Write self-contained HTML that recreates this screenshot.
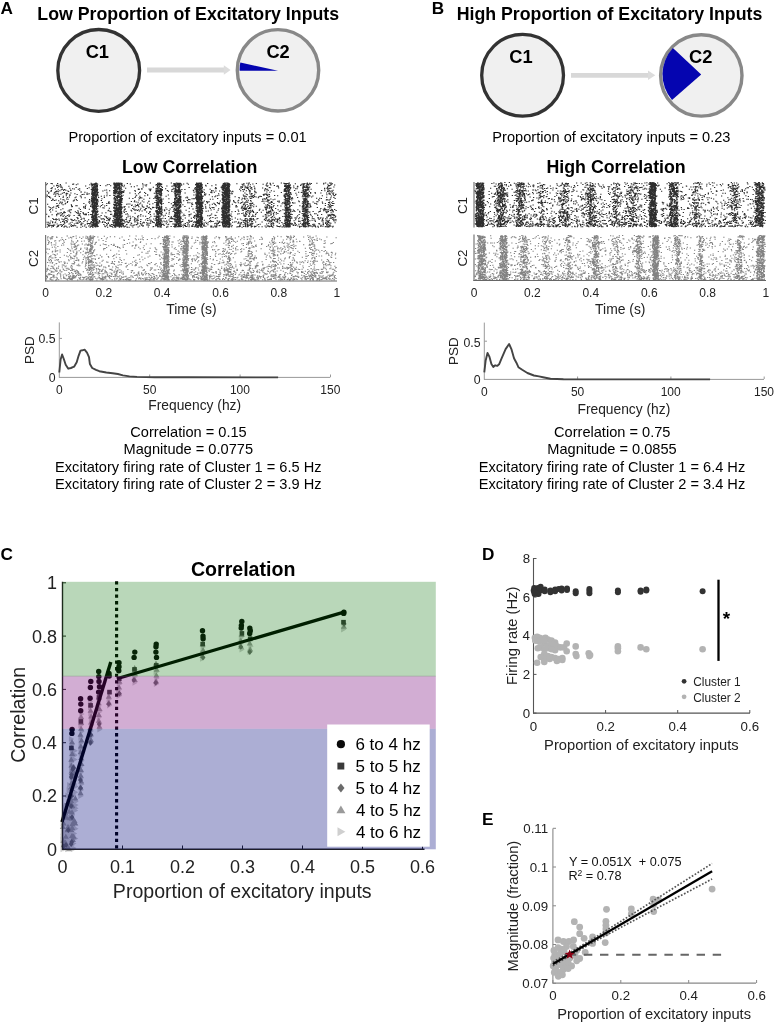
<!DOCTYPE html><html><head><meta charset="utf-8"><style>html,body{margin:0;padding:0;background:#fff;overflow:hidden}svg{display:block;will-change:transform}</style></head><body><svg width="777" height="1024" viewBox="0 0 777 1024" font-family='"Liberation Sans", sans-serif'>
<rect width="777" height="1024" fill="#fff"/>
<text x="0.50" y="13.70" font-size="17.20" text-anchor="start" font-weight="bold" fill="#000">A</text>
<text x="37.35" y="19.50" font-size="17.75" text-anchor="start" font-weight="bold" fill="#000">Low Proportion of Excitatory Inputs</text>
<circle cx="98.7" cy="70.4" r="40.9" fill="#f0f0f0" stroke="#333" stroke-width="3.3"/>
<text x="85.65" y="57.90" font-size="18.30" text-anchor="start" font-weight="bold" fill="#000">C1</text>
<line x1="147" y1="70.05" x2="224.5" y2="70.05" stroke="#d8d8d8" stroke-width="5"/>
<polygon points="223.8,65.3 230.6,70.05 223.8,74.8" fill="#dcdcdc"/>
<circle cx="278" cy="70.3" r="40.7" fill="#f0f0f0" stroke="#888" stroke-width="3.4"/>
<path d="M278 70.8 L239.6 70.8 A38.6 38.6 0 0 1 240.3 62.4 Z" fill="#0505b0"/>
<text x="266.38" y="57.60" font-size="18.30" text-anchor="start" font-weight="bold" fill="#000">C2</text>
<text x="68.53" y="141.90" font-size="14.60" text-anchor="start" fill="#000">Proportion of excitatory inputs = 0.01</text>
<text x="121.94" y="172.80" font-size="17.80" text-anchor="start" font-weight="bold" fill="#000">Low Correlation</text>
<path transform="scale(0.25)" fill="none" stroke="#2e2e2e" stroke-width="4.4" d="M262 732h5m114 0h5m68 0h5m-2 0h5m2 0h5m-4 0h5m1 0h5m2 0h5m116 0h5m30 0h5m44 0h5m15 0h5m-4 0h5m75 0h5m5 0h5m-3 0h5m-1 0h5m-2 0h5m88 0h5m1 0h5m-2 0h5m-1 0h5m81 0h5m67 0h5m51 0h5m27 0h5m67 0h5m68 0h5m11 0h5m1 0h5m-965 1h5m16 0h5m65 0h5m-1 0h5m8 0h5m0 0h5m4 0h5m139 0h5m-3 0h5m1 0h5m65 0h5m-1 0h5m-1 0h5m-1 0h5m23 0h5m38 0h5m-3 0h5m-1 0h5m-4 0h5m-1 0h5m90 0h5m-2 0h5m-3 0h5m-1 0h5m76 0h5m2 0h5m81 0h5m7 0h5m38 0h5m15 0h5m78 0h5m24 0h5m23 0h5m22 0h5m-1123 1h5m21 0h5m146 0h5m-2 0h5m71 0h5m5 0h5m2 0h5m3 0h5m-4 0h5m18 0h5m126 0h5m51 0h5m8 0h5m2 0h5m-1 0h5m-3 0h5m66 0h5m5 0h5m22 0h5m59 0h5m16 0h5m55 0h5m45 0h5m110 0h5m0 0h5m-2 0h5m-4 0h5m65 0h5m21 0h5m-1061 1h5m15 0h5m164 0h5m5 0h5m68 0h5m-1 0h5m-4 0h5m-2 0h5m2 0h5m3 0h5m-2 0h5m78 0h5m55 0h5m2 0h5m0 0h5m53 0h5m13 0h5m-1 0h5m-4 0h5m70 0h5m0 0h5m103 0h5m-2 0h5m28 0h5m186 0h5m-1 0h5m34 0h5m27 0h5m9 0h5m-4 0h5m95 0h5m-4 0h5m-1040 1h5m12 0h5m55 0h5m-3 0h5m7 0h5m66 0h5m3 0h5m6 0h5m4 0h5m-1 0h5m28 0h5m120 0h5m43 0h5m-3 0h5m1 0h5m14 0h5m8 0h5m46 0h5m-4 0h5m9 0h5m-3 0h5m85 0h5m-2 0h5m-1 0h5m6 0h5m2 0h5m89 0h5m50 0h5m10 0h5m60 0h5m3 0h5m49 0h5m4 0h5m9 0h5m58 0h5m-1009 1h5m-2 0h5m68 0h5m-3 0h5m2 0h5m-4 0h5m2 0h5m2 0h5m60 0h5m3 0h5m4 0h5m-2 0h5m-3 0h5m0 0h5m154 0h5m53 0h5m6 0h5m-2 0h5m35 0h5m32 0h5m10 0h5m-4 0h5m89 0h5m9 0h5m-2 0h5m46 0h5m79 0h5m155 0h5m12 0h5m-4 0h5m6 0h5m65 0h5m-1075 1h5m128 0h5m-3 0h5m0 0h5m50 0h5m22 0h5m1 0h5m-1 0h5m0 0h5m143 0h5m3 0h5m1 0h5m-1 0h5m-3 0h5m61 0h5m-1 0h5m-4 0h5m60 0h5m6 0h5m9 0h5m80 0h5m7 0h5m323 0h5m87 0h5m-1144 1h5m115 0h5m49 0h5m5 0h5m0 0h5m4 0h5m41 0h5m26 0h5m-3 0h5m-4 0h5m118 0h5m36 0h5m7 0h5m55 0h5m-4 0h5m0 0h5m6 0h5m3 0h5m57 0h5m1 0h5m-4 0h5m10 0h5m50 0h5m32 0h5m5 0h5m4 0h5m47 0h5m-1 0h5m13 0h5m3 0h5m154 0h5m39 0h5m5 0h5m13 0h5m-2 0h5m-873 1h5m2 0h5m-4 0h5m-3 0h5m2 0h5m97 0h5m81 0h5m3 0h5m38 0h5m1 0h5m64 0h5m0 0h5m0 0h5m-2 0h5m-4 0h5m0 0h5m4 0h5m52 0h5m-3 0h5m-1 0h5m2 0h5m1 0h5m1 0h5m50 0h5m30 0h5m-3 0h5m-4 0h5m3 0h5m0 0h5m0 0h5m159 0h5m55 0h5m79 0h5m1 0h5m100 0h5m-1117 1h5m0 0h5m221 0h5m5 0h5m-1 0h5m-2 0h5m-1 0h5m14 0h5m195 0h5m10 0h5m7 0h5m60 0h5m-3 0h5m-3 0h5m24 0h5m67 0h5m3 0h5m0 0h5m-1 0h5m55 0h5m88 0h5m70 0h5m10 0h5m-3 0h5m0 0h5m156 0h5m-960 1h5m-2 0h5m14 0h5m7 0h5m53 0h5m4 0h5m1 0h5m-4 0h5m-3 0h5m-4 0h5m5 0h5m139 0h5m59 0h5m6 0h5m3 0h5m67 0h5m1 0h5m-1 0h5m4 0h5m79 0h5m8 0h5m-4 0h5m2 0h5m181 0h5m47 0h5m3 0h5m40 0h5m106 0h5m-1 0h5m-1096 1h5m-3 0h5m10 0h5m131 0h5m2 0h5m32 0h5m14 0h5m15 0h5m4 0h5m-3 0h5m-4 0h5m-1 0h5m65 0h5m79 0h5m3 0h5m56 0h5m10 0h5m-1 0h5m62 0h5m-3 0h5m-4 0h5m-3 0h5m-2 0h5m-2 0h5m0 0h5m39 0h5m37 0h5m-2 0h5m-4 0h5m1 0h5m2 0h5m-4 0h5m159 0h5m35 0h5m23 0h5m68 0h5m7 0h5m88 0h5m-1107 1h5m20 0h5m97 0h5m38 0h5m69 0h5m12 0h5m-2 0h5m3 0h5m-3 0h5m90 0h5m41 0h5m3 0h5m24 0h5m20 0h5m10 0h5m3 0h5m-3 0h5m72 0h5m-2 0h5m2 0h5m15 0h5m61 0h5m-1 0h5m-2 0h5m0 0h5m-3 0h5m7 0h5m58 0h5m7 0h5m71 0h5m71 0h5m26 0h5m34 0h5m-3 0h5m4 0h5m84 0h5m-4 0h5m-1085 1h5m36 0h5m87 0h5m6 0h5m0 0h5m-4 0h5m70 0h5m0 0h5m-3 0h5m-4 0h5m8 0h5m145 0h5m10 0h5m37 0h5m7 0h5m87 0h5m95 0h5m2 0h5m-4 0h5m-4 0h5m-3 0h5m3 0h5m101 0h5m48 0h5m33 0h5m26 0h5m4 0h5m0 0h5m33 0h5m21 0h5m6 0h5m-857 1h5m2 0h5m-2 0h5m-4 0h5m-2 0h5m67 0h5m-1 0h5m159 0h5m12 0h5m63 0h5m0 0h5m-4 0h5m61 0h5m0 0h5m-1 0h5m1 0h5m-2 0h5m-2 0h5m99 0h5m1 0h5m78 0h5m133 0h5m14 0h5m-4 0h5m-787 1h5m4 0h5m73 0h5m27 0h5m25 0h5m7 0h5m95 0h5m60 0h5m-3 0h5m9 0h5m66 0h5m93 0h5m6 0h5m12 0h5m45 0h5m0 0h5m138 0h5m73 0h5m16 0h5m13 0h5m-989 1h5m123 0h5m-3 0h5m8 0h5m63 0h5m0 0h5m4 0h5m1 0h5m90 0h5m126 0h5m1 0h5m3 0h5m66 0h5m0 0h5m-2 0h5m92 0h5m2 0h5m-4 0h5m3 0h5m-4 0h5m-2 0h5m44 0h5m15 0h5m156 0h5m-2 0h5m-1 0h5m-4 0h5m-3 0h5m-3 0h5m29 0h5m23 0h5m16 0h5m67 0h5m20 0h5m-1097 1h5m124 0h5m6 0h5m-3 0h5m65 0h5m0 0h5m0 0h5m14 0h5m124 0h5m16 0h5m63 0h5m2 0h5m-2 0h5m2 0h5m65 0h5m0 0h5m0 0h5m80 0h5m4 0h5m13 0h5m-2 0h5m68 0h5m151 0h5m2 0h5m2 0h5m55 0h5m0 0h5m-1 0h5m4 0h5m-1032 1h5m17 0h5m69 0h5m63 0h5m3 0h5m89 0h5m-4 0h5m-2 0h5m148 0h5m-3 0h5m-4 0h5m-4 0h5m9 0h5m55 0h5m42 0h5m20 0h5m1 0h5m8 0h5m4 0h5m48 0h5m23 0h5m-2 0h5m-3 0h5m-4 0h5m3 0h5m0 0h5m0 0h5m50 0h5m16 0h5m11 0h5m66 0h5m66 0h5m0 0h5m-2 0h5m0 0h5m45 0h5m0 0h5m3 0h5m0 0h5m76 0h5m-959 1h5m7 0h5m-4 0h5m-4 0h5m0 0h5m79 0h5m1 0h5m-4 0h5m4 0h5m236 0h5m73 0h5m-3 0h5m3 0h5m95 0h5m2 0h5m0 0h5m159 0h5m64 0h5m9 0h5m7 0h5m31 0h5m-4 0h5m-968 1h5m116 0h5m88 0h5m0 0h5m1 0h5m-1 0h5m1 0h5m146 0h5m73 0h5m-4 0h5m65 0h5m1 0h5m2 0h5m-3 0h5m1 0h5m76 0h5m1 0h5m0 0h5m6 0h5m66 0h5m3 0h5m2 0h5m3 0h5m11 0h5m27 0h5m59 0h5m94 0h5m10 0h5m-4 0h5m-2 0h5m-2 0h5m70 0h5m-1036 1h5m87 0h5m-1 0h5m8 0h5m62 0h5m-2 0h5m2 0h5m0 0h5m-1 0h5m23 0h5m118 0h5m63 0h5m1 0h5m97 0h5m59 0h5m31 0h5m0 0h5m-4 0h5m-3 0h5m-1 0h5m46 0h5m177 0h5m10 0h5m67 0h5m60 0h5m4 0h5m-4 0h5m6 0h5m-1 0h5m-1124 1h5m140 0h5m28 0h5m85 0h5m90 0h5m53 0h5m0 0h5m-4 0h5m3 0h5m-1 0h5m54 0h5m8 0h5m86 0h5m81 0h5m1 0h5m-4 0h5m2 0h5m-1 0h5m-1 0h5m70 0h5m68 0h5m74 0h5m0 0h5m-4 0h5m1 0h5m-951 1h5m78 0h5m23 0h5m52 0h5m-3 0h5m-2 0h5m85 0h5m0 0h5m-1 0h5m155 0h5m18 0h5m32 0h5m-1 0h5m8 0h5m-4 0h5m56 0h5m3 0h5m6 0h5m3 0h5m-2 0h5m48 0h5m-3 0h5m27 0h5m1 0h5m2 0h5m3 0h5m83 0h5m130 0h5m16 0h5m17 0h5m1 0h5m18 0h5m100 0h5m-1100 1h5m71 0h5m75 0h5m-4 0h5m4 0h5m-3 0h5m90 0h5m64 0h5m38 0h5m2 0h5m15 0h5m75 0h5m76 0h5m-2 0h5m3 0h5m1 0h5m-2 0h5m81 0h5m6 0h5m6 0h5m102 0h5m117 0h5m152 0h5m10 0h5m-1005 1h5m48 0h5m-2 0h5m-2 0h5m-2 0h5m3 0h5m-4 0h5m-4 0h5m69 0h5m-1 0h5m89 0h5m5 0h5m57 0h5m11 0h5m63 0h5m0 0h5m57 0h5m5 0h5m45 0h5m45 0h5m-4 0h5m62 0h5m45 0h5m46 0h5m6 0h5m65 0h5m4 0h5m4 0h5m59 0h5m3 0h5m9 0h5m-998 1h5m2 0h5m102 0h5m-2 0h5m-1 0h5m-3 0h5m0 0h5m1 0h5m0 0h5m83 0h5m70 0h5m83 0h5m0 0h5m-2 0h5m37 0h5m31 0h5m7 0h5m41 0h5m6 0h5m-4 0h5m1 0h5m81 0h5m-3 0h5m-1 0h5m5 0h5m5 0h5m50 0h5m2 0h5m12 0h5m138 0h5m-3 0h5m85 0h5m0 0h5m-1006 1h5m7 0h5m122 0h5m-1 0h5m5 0h5m-2 0h5m66 0h5m-4 0h5m-3 0h5m-2 0h5m-1 0h5m12 0h5m110 0h5m27 0h5m63 0h5m0 0h5m7 0h5m68 0h5m1 0h5m13 0h5m81 0h5m-4 0h5m1 0h5m1 0h5m-3 0h5m54 0h5m84 0h5m72 0h5m7 0h5m-3 0h5m52 0h5m-1 0h5m2 0h5m-947 1h5m84 0h5m50 0h5m33 0h5m-4 0h5m7 0h5m-4 0h5m-4 0h5m115 0h5m42 0h5m35 0h5m9 0h5m-3 0h5m8 0h5m65 0h5m8 0h5m89 0h5m-1 0h5m6 0h5m245 0h5m59 0h5m-3 0h5m82 0h5m-1052 1h5m50 0h5m45 0h5m-2 0h5m4 0h5m3 0h5m26 0h5m34 0h5m1 0h5m-2 0h5m4 0h5m145 0h5m3 0h5m1 0h5m4 0h5m51 0h5m-4 0h5m1 0h5m56 0h5m9 0h5m-3 0h5m6 0h5m3 0h5m78 0h5m-3 0h5m13 0h5m226 0h5m0 0h5m3 0h5m-2 0h5m50 0h5m9 0h5m-1 0h5m96 0h5m-1132 1h5m44 0h5m24 0h5m86 0h5m-2 0h5m7 0h5m60 0h5m80 0h5m80 0h5m1 0h5m2 0h5m-1 0h5m-1 0h5m19 0h5m30 0h5m-2 0h5m-4 0h5m0 0h5m-3 0h5m71 0h5m4 0h5m1 0h5m35 0h5m43 0h5m5 0h5m6 0h5m-1 0h5m73 0h5m70 0h5m60 0h5m36 0h5m39 0h5m-3 0h5m57 0h5m25 0h5m-1082 1h5m138 0h5m-4 0h5m0 0h5m45 0h5m18 0h5m-2 0h5m-3 0h5m-4 0h5m9 0h5m10 0h5m100 0h5m20 0h5m-4 0h5m11 0h5m52 0h5m-4 0h5m4 0h5m1 0h5m-4 0h5m0 0h5m47 0h5m7 0h5m-4 0h5m60 0h5m40 0h5m-1 0h5m1 0h5m-4 0h5m-2 0h5m46 0h5m18 0h5m10 0h5m53 0h5m22 0h5m51 0h5m4 0h5m0 0h5m139 0h5m-1099 1h5m17 0h5m39 0h5m93 0h5m6 0h5m2 0h5m19 0h5m46 0h5m165 0h5m5 0h5m52 0h5m-4 0h5m6 0h5m1 0h5m62 0h5m-3 0h5m4 0h5m63 0h5m10 0h5m22 0h5m-3 0h5m8 0h5m72 0h5m16 0h5m127 0h5m54 0h5m111 0h5m-1141 1h5m9 0h5m171 0h5m-3 0h5m71 0h5m0 0h5m0 0h5m13 0h5m51 0h5m83 0h5m-4 0h5m-4 0h5m1 0h5m3 0h5m23 0h5m28 0h5m-1 0h5m-3 0h5m71 0h5m-3 0h5m-1 0h5m5 0h5m-4 0h5m87 0h5m-4 0h5m-4 0h5m6 0h5m4 0h5m6 0h5m38 0h5m22 0h5m91 0h5m35 0h5m7 0h5m-1 0h5m57 0h5m-1 0h5m14 0h5m78 0h5m4 0h5m-1111 1h5m-1 0h5m42 0h5m89 0h5m4 0h5m86 0h5m3 0h5m-4 0h5m8 0h5m128 0h5m-2 0h5m4 0h5m47 0h5m31 0h5m83 0h5m98 0h5m220 0h5m-3 0h5m-4 0h5m-4 0h5m-4 0h5m4 0h5m65 0h5m82 0h5m-1089 1h5m2 0h5m131 0h5m-4 0h5m7 0h5m-3 0h5m-4 0h5m74 0h5m4 0h5m-3 0h5m-4 0h5m-3 0h5m5 0h5m1 0h5m125 0h5m-3 0h5m0 0h5m2 0h5m57 0h5m-4 0h5m1 0h5m-2 0h5m1 0h5m67 0h5m-3 0h5m5 0h5m3 0h5m33 0h5m51 0h5m-4 0h5m3 0h5m0 0h5m10 0h5m209 0h5m6 0h5m63 0h5m85 0h5m-996 1h5m-3 0h5m38 0h5m1 0h5m-3 0h5m-1 0h5m1 0h5m-1 0h5m59 0h5m6 0h5m-4 0h5m4 0h5m1 0h5m3 0h5m67 0h5m57 0h5m-1 0h5m7 0h5m-3 0h5m-3 0h5m-4 0h5m47 0h5m3 0h5m2 0h5m-3 0h5m0 0h5m61 0h5m1 0h5m-4 0h5m-3 0h5m-4 0h5m1 0h5m83 0h5m7 0h5m-4 0h5m1 0h5m-1 0h5m-4 0h5m8 0h5m89 0h5m-2 0h5m40 0h5m82 0h5m58 0h5m1 0h5m-1033 1h5m20 0h5m114 0h5m28 0h5m2 0h5m43 0h5m23 0h5m-1 0h5m14 0h5m-1 0h5m0 0h5m-3 0h5m148 0h5m-3 0h5m51 0h5m2 0h5m-1 0h5m-4 0h5m4 0h5m50 0h5m8 0h5m-1 0h5m4 0h5m35 0h5m10 0h5m30 0h5m-4 0h5m-1 0h5m-1 0h5m93 0h5m75 0h5m71 0h5m34 0h5m17 0h5m-964 1h5m116 0h5m-1 0h5m2 0h5m-2 0h5m67 0h5m-2 0h5m9 0h5m-1 0h5m4 0h5m59 0h5m15 0h5m42 0h5m6 0h5m146 0h5m1 0h5m-4 0h5m-4 0h5m-2 0h5m2 0h5m-3 0h5m-3 0h5m3 0h5m71 0h5m-1 0h5m1 0h5m-2 0h5m214 0h5m25 0h5m1 0h5m39 0h5m21 0h5m6 0h5m13 0h5m-1047 1h5m32 0h5m120 0h5m3 0h5m72 0h5m4 0h5m8 0h5m212 0h5m6 0h5m1 0h5m62 0h5m-4 0h5m53 0h5m65 0h5m102 0h5m133 0h5m43 0h5m9 0h5m98 0h5m-1115 1h5m61 0h5m60 0h5m15 0h5m1 0h5m77 0h5m-1 0h5m3 0h5m11 0h5m30 0h5m121 0h5m69 0h5m16 0h5m42 0h5m0 0h5m-3 0h5m-4 0h5m3 0h5m82 0h5m-2 0h5m-4 0h5m-1 0h5m8 0h5m63 0h5m161 0h5m3 0h5m-4 0h5m3 0h5m46 0h5m-3 0h5m4 0h5m54 0h5m18 0h5m8 0h5m10 0h5m-1145 1h5m50 0h5m12 0h5m95 0h5m-3 0h5m7 0h5m70 0h5m15 0h5m137 0h5m9 0h5m7 0h5m64 0h5m72 0h5m0 0h5m-4 0h5m0 0h5m-2 0h5m84 0h5m-4 0h5m-2 0h5m-1 0h5m-1 0h5m1 0h5m233 0h5m1 0h5m2 0h5m17 0h5m31 0h5m0 0h5m2 0h5m6 0h5m14 0h5m-1035 1h5m133 0h5m-2 0h5m0 0h5m77 0h5m14 0h5m3 0h5m91 0h5m40 0h5m3 0h5m3 0h5m-2 0h5m51 0h5m90 0h5m-4 0h5m102 0h5m-4 0h5m95 0h5m132 0h5m66 0h5m6 0h5m89 0h5m-1100 1h5m35 0h5m1 0h5m24 0h5m52 0h5m22 0h5m1 0h5m62 0h5m9 0h5m66 0h5m8 0h5m64 0h5m0 0h5m4 0h5m3 0h5m48 0h5m-1 0h5m87 0h5m75 0h5m18 0h5m2 0h5m0 0h5m-3 0h5m-1 0h5m-1 0h5m1 0h5m-1 0h5m65 0h5m4 0h5m133 0h5m-4 0h5m3 0h5m59 0h5m6 0h5m80 0h5m11 0h5m-952 1h5m0 0h5m-4 0h5m33 0h5m28 0h5m2 0h5m-1 0h5m7 0h5m148 0h5m3 0h5m60 0h5m5 0h5m62 0h5m-4 0h5m-2 0h5m-1 0h5m5 0h5m8 0h5m0 0h5m68 0h5m-2 0h5m-1 0h5m-2 0h5m-3 0h5m1 0h5m142 0h5m-1 0h5m71 0h5m-3 0h5m67 0h5m3 0h5m-1013 1h5m23 0h5m17 0h5m66 0h5m6 0h5m-2 0h5m22 0h5m0 0h5m-4 0h5m88 0h5m146 0h5m7 0h5m-3 0h5m-2 0h5m54 0h5m1 0h5m69 0h5m-3 0h5m-3 0h5m7 0h5m99 0h5m-4 0h5m0 0h5m3 0h5m63 0h5m28 0h5m33 0h5m-1 0h5m6 0h5m61 0h5m0 0h5m18 0h5m44 0h5m124 0h5m-1040 1h5m15 0h5m-3 0h5m32 0h5m-1 0h5m-4 0h5m-1 0h5m5 0h5m-4 0h5m244 0h5m70 0h5m3 0h5m68 0h5m5 0h5m-2 0h5m78 0h5m-4 0h5m10 0h5m4 0h5m135 0h5m19 0h5m61 0h5m-4 0h5m-4 0h5m6 0h5m-3 0h5m-4 0h5m69 0h5m82 0h5m17 0h5m-1114 1h5m-3 0h5m39 0h5m84 0h5m5 0h5m95 0h5m-2 0h5m-4 0h5m103 0h5m42 0h5m65 0h5m1 0h5m84 0h5m11 0h5m14 0h5m56 0h5m-3 0h5m8 0h5m71 0h5m10 0h5m139 0h5m-4 0h5m59 0h5m-2 0h5m0 0h5m-3 0h5m79 0h5m21 0h5m-1151 1h5m30 0h5m153 0h5m5 0h5m278 0h5m22 0h5m0 0h5m65 0h5m115 0h5m-4 0h5m-3 0h5m-2 0h5m5 0h5m57 0h5m88 0h5m74 0h5m9 0h5m22 0h5m23 0h5m4 0h5m-2 0h5m-1042 1h5m260 0h5m17 0h5m11 0h5m49 0h5m39 0h5m33 0h5m7 0h5m-2 0h5m-2 0h5m49 0h5m2 0h5m3 0h5m68 0h5m1 0h5m6 0h5m10 0h5m50 0h5m28 0h5m-4 0h5m141 0h5m90 0h5m-3 0h5m-1 0h5m49 0h5m4 0h5m-4 0h5m4 0h5m-955 1h5m86 0h5m-4 0h5m-1 0h5m-4 0h5m-2 0h5m1 0h5m49 0h5m13 0h5m9 0h5m-1 0h5m-4 0h5m4 0h5m137 0h5m-3 0h5m68 0h5m-2 0h5m75 0h5m-3 0h5m0 0h5m-3 0h5m90 0h5m0 0h5m3 0h5m-4 0h5m1 0h5m2 0h5m-3 0h5m92 0h5m35 0h5m10 0h5m23 0h5m34 0h5m76 0h5m13 0h5m98 0h5m-1079 1h5m102 0h5m50 0h5m38 0h5m104 0h5m121 0h5m74 0h5m-3 0h5m-2 0h5m2 0h5m-4 0h5m2 0h5m60 0h5m27 0h5m0 0h5m2 0h5m94 0h5m93 0h5m24 0h5m5 0h5m-4 0h5m77 0h5m52 0h5m42 0h5m-1020 1h5m46 0h5m2 0h5m-1 0h5m4 0h5m20 0h5m41 0h5m153 0h5m0 0h5m1 0h5m80 0h5m71 0h5m1 0h5m7 0h5m46 0h5m26 0h5m6 0h5m-4 0h5m-2 0h5m-1 0h5m-4 0h5m0 0h5m53 0h5m-2 0h5m25 0h5m121 0h5m1 0h5m10 0h5m78 0h5m7 0h5m69 0h5m-1077 1h5m66 0h5m43 0h5m2 0h5m-3 0h5m-1 0h5m15 0h5m51 0h5m-2 0h5m-4 0h5m-4 0h5m3 0h5m-3 0h5m4 0h5m-2 0h5m49 0h5m12 0h5m79 0h5m16 0h5m32 0h5m11 0h5m0 0h5m59 0h5m5 0h5m5 0h5m-4 0h5m0 0h5m94 0h5m59 0h5m-1 0h5m-4 0h5m19 0h5m31 0h5m33 0h5m71 0h5m59 0h5m-3 0h5m-4 0h5m3 0h5m-1040 1h5m21 0h5m12 0h5m138 0h5m-3 0h5m73 0h5m11 0h5m-4 0h5m0 0h5m-2 0h5m225 0h5m0 0h5m-4 0h5m65 0h5m-3 0h5m-4 0h5m0 0h5m4 0h5m84 0h5m-2 0h5m-4 0h5m10 0h5m97 0h5m21 0h5m-4 0h5m91 0h5m2 0h5m2 0h5m0 0h5m61 0h5m-1044 1h5m6 0h5m163 0h5m2 0h5m4 0h5m-3 0h5m77 0h5m-2 0h5m8 0h5m-4 0h5m-3 0h5m134 0h5m0 0h5m79 0h5m86 0h5m40 0h5m5 0h5m26 0h5m-4 0h5m-4 0h5m-3 0h5m2 0h5m3 0h5m1 0h5m20 0h5m40 0h5m7 0h5m-4 0h5m4 0h5m23 0h5m36 0h5m76 0h5m-4 0h5m46 0h5m0 0h5m5 0h5m-952 1h5m22 0h5m57 0h5m-3 0h5m7 0h5m90 0h5m1 0h5m215 0h5m-1 0h5m7 0h5m-4 0h5m0 0h5m20 0h5m41 0h5m0 0h5m-2 0h5m-1 0h5m-4 0h5m95 0h5m3 0h5m79 0h5m7 0h5m8 0h5m43 0h5m61 0h5m-1 0h5m75 0h5m5 0h5m-3 0h5m7 0h5m-884 1h5m-1 0h5m0 0h5m-4 0h5m83 0h5m2 0h5m142 0h5m6 0h5m-1 0h5m-1 0h5m64 0h5m-4 0h5m7 0h5m57 0h5m-2 0h5m-3 0h5m2 0h5m-3 0h5m2 0h5m86 0h5m0 0h5m-1 0h5m3 0h5m224 0h5m161 0h5m-1113 1h5m49 0h5m12 0h5m103 0h5m12 0h5m18 0h5m35 0h5m4 0h5m-3 0h5m2 0h5m-1 0h5m56 0h5m17 0h5m68 0h5m0 0h5m59 0h5m81 0h5m5 0h5m-2 0h5m-3 0h5m-2 0h5m105 0h5m32 0h5m54 0h5m47 0h5m81 0h5m3 0h5m3 0h5m17 0h5m140 0h5m-1040 1h5m20 0h5m10 0h5m27 0h5m1 0h5m2 0h5m75 0h5m0 0h5m81 0h5m62 0h5m76 0h5m34 0h5m40 0h5m-2 0h5m-1 0h5m-3 0h5m101 0h5m4 0h5m-2 0h5m113 0h5m120 0h5m-3 0h5m158 0h5m-1126 1h5m274 0h5m-1 0h5m77 0h5m72 0h5m69 0h5m-2 0h5m-4 0h5m23 0h5m30 0h5m-2 0h5m8 0h5m-2 0h5m81 0h5m6 0h5m6 0h5m40 0h5m16 0h5m83 0h5m70 0h5m82 0h5m-852 1h5m-4 0h5m-3 0h5m71 0h5m3 0h5m-4 0h5m43 0h5m76 0h5m20 0h5m-3 0h5m-3 0h5m0 0h5m66 0h5m-2 0h5m11 0h5m57 0h5m-4 0h5m12 0h5m-4 0h5m83 0h5m-3 0h5m-3 0h5m-3 0h5m-2 0h5m-4 0h5m-1 0h5m-2 0h5m56 0h5m32 0h5m209 0h5m41 0h5m7 0h5m-917 1h5m0 0h5m1 0h5m77 0h5m5 0h5m11 0h5m-2 0h5m-4 0h5m37 0h5m23 0h5m51 0h5m10 0h5m63 0h5m0 0h5m6 0h5m71 0h5m0 0h5m-4 0h5m-4 0h5m-3 0h5m5 0h5m56 0h5m14 0h5m82 0h5m20 0h5m138 0h5m-4 0h5m-1 0h5m-4 0h5m-1 0h5m7 0h5m48 0h5m-3 0h5m59 0h5m50 0h5m-979 1h5m0 0h5m-1 0h5m-3 0h5m0 0h5m20 0h5m43 0h5m23 0h5m1 0h5m131 0h5m-4 0h5m2 0h5m0 0h5m1 0h5m26 0h5m31 0h5m-2 0h5m49 0h5m1 0h5m0 0h5m21 0h5m-3 0h5m80 0h5m15 0h5m71 0h5m64 0h5m2 0h5m-3 0h5m81 0h5m-3 0h5m-2 0h5m8 0h5m37 0h5m-3 0h5m-4 0h5m-1009 1h5m26 0h5m19 0h5m103 0h5m-1 0h5m78 0h5m-4 0h5m12 0h5m145 0h5m18 0h5m41 0h5m-3 0h5m-2 0h5m1 0h5m-1 0h5m-1 0h5m68 0h5m-2 0h5m-1 0h5m-4 0h5m86 0h5m-2 0h5m-4 0h5m16 0h5m-1 0h5m57 0h5m66 0h5m27 0h5m54 0h5m3 0h5m-2 0h5m0 0h5m52 0h5m0 0h5m-2 0h5m-3 0h5m-1020 1h5m57 0h5m90 0h5m-1 0h5m5 0h5m1 0h5m-2 0h5m83 0h5m1 0h5m86 0h5m50 0h5m-2 0h5m3 0h5m-4 0h5m55 0h5m12 0h5m62 0h5m1 0h5m1 0h5m-1 0h5m-1 0h5m-4 0h5m29 0h5m5 0h5m50 0h5m4 0h5m59 0h5m76 0h5m34 0h5m56 0h5m50 0h5m4 0h5m92 0h5m-1021 1h5m48 0h5m7 0h5m2 0h5m1 0h5m74 0h5m14 0h5m-2 0h5m152 0h5m-2 0h5m-3 0h5m65 0h5m0 0h5m28 0h5m35 0h5m1 0h5m-4 0h5m90 0h5m-3 0h5m-2 0h5m251 0h5m53 0h5m87 0h5m-1061 1h5m-1 0h5m110 0h5m-2 0h5m-3 0h5m0 0h5m-4 0h5m83 0h5m-2 0h5m-3 0h5m0 0h5m3 0h5m142 0h5m72 0h5m-4 0h5m-3 0h5m1 0h5m-2 0h5m31 0h5m22 0h5m14 0h5m79 0h5m-3 0h5m5 0h5m-2 0h5m-3 0h5m0 0h5m51 0h5m98 0h5m17 0h5m40 0h5m6 0h5m68 0h5m-3 0h5m-1 0h5m42 0h5m-1067 1h5m7 0h5m68 0h5m66 0h5m12 0h5m-3 0h5m-2 0h5m62 0h5m1 0h5m-2 0h5m-2 0h5m1 0h5m2 0h5m68 0h5m81 0h5m53 0h5m19 0h5m59 0h5m1 0h5m-2 0h5m0 0h5m85 0h5m-2 0h5m-1 0h5m8 0h5m-3 0h5m-3 0h5m130 0h5m17 0h5m-1 0h5m62 0h5m9 0h5m4 0h5m134 0h5m1 0h5m1 0h5m-949 1h5m0 0h5m1 0h5m0 0h5m66 0h5m2 0h5m8 0h5m-3 0h5m0 0h5m135 0h5m2 0h5m-4 0h5m-4 0h5m2 0h5m63 0h5m-3 0h5m1 0h5m65 0h5m1 0h5m-1 0h5m103 0h5m7 0h5m-4 0h5m29 0h5m34 0h5m143 0h5m1 0h5m3 0h5m-4 0h5m-4 0h5m55 0h5m-1 0h5m50 0h5m-1075 1h5m7 0h5m85 0h5m52 0h5m4 0h5m0 0h5m21 0h5m214 0h5m-1 0h5m6 0h5m-1 0h5m-3 0h5m57 0h5m10 0h5m20 0h5m47 0h5m2 0h5m88 0h5m2 0h5m23 0h5m63 0h5m68 0h5m66 0h5m-2 0h5m-2 0h5m58 0h5m-3 0h5m-2 0h5m-991 1h5m56 0h5m76 0h5m89 0h5m63 0h5m100 0h5m-1 0h5m52 0h5m-2 0h5m0 0h5m0 0h5m12 0h5m11 0h5m38 0h5m94 0h5m89 0h5m157 0h5m75 0h5m-974 1h5m29 0h5m73 0h5m10 0h5m-2 0h5m-4 0h5m68 0h5m4 0h5m1 0h5m-1 0h5m-2 0h5m79 0h5m52 0h5m-4 0h5m4 0h5m74 0h5m1 0h5m64 0h5m4 0h5m13 0h5m59 0h5m5 0h5m1 0h5m-2 0h5m10 0h5m31 0h5m114 0h5m41 0h5m26 0h5m1 0h5m36 0h5m-842 1h5m7 0h5m0 0h5m-4 0h5m12 0h5m81 0h5m111 0h5m-3 0h5m36 0h5m56 0h5m5 0h5m3 0h5m67 0h5m-2 0h5m-3 0h5m95 0h5m-1 0h5m1 0h5m96 0h5m46 0h5m4 0h5m41 0h5m1 0h5m22 0h5m1 0h5m63 0h5m2 0h5m2 0h5m-966 1h5m92 0h5m100 0h5m48 0h5m105 0h5m5 0h5m61 0h5m6 0h5m-4 0h5m66 0h5m27 0h5m66 0h5m-4 0h5m6 0h5m-3 0h5m0 0h5m-4 0h5m13 0h5m108 0h5m32 0h5m67 0h5m54 0h5m-1 0h5m106 0h5m-969 1h5m-1 0h5m4 0h5m51 0h5m16 0h5m0 0h5m6 0h5m-1 0h5m55 0h5m88 0h5m-2 0h5m-2 0h5m-4 0h5m-3 0h5m1 0h5m-3 0h5m55 0h5m-2 0h5m76 0h5m-4 0h5m-3 0h5m4 0h5m-4 0h5m-3 0h5m25 0h5m56 0h5m1 0h5m2 0h5m-4 0h5m3 0h5m163 0h5m61 0h5m-3 0h5m37 0h5m8 0h5m-4 0h5m0 0h5m-1 0h5m4 0h5m-3 0h5m-3 0h5m29 0h5m-1 0h5m-1035 1h5m118 0h5m6 0h5m5 0h5m-4 0h5m69 0h5m13 0h5m-3 0h5m-2 0h5m56 0h5m26 0h5m62 0h5m-2 0h5m52 0h5m80 0h5m4 0h5m5 0h5m0 0h5m-4 0h5m11 0h5m-2 0h5m74 0h5m-2 0h5m52 0h5m7 0h5m3 0h5m77 0h5m60 0h5m-2 0h5m-3 0h5m3 0h5m-1 0h5m-4 0h5m92 0h5m32 0h5m25 0h5m-1081 1h5m1 0h5m101 0h5m14 0h5m1 0h5m-3 0h5m47 0h5m31 0h5m-3 0h5m1 0h5m0 0h5m-4 0h5m-1 0h5m59 0h5m77 0h5m0 0h5m1 0h5m48 0h5m-4 0h5m1 0h5m-3 0h5m3 0h5m68 0h5m-3 0h5m4 0h5m-3 0h5m-3 0h5m2 0h5m78 0h5m6 0h5m-4 0h5m-1 0h5m3 0h5m15 0h5m45 0h5m-1 0h5m120 0h5m17 0h5m0 0h5m11 0h5m-895 1h5m98 0h5m-3 0h5m-4 0h5m-4 0h5m28 0h5m43 0h5m-2 0h5m4 0h5m-2 0h5m5 0h5m-3 0h5m130 0h5m1 0h5m-3 0h5m-3 0h5m0 0h5m36 0h5m13 0h5m13 0h5m4 0h5m-2 0h5m56 0h5m4 0h5m0 0h5m66 0h5m14 0h5m13 0h5m-4 0h5m-4 0h5m53 0h5m114 0h5m-2 0h5m38 0h5m6 0h5m-4 0h5m2 0h5m15 0h5m39 0h5m3 0h5m87 0h5m-4 0h5m-950 1h5m2 0h5m-3 0h5m-1 0h5m2 0h5m68 0h5m-1 0h5m12 0h5m155 0h5m49 0h5m-2 0h5m-1 0h5m-1 0h5m36 0h5m-3 0h5m2 0h5m18 0h5m2 0h5m2 0h5m2 0h5m94 0h5m1 0h5m29 0h5m6 0h5m7 0h5m9 0h5m163 0h5m68 0h5m3 0h5m93 0h5m-951 1h5m-4 0h5m0 0h5m77 0h5m6 0h5m78 0h5m23 0h5m107 0h5m18 0h5m38 0h5m15 0h5m-2 0h5m4 0h5m-3 0h5m-3 0h5m0 0h5m15 0h5m43 0h5m14 0h5m3 0h5m-1 0h5m-2 0h5m0 0h5m56 0h5m28 0h5m63 0h5m-2 0h5m55 0h5m0 0h5m9 0h5m7 0h5m2 0h5m133 0h5m-1084 1h5m19 0h5m91 0h5m6 0h5m9 0h5m-4 0h5m-3 0h5m43 0h5m-1 0h5m37 0h5m145 0h5m6 0h5m-4 0h5m51 0h5m0 0h5m3 0h5m0 0h5m65 0h5m-3 0h5m3 0h5m-4 0h5m-3 0h5m0 0h5m2 0h5m39 0h5m32 0h5m-3 0h5m-4 0h5m-4 0h5m16 0h5m39 0h5m38 0h5m47 0h5m15 0h5m70 0h5m16 0h5m32 0h5m-2 0h5m1 0h5m-2 0h5m7 0h5m20 0h5m27 0h5m-1068 1h5m103 0h5m41 0h5m41 0h5m32 0h5m-3 0h5m3 0h5m-3 0h5m146 0h5m2 0h5m6 0h5m2 0h5m131 0h5m2 0h5m-3 0h5m0 0h5m-4 0h5m-1 0h5m60 0h5m21 0h5m-3 0h5m-4 0h5m1 0h5m87 0h5m6 0h5m80 0h5m36 0h5m2 0h5m116 0h5m32 0h5m24 0h5m0 0h5m-1094 1h5m-4 0h5m118 0h5m1 0h5m-3 0h5m-4 0h5m2 0h5m-2 0h5m72 0h5m-3 0h5m0 0h5m4 0h5m124 0h5m25 0h5m-2 0h5m36 0h5m93 0h5m4 0h5m98 0h5m-4 0h5m2 0h5m-4 0h5m-4 0h5m3 0h5m210 0h5m7 0h5m6 0h5m-3 0h5m-1 0h5m-4 0h5m66 0h5m-1 0h5m-3 0h5m-980 1h5m103 0h5m-2 0h5m6 0h5m85 0h5m1 0h5m29 0h5m2 0h5m34 0h5m63 0h5m71 0h5m-4 0h5m-2 0h5m55 0h5m22 0h5m0 0h5m-2 0h5m-2 0h5m49 0h5m14 0h5m9 0h5m2 0h5m-4 0h5m-3 0h5m6 0h5m88 0h5m131 0h5m67 0h5m22 0h5m-1055 1h5m172 0h5m2 0h5m0 0h5m-2 0h5m-4 0h5m66 0h5m0 0h5m10 0h5m-2 0h5m24 0h5m40 0h5m42 0h5m26 0h5m-3 0h5m62 0h5m-3 0h5m1 0h5m5 0h5m0 0h5m60 0h5m16 0h5m37 0h5m46 0h5m1 0h5m-4 0h5m4 0h5m8 0h5m40 0h5m0 0h5m161 0h5m6 0h5m54 0h5m5 0h5m37 0h5m49 0h5m-957 1h5m90 0h5m17 0h5m137 0h5m-1 0h5m-3 0h5m7 0h5m47 0h5m6 0h5m-3 0h5m-4 0h5m53 0h5m12 0h5m5 0h5m-3 0h5m-1 0h5m-2 0h5m50 0h5m30 0h5m11 0h5m71 0h5m77 0h5m11 0h5m50 0h5m1 0h5m-1 0h5m-2 0h5m63 0h5m2 0h5m-3 0h5m77 0h5m-1066 1h5m28 0h5m87 0h5m3 0h5m-4 0h5m-2 0h5m16 0h5m42 0h5m-3 0h5m14 0h5m-3 0h5m0 0h5m60 0h5m167 0h5m4 0h5m57 0h5m23 0h5m76 0h5m-1 0h5m1 0h5m98 0h5m124 0h5m4 0h5m-3 0h5m53 0h5m-4 0h5m-876 1h5m30 0h5m74 0h5m-2 0h5m-4 0h5m-4 0h5m16 0h5m40 0h5m8 0h5m22 0h5m52 0h5m0 0h5m-2 0h5m55 0h5m0 0h5m-1 0h5m86 0h5m5 0h5m30 0h5m59 0h5m7 0h5m-1 0h5m50 0h5m22 0h5m-4 0h5m57 0h5m79 0h5m63 0h5m8 0h5m-999 1h5m124 0h5m89 0h5m-3 0h5m5 0h5m0 0h5m-3 0h5m-2 0h5m-1 0h5m141 0h5m71 0h5m88 0h5m1 0h5m-4 0h5m-1 0h5m79 0h5m7 0h5m6 0h5m153 0h5m61 0h5m86 0h5m4 0h5m71 0h5m-1092 1h5m138 0h5m3 0h5m-2 0h5m17 0h5m16 0h5m28 0h5m0 0h5m1 0h5m51 0h5m15 0h5m-4 0h5m0 0h5m70 0h5m-2 0h5m0 0h5m54 0h5m10 0h5m4 0h5m65 0h5m5 0h5m3 0h5m86 0h5m-4 0h5m0 0h5m5 0h5m26 0h5m-4 0h5m31 0h5m15 0h5m89 0h5m43 0h5m-1 0h5m14 0h5m40 0h5m0 0h5m5 0h5m70 0h5m20 0h5m0 0h5m-1050 1h5m12 0h5m0 0h5m56 0h5m0 0h5m-1 0h5m-3 0h5m-3 0h5m71 0h5m-1 0h5m-4 0h5m-1 0h5m116 0h5m36 0h5m57 0h5m14 0h5m0 0h5m-2 0h5m-1 0h5m71 0h5m-2 0h5m-4 0h5m-4 0h5m-1 0h5m52 0h5m30 0h5m-4 0h5m-1 0h5m4 0h5m-4 0h5m-4 0h5m88 0h5m58 0h5m2 0h5m27 0h5m43 0h5m36 0h5m12 0h5m3 0h5m-4 0h5m-843 1h5m1 0h5m20 0h5m42 0h5m175 0h5m53 0h5m12 0h5m-3 0h5m59 0h5m9 0h5m1 0h5m78 0h5m-1 0h5m3 0h5m1 0h5m-4 0h5m-4 0h5m79 0h5m3 0h5m-3 0h5m60 0h5m50 0h5m33 0h5m62 0h5m88 0h5m-1101 1h5m111 0h5m24 0h5m-1 0h5m4 0h5m-1 0h5m72 0h5m-2 0h5m5 0h5m2 0h5m80 0h5m51 0h5m73 0h5m9 0h5m44 0h5m17 0h5m14 0h5m84 0h5m-4 0h5m-4 0h5m4 0h5m-4 0h5m5 0h5m45 0h5m52 0h5m116 0h5m74 0h5m-4 0h5m-1 0h5m7 0h5m71 0h5m-1092 1h5m53 0h5m68 0h5m15 0h5m1 0h5m84 0h5m-2 0h5m-3 0h5m12 0h5m134 0h5m3 0h5m88 0h5m41 0h5m12 0h5m3 0h5m78 0h5m6 0h5m9 0h5m57 0h5m224 0h5m-2 0h5m-3 0h5m7 0h5m90 0h5m-1131 1h5m87 0h5m42 0h5m29 0h5m5 0h5m18 0h5m73 0h5m0 0h5m46 0h5m2 0h5m7 0h5m-4 0h5m28 0h5m112 0h5m7 0h5m1 0h5m66 0h5m-1 0h5m19 0h5m67 0h5m6 0h5m0 0h5m-4 0h5m-3 0h5m25 0h5m0 0h5m37 0h5m19 0h5m60 0h5m2 0h5m2 0h5m41 0h5m13 0h5m-2 0h5m65 0h5m8 0h5m-1034 1h5m158 0h5m74 0h5m12 0h5m-4 0h5m6 0h5m-4 0h5m4 0h5m15 0h5m52 0h5m53 0h5m0 0h5m-4 0h5m-4 0h5m-3 0h5m48 0h5m2 0h5m8 0h5m-3 0h5m2 0h5m65 0h5m-3 0h5m-4 0h5m2 0h5m16 0h5m64 0h5m2 0h5m-3 0h5m-4 0h5m5 0h5m-1 0h5m24 0h5m19 0h5m-2 0h5m83 0h5m4 0h5m7 0h5m55 0h5m3 0h5m56 0h5m6 0h5m8 0h5m3 0h5m65 0h5m-4 0h5m-3 0h5m3 0h5m-3 0h5m-988 1h5m25 0h5m0 0h5m4 0h5m75 0h5m5 0h5m-3 0h5m-4 0h5m6 0h5m3 0h5m73 0h5m17 0h5m9 0h5m13 0h5m-3 0h5m0 0h5m-4 0h5m4 0h5m140 0h5m0 0h5m-4 0h5m4 0h5m27 0h5m59 0h5m-2 0h5m1 0h5m-3 0h5m0 0h5m141 0h5m10 0h5m65 0h5m-3 0h5m55 0h5m5 0h5m-4 0h5m9 0h5m-1041 1h5m29 0h5m130 0h5m-2 0h5m1 0h5m74 0h5m16 0h5m-3 0h5m130 0h5m4 0h5m1 0h5m52 0h5m22 0h5m-3 0h5m68 0h5m0 0h5m-4 0h5m0 0h5m0 0h5m38 0h5m2 0h5m33 0h5m1 0h5m1 0h5m88 0h5m61 0h5m16 0h5m52 0h5m-4 0h5m-1 0h5m4 0h5m51 0h5m5 0h5m-3 0h5m-2 0h5m37 0h5m-1064 1h5m120 0h5m35 0h5m-4 0h5m0 0h5m-1 0h5m21 0h5m38 0h5m3 0h5m-4 0h5m1 0h5m11 0h5m103 0h5m12 0h5m10 0h5m3 0h5m25 0h5m42 0h5m4 0h5m61 0h5m-3 0h5m58 0h5m32 0h5m-1 0h5m0 0h5m0 0h5m8 0h5m47 0h5m6 0h5m22 0h5m52 0h5m21 0h5m54 0h5m2 0h5m62 0h5m-3 0h5m-848 1h5m-1 0h5m28 0h5m38 0h5m-3 0h5m17 0h5m140 0h5m3 0h5m1 0h5m58 0h5m-2 0h5m-1 0h5m73 0h5m2 0h5m95 0h5m-4 0h5m-3 0h5m0 0h5m-3 0h5m-1 0h5m-4 0h5m-2 0h5m62 0h5m0 0h5m8 0h5m65 0h5m74 0h5m64 0h5m95 0h5m-1119 1h5m15 0h5m87 0h5m49 0h5m0 0h5m57 0h5m13 0h5m1 0h5m-4 0h5m1 0h5m0 0h5m0 0h5m-2 0h5m77 0h5m58 0h5m3 0h5m-2 0h5m3 0h5m-4 0h5m57 0h5m-4 0h5m3 0h5m35 0h5m23 0h5m-4 0h5m8 0h5m1 0h5m-4 0h5m2 0h5m5 0h5m64 0h5m11 0h5m52 0h5m-2 0h5m104 0h5m59 0h5m4 0h5m58 0h5m0 0h5m75 0h5m-962 1h5m28 0h5m2 0h5m73 0h5m-2 0h5m-3 0h5m3 0h5m10 0h5m38 0h5m47 0h5m-2 0h5m11 0h5m20 0h5m12 0h5m-2 0h5m46 0h5m5 0h5m2 0h5m65 0h5m3 0h5m1 0h5m6 0h5m27 0h5m44 0h5m1 0h5m-2 0h5m6 0h5m59 0h5m0 0h5m10 0h5m0 0h5m60 0h5m16 0h5m12 0h5m37 0h5m3 0h5m62 0h5m59 0h5m-1037 1h5m120 0h5m9 0h5m69 0h5m-3 0h5m0 0h5m4 0h5m154 0h5m-3 0h5m0 0h5m63 0h5m72 0h5m4 0h5m-3 0h5m-2 0h5m-4 0h5m63 0h5m7 0h5m12 0h5m-4 0h5m-3 0h5m232 0h5m-1 0h5m7 0h5m52 0h5m-847 1h5m-3 0h5m4 0h5m77 0h5m0 0h5m24 0h5m30 0h5m94 0h5m5 0h5m30 0h5m15 0h5m7 0h5m54 0h5m-4 0h5m14 0h5m2 0h5m-4 0h5m5 0h5m79 0h5m5 0h5m2 0h5m-2 0h5m-2 0h5m63 0h5m153 0h5m-3 0h5m-4 0h5m-1 0h5m4 0h5m46 0h5m-4 0h5m-1 0h5m-4 0h5m1 0h5m-1 0h5m-1 0h5m-3 0h5m-879 1h5m13 0h5m-2 0h5m2 0h5m75 0h5m6 0h5m-3 0h5m16 0h5m30 0h5m65 0h5m25 0h5m-3 0h5m26 0h5m24 0h5m1 0h5m3 0h5m-1 0h5m72 0h5m10 0h5m45 0h5m36 0h5m-2 0h5m-4 0h5m-3 0h5m-3 0h5m5 0h5m-4 0h5m55 0h5m0 0h5m53 0h5m187 0h5m57 0h5m-3 0h5m1 0h5m19 0h5m-1129 1h5m78 0h5m32 0h5m52 0h5m3 0h5m76 0h5m-2 0h5m-4 0h5m2 0h5m2 0h5m90 0h5m48 0h5m3 0h5m-2 0h5m57 0h5m89 0h5m1 0h5m91 0h5m73 0h5m78 0h5m-3 0h5m19 0h5m51 0h5m4 0h5m-2 0h5m63 0h5m-3 0h5m-2 0h5m93 0h5m5 0h5m-1100 1h5m125 0h5m-3 0h5m79 0h5m5 0h5m0 0h5m4 0h5m56 0h5m4 0h5m3 0h5m11 0h5m58 0h5m-3 0h5m11 0h5m32 0h5m15 0h5m73 0h5m-3 0h5m-1 0h5m85 0h5m11 0h5m3 0h5m-3 0h5m-3 0h5m-4 0h5m61 0h5m123 0h5m14 0h5m14 0h5m-1 0h5m0 0h5m-1 0h5m23 0h5m19 0h5m3 0h5m70 0h5m3 0h5m3 0h5m-1109 1h5m62 0h5m1 0h5m83 0h5m4 0h5m78 0h5m5 0h5m-3 0h5m-1 0h5m-2 0h5m10 0h5m39 0h5m92 0h5m7 0h5m47 0h5m-3 0h5m-3 0h5m11 0h5m73 0h5m-2 0h5m36 0h5m66 0h5m32 0h5m12 0h5m91 0h5m14 0h5m48 0h5m12 0h5m14 0h5m43 0h5m-4 0h5m1 0h5m48 0h5m12 0h5m0 0h5m3 0h5m-1118 1h5m74 0h5m92 0h5m-3 0h5m0 0h5m48 0h5m22 0h5m0 0h5m4 0h5m0 0h5m-1 0h5m35 0h5m10 0h5m36 0h5m43 0h5m81 0h5m-4 0h5m24 0h5m35 0h5m-1 0h5m-2 0h5m-1 0h5m-3 0h5m-2 0h5m-1 0h5m63 0h5m13 0h5m-4 0h5m0 0h5m11 0h5m-4 0h5m-3 0h5m72 0h5m5 0h5m3 0h5m22 0h5m10 0h5m83 0h5m0 0h5m4 0h5m0 0h5m47 0h5m-1 0h5m4 0h5m-852 1h5m73 0h5m4 0h5m80 0h5m72 0h5m-2 0h5m42 0h5m20 0h5m4 0h5m1 0h5m-2 0h5m85 0h5m81 0h5m3 0h5m0 0h5m1 0h5m53 0h5m113 0h5m51 0h5m25 0h5m43 0h5m-1 0h5m88 0h5m1 0h5m-2 0h5m9 0h5m-1038 1h5m72 0h5m39 0h5m32 0h5m-3 0h5m7 0h5m136 0h5m16 0h5m8 0h5m43 0h5m-4 0h5m-3 0h5m-1 0h5m69 0h5m0 0h5m3 0h5m-4 0h5m89 0h5m6 0h5m79 0h5m14 0h5m76 0h5m-3 0h5m25 0h5m24 0h5m138 0h5m-1027 1h5m90 0h5m0 0h5m-1 0h5m9 0h5m61 0h5m1 0h5m-3 0h5m1 0h5m6 0h5m40 0h5m26 0h5m6 0h5m49 0h5m-1 0h5m6 0h5m54 0h5m9 0h5m73 0h5m5 0h5m-4 0h5m29 0h5m54 0h5m-2 0h5m-1 0h5m11 0h5m-3 0h5m74 0h5m-3 0h5m78 0h5m76 0h5m52 0h5m3 0h5m99 0h5m-1112 1h5m145 0h5m5 0h5m-1 0h5m46 0h5m25 0h5m-1 0h5m5 0h5m7 0h5m123 0h5m0 0h5m0 0h5m3 0h5m63 0h5m10 0h5m58 0h5m11 0h5m2 0h5m9 0h5m58 0h5m-1 0h5m-2 0h5m-3 0h5m7 0h5m1 0h5m35 0h5m114 0h5m-3 0h5m37 0h5m22 0h5m2 0h5m42 0h5m26 0h5m-4 0h5m-2 0h5m-915 1h5m40 0h5m3 0h5m0 0h5m-2 0h5m2 0h5m62 0h5m-2 0h5m-4 0h5m-4 0h5m8 0h5m-3 0h5m1 0h5m-3 0h5m13 0h5m91 0h5m39 0h5m43 0h5m22 0h5m69 0h5m-1 0h5m90 0h5m3 0h5m-4 0h5m35 0h5m39 0h5m23 0h5m58 0h5m1 0h5m84 0h5m3 0h5m26 0h5m-1 0h5m33 0h5m21 0h5m-3 0h5m28 0h5m14 0h5m-1081 1h5m17 0h5m18 0h5m137 0h5m14 0h5m161 0h5m12 0h5m60 0h5m-3 0h5m-4 0h5m38 0h5m27 0h5m-2 0h5m2 0h5m92 0h5m-1 0h5m10 0h5m8 0h5m75 0h5m151 0h5m52 0h5m-2 0h5m75 0h5m-4 0h5m-2 0h5m-1110 1h5m50 0h5m51 0h5m53 0h5m4 0h5m0 0h5m88 0h5m0 0h5m-4 0h5m97 0h5m7 0h5m22 0h5m0 0h5m4 0h5m2 0h5m54 0h5m4 0h5m-3 0h5m-1 0h5m74 0h5m2 0h5m81 0h5m16 0h5m83 0h5m60 0h5m6 0h5m60 0h5m-3 0h5m3 0h5m-2 0h5m62 0h5m0 0h5m7 0h5m30 0h5m29 0h5m-3 0h5m17 0h5m-965 1h5m-4 0h5m11 0h5m68 0h5m4 0h5m-2 0h5m0 0h5m1 0h5m135 0h5m0 0h5m-2 0h5m-3 0h5m9 0h5m23 0h5m17 0h5m3 0h5m0 0h5m59 0h5m16 0h5m-4 0h5m-4 0h5m-1 0h5m59 0h5m19 0h5m7 0h5m1 0h5m68 0h5m-4 0h5m3 0h5m49 0h5m34 0h5m8 0h5m40 0h5m1 0h5m1 0h5m0 0h5m35 0h5m20 0h5m8 0h5m82 0h5m-1069 1h5m41 0h5m21 0h5m16 0h5m13 0h5m-2 0h5m8 0h5m68 0h5m-3 0h5m-3 0h5m15 0h5m8 0h5m97 0h5m23 0h5m5 0h5m56 0h5m1 0h5m1 0h5m1 0h5m-2 0h5m82 0h5m78 0h5m14 0h5m-3 0h5m99 0h5m10 0h5m32 0h5m2 0h5m27 0h5m33 0h5m7 0h5m-3 0h5m61 0h5m-2 0h5m-986 1h5m4 0h5m-1 0h5m19 0h5m83 0h5m6 0h5m37 0h5m35 0h5m1 0h5m5 0h5m143 0h5m72 0h5m1 0h5m3 0h5m4 0h5m57 0h5m-2 0h5m-2 0h5m-2 0h5m-3 0h5m-2 0h5m-1 0h5m-3 0h5m77 0h5m-3 0h5m1 0h5m0 0h5m7 0h5m78 0h5m-4 0h5m65 0h5m71 0h5m-3 0h5m4 0h5m64 0h5m75 0h5m-1071 1h5m163 0h5m46 0h5m-1 0h5m2 0h5m11 0h5m140 0h5m6 0h5m53 0h5m9 0h5m-2 0h5m-4 0h5m67 0h5m2 0h5m0 0h5m0 0h5m80 0h5m-3 0h5m4 0h5m-2 0h5m62 0h5m167 0h5m66 0h5m10 0h5m-1005 1h5m73 0h5m0 0h5m60 0h5m0 0h5m75 0h5m-3 0h5m5 0h5m-2 0h5m3 0h5m48 0h5m92 0h5m23 0h5m38 0h5m7 0h5m82 0h5m89 0h5m-4 0h5m-3 0h5m-3 0h5m-3 0h5m-2 0h5m108 0h5m50 0h5m9 0h5m39 0h5m12 0h5m57 0h5m-3 0h5m7 0h5m-985 1h5m78 0h5m120 0h5m16 0h5m-4 0h5m-2 0h5m106 0h5m35 0h5m-3 0h5m4 0h5m-4 0h5m51 0h5m4 0h5m-4 0h5m73 0h5m98 0h5m-1 0h5m65 0h5m10 0h5m10 0h5m109 0h5m27 0h5m9 0h5m46 0h5m-892 1h5m45 0h5m-4 0h5m8 0h5m78 0h5m-1 0h5m0 0h5m5 0h5m17 0h5m113 0h5m-2 0h5m4 0h5m59 0h5m-4 0h5m-2 0h5m80 0h5m11 0h5m80 0h5m-3 0h5m-1 0h5m52 0h5m111 0h5m60 0h5m73 0h5m2 0h5m31 0h5m1 0h5m-1034 1h5m101 0h5m-1 0h5m34 0h5m69 0h5m-3 0h5m0 0h5m146 0h5m9 0h5m11 0h5m25 0h5m19 0h5m7 0h5m-4 0h5m-4 0h5m1 0h5m39 0h5m14 0h5m4 0h5m7 0h5m37 0h5m38 0h5m-1 0h5m-2 0h5m2 0h5m16 0h5m21 0h5m30 0h5m76 0h5m14 0h5m4 0h5m6 0h5m30 0h5m8 0h5m5 0h5m45 0h5m2 0h5m-2 0h5m-1042 1h5m37 0h5m84 0h5m13 0h5m30 0h5m4 0h5m7 0h5m-4 0h5m46 0h5m-2 0h5m15 0h5m-2 0h5m3 0h5m2 0h5m14 0h5m125 0h5m5 0h5m51 0h5m3 0h5m-4 0h5m4 0h5m13 0h5m61 0h5m-1 0h5m95 0h5m7 0h5m65 0h5m150 0h5m-1 0h5m-4 0h5m2 0h5m-4 0h5m2 0h5m74 0h5m78 0h5m0 0h5m-1108 1h5m131 0h5m-1 0h5m71 0h5m18 0h5m-4 0h5m-4 0h5m-3 0h5m2 0h5m0 0h5m77 0h5m33 0h5m150 0h5m27 0h5m-1 0h5m2 0h5m0 0h5m78 0h5m15 0h5m3 0h5m102 0h5m34 0h5m96 0h5m1 0h5m23 0h5m13 0h5m67 0h5m44 0h5m-1132 1h5m35 0h5m87 0h5m0 0h5m4 0h5m24 0h5m-1 0h5m71 0h5m160 0h5m-1 0h5m71 0h5m46 0h5m23 0h5m2 0h5m93 0h5m78 0h5m4 0h5m9 0h5m149 0h5m-1 0h5m52 0h5m2 0h5m2 0h5m80 0h5m1 0h5m8 0h5m-1092 1h5m-2 0h5m22 0h5m89 0h5m84 0h5m-4 0h5m1 0h5m12 0h5m26 0h5m129 0h5m-3 0h5m48 0h5m4 0h5m75 0h5m101 0h5m-4 0h5m6 0h5m0 0h5m0 0h5m87 0h5m67 0h5m-4 0h5m55 0h5m6 0h5m59 0h5m7 0h5m35 0h5m53 0h5m-1077 1h5m18 0h5m29 0h5m51 0h5m2 0h5m0 0h5m-2 0h5m69 0h5m3 0h5m0 0h5m1 0h5m153 0h5m21 0h5m31 0h5m-3 0h5m-2 0h5m-2 0h5m1 0h5m2 0h5m70 0h5m5 0h5m34 0h5m13 0h5m37 0h5m-1 0h5m-3 0h5m-4 0h5m3 0h5m-4 0h5m52 0h5m1 0h5m-3 0h5m106 0h5m56 0h5m61 0h5m0 0h5m13 0h5m63 0h5m-1048 1h5m22 0h5m16 0h5m57 0h5m20 0h5m51 0h5m8 0h5m-2 0h5m2 0h5m216 0h5m30 0h5m34 0h5m6 0h5m12 0h5m52 0h5m20 0h5m-3 0h5m5 0h5m-3 0h5m-2 0h5m-2 0h5m-4 0h5m-1 0h5m0 0h5m-3 0h5m218 0h5m-3 0h5m7 0h5m59 0h5m7 0h5m32 0h5m38 0h5m2 0h5m-4 0h5m12 0h5m-1117 1h5m11 0h5m122 0h5m0 0h5m78 0h5m0 0h5m5 0h5m-1 0h5m73 0h5m147 0h5m5 0h5m11 0h5m44 0h5m-2 0h5m41 0h5m2 0h5m48 0h5m-4 0h5m-1 0h5m1 0h5m-1 0h5m2 0h5m159 0h5m64 0h5m1 0h5m34 0h5m16 0h5m-3 0h5m-3 0h5m-3 0h5m93 0h5m14 0h5m-1018 1h5m58 0h5m-2 0h5m26 0h5m29 0h5m8 0h5m-3 0h5m8 0h5m4 0h5m68 0h5m5 0h5m47 0h5m-1 0h5m2 0h5m1 0h5m-4 0h5m7 0h5m39 0h5m5 0h5m2 0h5m-1 0h5m32 0h5m16 0h5m8 0h5m-4 0h5m-2 0h5m-3 0h5m-2 0h5m-2 0h5m-4 0h5m93 0h5m2 0h5m0 0h5m6 0h5m65 0h5m13 0h5m44 0h5m-1 0h5m2 0h5m73 0h5m3 0h5m-3 0h5m49 0h5m7 0h5m92 0h5m-1134 1h5m173 0h5m-3 0h5m-4 0h5m77 0h5m-2 0h5m5 0h5m-3 0h5m6 0h5m-3 0h5m30 0h5m25 0h5m27 0h5m16 0h5m9 0h5m12 0h5m64 0h5m2 0h5m85 0h5m87 0h5m-4 0h5m-4 0h5m-1 0h5m0 0h5m-3 0h5m2 0h5m-2 0h5m57 0h5m32 0h5m2 0h5m26 0h5m81 0h5m-1 0h5m0 0h5m69 0h5m4 0h5m78 0h5m24 0h5m-1095 1h5m6 0h5m8 0h5m98 0h5m-2 0h5m68 0h5m9 0h5m2 0h5m3 0h5m139 0h5m-3 0h5m-2 0h5m36 0h5m16 0h5m1 0h5m9 0h5m-3 0h5m64 0h5m-3 0h5m-2 0h5m0 0h5m3 0h5m-3 0h5m102 0h5m-4 0h5m63 0h5m9 0h5m6 0h5m77 0h5m37 0h5m16 0h5m-3 0h5m-2 0h5m-1 0h5m49 0h5m0 0h5m-1030 1h5m167 0h5m1 0h5m5 0h5m-4 0h5m5 0h5m24 0h5m-2 0h5m29 0h5m21 0h5m21 0h5m14 0h5m87 0h5m3 0h5m-2 0h5m46 0h5m10 0h5m5 0h5m8 0h5m48 0h5m4 0h5m-3 0h5m11 0h5m-2 0h5m84 0h5m-3 0h5m1 0h5m2 0h5m-2 0h5m-4 0h5m-3 0h5m6 0h5m213 0h5m9 0h5m62 0h5m-1 0h5m14 0h5m-888 1h5m-2 0h5m5 0h5m15 0h5m54 0h5m6 0h5m1 0h5m6 0h5m138 0h5m5 0h5m79 0h5m56 0h5m5 0h5m4 0h5m0 0h5m77 0h5m-1 0h5m4 0h5m-4 0h5m-4 0h5m-3 0h5m0 0h5m-3 0h5m172 0h5m46 0h5m1 0h5m0 0h5m8 0h5m16 0h5m28 0h5m5 0h5m72 0h5m-989 1h5m38 0h5m14 0h5m72 0h5m-2 0h5m-4 0h5m-3 0h5m6 0h5m0 0h5m62 0h5m77 0h5m62 0h5m1 0h5m-3 0h5m-3 0h5m-2 0h5m70 0h5m-1 0h5m2 0h5m97 0h5m-2 0h5m189 0h5m48 0h5m61 0h5m7 0h5m89 0h5m12 0h5m-1037 1h5m59 0h5m-1 0h5m6 0h5m80 0h5m5 0h5m-3 0h5m137 0h5m-2 0h5m1 0h5m79 0h5m50 0h5m22 0h5m45 0h5m31 0h5m2 0h5m2 0h5m2 0h5m2 0h5m147 0h5m12 0h5m53 0h5m4 0h5m-1 0h5m-1 0h5m63 0h5m3 0h5m32 0h5m53 0h5m-968 1h5m-2 0h5m-1 0h5m3 0h5m-4 0h5m-2 0h5m35 0h5m47 0h5m-4 0h5m22 0h5m27 0h5m55 0h5m81 0h5m15 0h5m-2 0h5m-1 0h5m-2 0h5m2 0h5m66 0h5m3 0h5m-2 0h5m-2 0h5m-1 0h5m27 0h5m21 0h5m19 0h5m-2 0h5m-4 0h5m-2 0h5m-1 0h5m-4 0h5m-4 0h5m175 0h5m28 0h5m28 0h5m-2 0h5m21 0h5m13 0h5m25 0h5m-1 0h5m46 0h5m-1028 1h5m118 0h5m-4 0h5m46 0h5m24 0h5m-1 0h5m49 0h5m98 0h5m77 0h5m-3 0h5m7 0h5m15 0h5m57 0h5m-2 0h5m98 0h5m3 0h5m19 0h5m116 0h5m50 0h5m21 0h5m-4 0h5m9 0h5m17 0h5m87 0h5m15 0h5m11 0h5m21 0h5m-1079 1h5m0 0h5m-2 0h5m39 0h5m18 0h5m36 0h5m3 0h5m52 0h5m8 0h5m19 0h5m151 0h5m12 0h5m24 0h5m5 0h5m16 0h5m2 0h5m-2 0h5m-3 0h5m37 0h5m8 0h5m19 0h5m54 0h5m26 0h5m-2 0h5m-3 0h5m-3 0h5m2 0h5m-2 0h5m-1 0h5m86 0h5m132 0h5m0 0h5m11 0h5m0 0h5m12 0h5m20 0h5m6 0h5m24 0h5m20 0h5m2 0h5m40 0h5m-1120 1h5m47 0h5m111 0h5m28 0h5m12 0h5m30 0h5m-1 0h5m1 0h5m-1 0h5m105 0h5m-2 0h5m27 0h5m33 0h5m43 0h5m72 0h5m8 0h5m88 0h5m-1 0h5m-4 0h5m0 0h5m-4 0h5m2 0h5m66 0h5m1 0h5m7 0h5m9 0h5m13 0h5m82 0h5m96 0h5m5 0h5m21 0h5m60 0h5m-1101 1h5m81 0h5m12 0h5m41 0h5m-2 0h5m23 0h5m60 0h5m13 0h5m29 0h5m17 0h5m85 0h5m-3 0h5m0 0h5m0 0h5m35 0h5m-2 0h5m-2 0h5m3 0h5m16 0h5m-1 0h5m80 0h5m24 0h5m52 0h5m-1 0h5m-2 0h5m3 0h5m-1 0h5m2 0h5m138 0h5m33 0h5m87 0h5m29 0h5m69 0h5m-1072 1h5m7 0h5m85 0h5m27 0h5m-3 0h5m2 0h5m-1 0h5m-3 0h5m-1 0h5m83 0h5m0 0h5m53 0h5m7 0h5m58 0h5m16 0h5m-1 0h5m50 0h5m-2 0h5m-3 0h5m9 0h5m0 0h5m73 0h5m1 0h5m0 0h5m-3 0h5m79 0h5m0 0h5m-3 0h5m-3 0h5m-4 0h5m6 0h5m0 0h5m37 0h5m35 0h5m-4 0h5m5 0h5m10 0h5m33 0h5m39 0h5m-4 0h5m36 0h5m-1 0h5m56 0h5m-1 0h5m0 0h5m60 0h5m-1038 1h5m21 0h5m84 0h5m-1 0h5m3 0h5m18 0h5m5 0h5m16 0h5m14 0h5m6 0h5m-4 0h5m-4 0h5m0 0h5m-3 0h5m2 0h5m16 0h5m114 0h5m-3 0h5m-1 0h5m65 0h5m-4 0h5m13 0h5m62 0h5m2 0h5m-2 0h5m4 0h5m77 0h5m10 0h5m9 0h5m7 0h5m17 0h5m51 0h5m47 0h5m13 0h5m7 0h5m1 0h5m16 0h5m26 0h5m2 0h5m3 0h5m164 0h5m-1121 1h5m1 0h5m3 0h5m54 0h5m32 0h5m39 0h5m6 0h5m-4 0h5m48 0h5m24 0h5m-2 0h5m0 0h5m-4 0h5m-2 0h5m3 0h5m1 0h5m10 0h5m55 0h5m58 0h5m5 0h5m58 0h5m1 0h5m0 0h5m87 0h5m-1 0h5m-2 0h5m81 0h5m-4 0h5m207 0h5m-3 0h5m25 0h5m7 0h5m65 0h5m3 0h5m-2 0h5m38 0h5m62 0h5m-1096 1h5m14 0h5m22 0h5m51 0h5m16 0h5m2 0h5m3 0h5m21 0h5m13 0h5m-1 0h5m18 0h5m2 0h5m-3 0h5m0 0h5m-4 0h5m9 0h5m-4 0h5m136 0h5m6 0h5m51 0h5m16 0h5m6 0h5m50 0h5m3 0h5m6 0h5m84 0h5m-3 0h5m-1 0h5m0 0h5m-4 0h5m4 0h5m-2 0h5m57 0h5m4 0h5m63 0h5m13 0h5m10 0h5m4 0h5m42 0h5m2 0h5m24 0h5m32 0h5m65 0h5m41 0h5m-4 0h5m-1116 1h5m142 0h5m-1 0h5m-4 0h5m3 0h5m-3 0h5m67 0h5m1 0h5m0 0h5m-1 0h5m-3 0h5m3 0h5m48 0h5m6 0h5m29 0h5m12 0h5m23 0h5m-3 0h5m1 0h5m36 0h5m17 0h5m12 0h5m-4 0h5m84 0h5m80 0h5m3 0h5m-4 0h5m3 0h5m0 0h5m-1 0h5m46 0h5m7 0h5m11 0h5m-1 0h5m9 0h5m0 0h5m125 0h5m59 0h5m-2 0h5m36 0h5m73 0h5m-1102 1h5m138 0h5m80 0h5m-1 0h5m-2 0h5m-2 0h5m1 0h5m10 0h5m20 0h5m20 0h5m39 0h5m9 0h5m11 0h5m3 0h5m122 0h5m36 0h5m-1 0h5m-3 0h5m0 0h5m5 0h5m74 0h5m5 0h5m-2 0h5m67 0h5m18 0h5m62 0h5m9 0h5m0 0h5m14 0h5m31 0h5m72 0h5m21 0h5m7 0h5m39 0h5m-2 0h5m5 0h5m-1059 1h5m20 0h5m1 0h5m41 0h5m25 0h5m-4 0h5m-3 0h5m19 0h5m25 0h5m19 0h5m61 0h5m30 0h5m34 0h5m111 0h5m4 0h5m-4 0h5m-3 0h5m66 0h5m0 0h5m42 0h5m48 0h5m-3 0h5m3 0h5m11 0h5m49 0h5m0 0h5m-4 0h5m2 0h5m5 0h5m59 0h5m73 0h5m-3 0h5m3 0h5m-1 0h5m-3 0h5m0 0h5m42 0h5m17 0h5m-970 1h5m34 0h5m6 0h5m52 0h5m5 0h5m-4 0h5m-2 0h5m45 0h5m18 0h5m5 0h5m-2 0h5m-3 0h5m5 0h5m1 0h5m130 0h5m2 0h5m3 0h5m-1 0h5m-4 0h5m52 0h5m-3 0h5m-4 0h5m1 0h5m1 0h5m32 0h5m9 0h5m19 0h5m-3 0h5m-4 0h5m0 0h5m63 0h5m25 0h5m5 0h5m60 0h5m119 0h5m17 0h5m-3 0h5m50 0h5m39 0h5m14 0h5m48 0h5m46 0h5m-1145 1h5m47 0h5m53 0h5m56 0h5m2 0h5m70 0h5m-3 0h5m-3 0h5m3 0h5m-4 0h5m7 0h5m-2 0h5m-4 0h5m-4 0h5m5 0h5m39 0h5m80 0h5m4 0h5m7 0h5m4 0h5m6 0h5m34 0h5m11 0h5m60 0h5m3 0h5m-4 0h5m1 0h5m87 0h5m7 0h5m-1 0h5m1 0h5m-3 0h5m64 0h5m78 0h5m1 0h5m1 0h5m-4 0h5m23 0h5m23 0h5m4 0h5m-2 0h5m-3 0h5m37 0h5m14 0h5m15 0h5m49 0h5m22 0h5m17 0h5m-1072 1h5m75 0h5m23 0h5m-4 0h5m0 0h5m-2 0h5m-4 0h5m66 0h5m4 0h5m-4 0h5m1 0h5m5 0h5m18 0h5m188 0h5m1 0h5m2 0h5m39 0h5m-1 0h5m21 0h5m-4 0h5m-3 0h5m-3 0h5m-3 0h5m5 0h5m62 0h5m2 0h5m16 0h5m-2 0h5m4 0h5m0 0h5m60 0h5m2 0h5m86 0h5m56 0h5m5 0h5m1 0h5m-1 0h5m35 0h5m106 0h5m-1066 1h5m66 0h5m9 0h5m25 0h5m6 0h5m17 0h5m72 0h5m82 0h5m42 0h5m25 0h5m38 0h5m-1 0h5m-4 0h5m15 0h5m11 0h5m-4 0h5m1 0h5m31 0h5m13 0h5m2 0h5m-3 0h5m2 0h5m1 0h5m26 0h5m4 0h5m1 0h5m36 0h5m-3 0h5m7 0h5m-2 0h5m-3 0h5m-2 0h5m-4 0h5m88 0h5m72 0h5m58 0h5m41 0h5m28 0h5m-2 0h5m25 0h5m-1056 1h5m174 0h5m16 0h5m36 0h5m6 0h5m2 0h5m-1 0h5m4 0h5m12 0h5m13 0h5m80 0h5m21 0h5m3 0h5m19 0h5m14 0h5m16 0h5m6 0h5m0 0h5m-4 0h5m56 0h5m21 0h5m-1 0h5m29 0h5m41 0h5m9 0h5m1 0h5m0 0h5m26 0h5m49 0h5m3 0h5m68 0h5m20 0h5m-2 0h5m43 0h5m57 0h5m86 0h5m0 0h5m-1096 1h5m30 0h5m111 0h5m14 0h5m-2 0h5m-1 0h5m12 0h5m40 0h5m1 0h5m9 0h5m22 0h5m26 0h5m4 0h5m77 0h5m-2 0h5m10 0h5m58 0h5m68 0h5m-1 0h5m-1 0h5m-3 0h5m1 0h5m0 0h5m69 0h5m13 0h5m5 0h5m1 0h5m20 0h5m11 0h5m63 0h5m21 0h5m96 0h5m66 0h5m6 0h5m-3 0h5m-1050 1h5m1 0h5m43 0h5m20 0h5m16 0h5m25 0h5m45 0h5m-1 0h5m-3 0h5m5 0h5m98 0h5m8 0h5m69 0h5m32 0h5m11 0h5m2 0h5m2 0h5m22 0h5m45 0h5m1 0h5m45 0h5m11 0h5m3 0h5m20 0h5m50 0h5m-4 0h5m4 0h5m7 0h5m-3 0h5m-4 0h5m1 0h5m-4 0h5m-2 0h5m-4 0h5m11 0h5m38 0h5m10 0h5m117 0h5m29 0h5m0 0h5m3 0h5m53 0h5m9 0h5m-4 0h5m57 0h5m6 0h5m-940 1h5m0 0h5m-4 0h5m5 0h5m20 0h5m6 0h5m-4 0h5m27 0h5m-2 0h5m-3 0h5m-4 0h5m-1 0h5m4 0h5m0 0h5m32 0h5m93 0h5m9 0h5m-1 0h5m-3 0h5m68 0h5m-2 0h5m-2 0h5m7 0h5m20 0h5m3 0h5m114 0h5m7 0h5m-1 0h5m3 0h5m4 0h5m-3 0h5m0 0h5m-2 0h5m42 0h5m21 0h5m131 0h5m10 0h5m-3 0h5m-2 0h5m70 0h5m-4 0h5m85 0h5m-1108 1h5m5 0h5m86 0h5m46 0h5m3 0h5m0 0h5m-4 0h5m2 0h5m0 0h5m40 0h5m30 0h5m0 0h5m2 0h5m27 0h5m60 0h5m4 0h5m26 0h5m159 0h5m0 0h5m-3 0h5m-1 0h5m9 0h5m21 0h5m55 0h5m1 0h5m-3 0h5m73 0h5m109 0h5m43 0h5m4 0h5m24 0h5m31 0h5m-4 0h5m7 0h5m83 0h5m20 0h5m-1144 1h5m52 0h5m-4 0h5m17 0h5m21 0h5m13 0h5m35 0h5m1 0h5m5 0h5m86 0h5m1 0h5m41 0h5m22 0h5m14 0h5m58 0h5m-3 0h5m3 0h5m72 0h5m66 0h5m-3 0h5m-4 0h5m-1 0h5m-3 0h5m11 0h5m68 0h5m-4 0h5m-2 0h5m-3 0h5m0 0h5m0 0h5m8 0h5m31 0h5m22 0h5m97 0h5m2 0h5m45 0h5m14 0h5m-2 0h5m55 0h5m-4 0h5m-4 0h5m-4 0h5m0 0h5m84 0h5m-1067 1h5m42 0h5m22 0h5m13 0h5m21 0h5m11 0h5m-2 0h5m61 0h5m-2 0h5m-1 0h5m-2 0h5m7 0h5m4 0h5m55 0h5m5 0h5m24 0h5m1 0h5m1 0h5m19 0h5m8 0h5m-3 0h5m59 0h5m2 0h5m68 0h5m7 0h5m7 0h5m49 0h5m0 0h5m0 0h5m21 0h5m4 0h5m38 0h5m4 0h5m42 0h5m-3 0h5m-3 0h5m58 0h5m38 0h5m19 0h5m8 0h5m3 0h5m14 0h5m16 0h5m10 0h5m80 0h5m2 0h5m9 0h5m-1017 1h5m38 0h5m-2 0h5m19 0h5m-4 0h5m-1 0h5m35 0h5m2 0h5m29 0h5m15 0h5m3 0h5m136 0h5m-4 0h5m-4 0h5m70 0h5m1 0h5m-4 0h5m16 0h5m46 0h5m-2 0h5m6 0h5m15 0h5m42 0h5m18 0h5m-1 0h5m7 0h5m63 0h5m101 0h5m3 0h5m38 0h5m8 0h5m-2 0h5m22 0h5m26 0h5m5 0h5m1 0h5m0 0h5m0 0h5m34 0h5m21 0h5m-1111 1h5m159 0h5m10 0h5m4 0h5m-2 0h5m62 0h5m14 0h5m3 0h5m-3 0h5m38 0h5m94 0h5m-3 0h5m-2 0h5m1 0h5m-2 0h5m21 0h5m40 0h5m2 0h5m30 0h5m31 0h5m-1 0h5m7 0h5m49 0h5m27 0h5m7 0h5m-1 0h5m-3 0h5m3 0h5m-3 0h5m41 0h5m12 0h5m3 0h5m6 0h5m137 0h5m-2 0h5m-3 0h5m3 0h5m-3 0h5m-2 0h5m-1 0h5m0 0h5m42 0h5m10 0h5m39 0h5m13 0h5m-1070 1h5m43 0h5m16 0h5m47 0h5m18 0h5m-3 0h5m-3 0h5m4 0h5m71 0h5m12 0h5m5 0h5m57 0h5m8 0h5m55 0h5m11 0h5m0 0h5m42 0h5m0 0h5m-2 0h5m-3 0h5m17 0h5m63 0h5m1 0h5m7 0h5m77 0h5m1 0h5m3 0h5m-2 0h5m1 0h5m4 0h5m53 0h5m-3 0h5m15 0h5m0 0h5m53 0h5m60 0h5m6 0h5m8 0h5m52 0h5m-2 0h5m1 0h5m1 0h5m46 0h5m-1094 1h5m129 0h5m-2 0h5m131 0h5m-3 0h5m2 0h5m-4 0h5m-2 0h5m-1 0h5m8 0h5m70 0h5m61 0h5m10 0h5m1 0h5m15 0h5m30 0h5m1 0h5m15 0h5m31 0h5m28 0h5m7 0h5m75 0h5m-3 0h5m-3 0h5m-4 0h5m13 0h5m57 0h5m6 0h5m11 0h5m27 0h5m102 0h5m0 0h5m-2 0h5m5 0h5m25 0h5m20 0h5m-4 0h5m27 0h5m0 0h5m29 0h5m11 0h5m-1059 1h5m108 0h5m1 0h5m1 0h5m-2 0h5m28 0h5m26 0h5m9 0h5m0 0h5m-2 0h5m-1 0h5m-4 0h5m10 0h5m14 0h5m33 0h5m101 0h5m43 0h5m1 0h5m13 0h5m55 0h5m-3 0h5m12 0h5m-3 0h5m58 0h5m32 0h5m2 0h5m-2 0h5m114 0h5m46 0h5m61 0h5m-1 0h5m-1 0h5m45 0h5m19 0h5m69 0h5m-1069 1h5m0 0h5m33 0h5m50 0h5m30 0h5m-4 0h5m-4 0h5m-3 0h5m1 0h5m-1 0h5m35 0h5m16 0h5m-4 0h5m7 0h5m3 0h5m-2 0h5m-3 0h5m3 0h5m17 0h5m35 0h5m36 0h5m38 0h5m1 0h5m-3 0h5m-4 0h5m1 0h5m21 0h5m24 0h5m-1 0h5m-4 0h5m4 0h5m54 0h5m4 0h5m14 0h5m2 0h5m18 0h5m54 0h5m6 0h5m4 0h5m45 0h5m7 0h5m3 0h5m4 0h5m6 0h5m87 0h5m52 0h5m-2 0h5m15 0h5m8 0h5m18 0h5m16 0h5m16 0h5m38 0h5m16 0h5m-1126 1h5m15 0h5m0 0h5m13 0h5m83 0h5m30 0h5m10 0h5m7 0h5m-4 0h5m47 0h5m20 0h5m5 0h5m1 0h5m-4 0h5m2 0h5m28 0h5m12 0h5m44 0h5m-2 0h5m-1 0h5m23 0h5m0 0h5m-4 0h5m-3 0h5m10 0h5m49 0h5m1 0h5m40 0h5m2 0h5m34 0h5m-3 0h5m65 0h5m37 0h5m1 0h5m-4 0h5m-3 0h5m217 0h5m-3 0h5m2 0h5m-3 0h5m-2 0h5m19 0h5m25 0h5m-1 0h5m2 0h5m95 0h5m-1131 1h5m0 0h5m-1 0h5m75 0h5m80 0h5m8 0h5m0 0h5m-1 0h5m62 0h5m-3 0h5m-3 0h5m1 0h5m0 0h5m2 0h5m49 0h5m58 0h5m25 0h5m8 0h5m75 0h5m4 0h5m8 0h5m35 0h5m-1 0h5m11 0h5m8 0h5m97 0h5m-3 0h5m80 0h5m20 0h5m61 0h5m35 0h5m2 0h5m-1 0h5m1 0h5m2 0h5m-3 0h5m49 0h5m20 0h5m40 0h5m18 0h5m-1104 1h5m1 0h5m14 0h5m11 0h5m36 0h5m1 0h5m68 0h5m-1 0h5m2 0h5m-1 0h5m-1 0h5m46 0h5m10 0h5m7 0h5m-4 0h5m4 0h5m-4 0h5m11 0h5m69 0h5m54 0h5m-4 0h5m13 0h5m6 0h5m38 0h5m32 0h5m27 0h5m19 0h5m-4 0h5m-3 0h5m5 0h5m69 0h5m7 0h5m-4 0h5m1 0h5m-3 0h5m1 0h5m17 0h5m49 0h5m9 0h5m84 0h5m45 0h5m8 0h5m0 0h5m15 0h5m4 0h5m46 0h5m17 0h5m-958 1h5m74 0h5m-4 0h5m-4 0h5m38 0h5m11 0h5m11 0h5m19 0h5m40 0h5m41 0h5m122 0h5m0 0h5m4 0h5m-2 0h5m-1 0h5m15 0h5m43 0h5m-2 0h5m0 0h5m-3 0h5m13 0h5m54 0h5m16 0h5m15 0h5m36 0h5m27 0h5m9 0h5m62 0h5m31 0h5m101 0h5m18 0h5m18 0h5m19 0h5m30 0h5m-1129 1h5m31 0h5m24 0h5m27 0h5m-2 0h5m39 0h5m11 0h5m6 0h5m8 0h5m1 0h5m-4 0h5m28 0h5m18 0h5m15 0h5m-3 0h5m2 0h5m5 0h5m8 0h5m3 0h5m52 0h5m60 0h5m2 0h5m-1 0h5m2 0h5m65 0h5m73 0h5m49 0h5m-2 0h5m7 0h5m-3 0h5m1 0h5m20 0h5m2 0h5m12 0h5m-3 0h5m60 0h5m6 0h5m62 0h5m3 0h5m0 0h5m44 0h5m18 0h5m-1 0h5m-3 0h5m2 0h5m-4 0h5m27 0h5m17 0h5m0 0h5m-2 0h5m14 0h5m-1 0h5m12 0h5m45 0h5m-1120 1h5m11 0h5m47 0h5m61 0h5m42 0h5m5 0h5m48 0h5m-2 0h5m13 0h5m3 0h5m-3 0h5m0 0h5m0 0h5m1 0h5m79 0h5m56 0h5m-3 0h5m63 0h5m10 0h5m-4 0h5m0 0h5m54 0h5m3 0h5m21 0h5m2 0h5m72 0h5m-4 0h5m-3 0h5m11 0h5m37 0h5m25 0h5m9 0h5m-1 0h5m3 0h5m-3 0h5m48 0h5m1 0h5m26 0h5m33 0h5m2 0h5m39 0h5m9 0h5m8 0h5m2 0h5m18 0h5m11 0h5m15 0h5m27 0h5m4 0h5m-1124 1h5m14 0h5m9 0h5m34 0h5m77 0h5m-4 0h5m7 0h5m-4 0h5m3 0h5m-2 0h5m51 0h5m6 0h5m-1 0h5m31 0h5m110 0h5m23 0h5m-4 0h5m36 0h5m6 0h5m-2 0h5m-3 0h5m11 0h5m4 0h5m12 0h5m0 0h5m15 0h5m-1 0h5m14 0h5m-3 0h5m4 0h5m-2 0h5m84 0h5m-2 0h5m-1 0h5m7 0h5m-3 0h5m55 0h5m2 0h5m37 0h5m51 0h5m1 0h5m22 0h5m0 0h5m23 0h5m4 0h5m1 0h5m39 0h5m5 0h5m64 0h5m15 0h5m8 0h5m-960 1h5m21 0h5m29 0h5m58 0h5m-3 0h5m121 0h5m13 0h5m5 0h5m26 0h5m33 0h5m0 0h5m1 0h5m31 0h5m17 0h5m21 0h5m-3 0h5m82 0h5m-4 0h5m-4 0h5m-3 0h5m3 0h5m-2 0h5m-4 0h5m-4 0h5m11 0h5m20 0h5m-4 0h5m0 0h5m21 0h5m2 0h5m40 0h5m8 0h5m24 0h5m8 0h5m23 0h5m10 0h5m2 0h5m5 0h5m4 0h5m-4 0h5m49 0h5m-3 0h5m0 0h5m-3 0h5m4 0h5m12 0h5m47 0h5m-1117 1h5m12 0h5m16 0h5m23 0h5m-3 0h5m15 0h5m90 0h5m4 0h5m72 0h5m22 0h5m6 0h5m6 0h5m-4 0h5m18 0h5m16 0h5m36 0h5m34 0h5m2 0h5m0 0h5m17 0h5m27 0h5m-4 0h5m-1 0h5m25 0h5m47 0h5m-3 0h5m51 0h5m-3 0h5m2 0h5m4 0h5m0 0h5m23 0h5m-4 0h5m2 0h5m-4 0h5m2 0h5m-2 0h5m-1 0h5m25 0h5m53 0h5m8 0h5m105 0h5m5 0h5m-3 0h5m1 0h5m2 0h5m-2 0h5m60 0h5m36 0h5m41 0h5m-1 0h5m-2 0h5m10 0h5m-1067 1h5m35 0h5m10 0h5m16 0h5m-4 0h5m10 0h5m5 0h5m55 0h5m16 0h5m6 0h5m10 0h5m27 0h5m2 0h5m123 0h5m17 0h5m117 0h5m0 0h5m5 0h5m1 0h5m38 0h5m58 0h5m48 0h5m91 0h5m22 0h5m102 0h5m70 0h5"/>
<path transform="scale(0.25)" fill="none" stroke="#828282" stroke-width="4.4" d="M360 943h5m299 0h5m-3 0h5m62 0h5m4 0h5m77 0h5m170 0h5m225 0h5m-968 1h5m-4 0h5m30 0h5m53 0h5m5 0h5m141 0h5m21 0h5m19 0h5m93 0h5m-1 0h5m4 0h5m55 0h5m-4 0h5m4 0h5m59 0h5m6 0h5m333 0h5m8 0h5m84 0h5m-925 1h5m10 0h5m53 0h5m214 0h5m18 0h5m9 0h5m54 0h5m-3 0h5m1 0h5m7 0h5m245 0h5m103 0h5m31 0h5m88 0h5m-4 0h5m-1037 1h5m81 0h5m79 0h5m436 0h5m3 0h5m70 0h5m242 0h5m-2 0h5m20 0h5m-990 1h5m14 0h5m75 0h5m54 0h5m8 0h5m8 0h5m60 0h5m12 0h5m199 0h5m140 0h5m0 0h5m6 0h5m37 0h5m55 0h5m24 0h5m29 0h5m-2 0h5m9 0h5m84 0h5m25 0h5m-903 1h5m101 0h5m54 0h5m92 0h5m165 0h5m-1 0h5m-3 0h5m-3 0h5m1 0h5m19 0h5m37 0h5m3 0h5m17 0h5m44 0h5m-3 0h5m-3 0h5m1 0h5m74 0h5m63 0h5m24 0h5m142 0h5m-1 0h5m5 0h5m45 0h5m88 0h5m-1122 1h5m87 0h5m31 0h5m36 0h5m6 0h5m290 0h5m69 0h5m2 0h5m37 0h5m24 0h5m52 0h5m45 0h5m48 0h5m63 0h5m203 0h5m-1051 1h5m15 0h5m51 0h5m72 0h5m207 0h5m73 0h5m8 0h5m1 0h5m57 0h5m1 0h5m3 0h5m3 0h5m53 0h5m-4 0h5m2 0h5m-3 0h5m-2 0h5m49 0h5m290 0h5m56 0h5m-1039 1h5m42 0h5m99 0h5m9 0h5m3 0h5m51 0h5m198 0h5m24 0h5m-3 0h5m2 0h5m62 0h5m-1 0h5m-3 0h5m1 0h5m39 0h5m105 0h5m190 0h5m48 0h5m92 0h5m91 0h5m-1149 1h5m70 0h5m6 0h5m51 0h5m3 0h5m5 0h5m-1 0h5m287 0h5m4 0h5m1 0h5m59 0h5m-3 0h5m8 0h5m50 0h5m5 0h5m2 0h5m32 0h5m77 0h5m67 0h5m143 0h5m-1 0h5m71 0h5m-941 1h5m37 0h5m-4 0h5m13 0h5m107 0h5m248 0h5m16 0h5m54 0h5m-4 0h5m5 0h5m-2 0h5m87 0h5m45 0h5m77 0h5m105 0h5m104 0h5m-1066 1h5m114 0h5m33 0h5m0 0h5m32 0h5m196 0h5m55 0h5m2 0h5m-1 0h5m65 0h5m-2 0h5m11 0h5m39 0h5m6 0h5m0 0h5m257 0h5m3 0h5m-894 1h5m144 0h5m0 0h5m174 0h5m74 0h5m43 0h5m2 0h5m55 0h5m79 0h5m53 0h5m32 0h5m3 0h5m-2 0h5m-2 0h5m-743 1h5m7 0h5m147 0h5m14 0h5m47 0h5m139 0h5m95 0h5m-3 0h5m56 0h5m9 0h5m60 0h5m8 0h5m79 0h5m-2 0h5m81 0h5m1 0h5m270 0h5m-923 1h5m189 0h5m3 0h5m88 0h5m-2 0h5m72 0h5m73 0h5m-1 0h5m84 0h5m19 0h5m41 0h5m8 0h5m95 0h5m3 0h5m44 0h5m34 0h5m56 0h5m-1001 1h5m7 0h5m88 0h5m154 0h5m70 0h5m58 0h5m92 0h5m60 0h5m6 0h5m96 0h5m58 0h5m45 0h5m4 0h5m109 0h5m67 0h5m17 0h5m-909 1h5m188 0h5m23 0h5m84 0h5m1 0h5m0 0h5m40 0h5m26 0h5m52 0h5m7 0h5m88 0h5m46 0h5m318 0h5m-1047 1h5m112 0h5m0 0h5m25 0h5m95 0h5m153 0h5m2 0h5m-4 0h5m3 0h5m59 0h5m5 0h5m70 0h5m-4 0h5m309 0h5m22 0h5m94 0h5m3 0h5m-986 1h5m370 0h5m-4 0h5m4 0h5m69 0h5m1 0h5m26 0h5m25 0h5m1 0h5m-1 0h5m106 0h5m234 0h5m-985 1h5m113 0h5m44 0h5m-4 0h5m47 0h5m80 0h5m152 0h5m8 0h5m-4 0h5m-3 0h5m74 0h5m36 0h5m16 0h5m88 0h5m178 0h5m157 0h5m15 0h5m-1052 1h5m10 0h5m12 0h5m97 0h5m10 0h5m280 0h5m-2 0h5m-2 0h5m3 0h5m37 0h5m16 0h5m-1 0h5m82 0h5m87 0h5m318 0h5m56 0h5m-1087 1h5m14 0h5m95 0h5m334 0h5m-4 0h5m43 0h5m17 0h5m-2 0h5m56 0h5m4 0h5m-1 0h5m171 0h5m13 0h5m274 0h5m-992 1h5m11 0h5m27 0h5m298 0h5m67 0h5m10 0h5m67 0h5m124 0h5m142 0h5m73 0h5m19 0h5m-780 1h5m234 0h5m63 0h5m-4 0h5m-4 0h5m3 0h5m-3 0h5m-1 0h5m-2 0h5m57 0h5m41 0h5m54 0h5m5 0h5m5 0h5m258 0h5m-1007 1h5m85 0h5m62 0h5m203 0h5m86 0h5m-3 0h5m81 0h5m6 0h5m-4 0h5m51 0h5m-2 0h5m2 0h5m3 0h5m-3 0h5m160 0h5m89 0h5m78 0h5m11 0h5m47 0h5m5 0h5m-961 1h5m72 0h5m157 0h5m130 0h5m-2 0h5m1 0h5m7 0h5m-1 0h5m25 0h5m9 0h5m-4 0h5m6 0h5m-4 0h5m64 0h5m-2 0h5m-2 0h5m4 0h5m65 0h5m92 0h5m124 0h5m37 0h5m-2 0h5m-985 1h5m57 0h5m-4 0h5m43 0h5m51 0h5m4 0h5m10 0h5m266 0h5m-3 0h5m89 0h5m25 0h5m12 0h5m10 0h5m31 0h5m87 0h5m59 0h5m67 0h5m78 0h5m-961 1h5m153 0h5m15 0h5m173 0h5m91 0h5m83 0h5m60 0h5m-1 0h5m-2 0h5m-4 0h5m-1 0h5m89 0h5m173 0h5m19 0h5m210 0h5m-677 1h5m1 0h5m64 0h5m4 0h5m55 0h5m1 0h5m1 0h5m-2 0h5m6 0h5m23 0h5m130 0h5m91 0h5m33 0h5m5 0h5m111 0h5m-1054 1h5m13 0h5m290 0h5m152 0h5m56 0h5m-4 0h5m12 0h5m18 0h5m39 0h5m-3 0h5m-4 0h5m91 0h5m-4 0h5m62 0h5m109 0h5m141 0h5m48 0h5m-1112 1h5m85 0h5m92 0h5m277 0h5m-2 0h5m44 0h5m-3 0h5m20 0h5m61 0h5m-2 0h5m10 0h5m-2 0h5m61 0h5m96 0h5m96 0h5m46 0h5m-902 1h5m110 0h5m138 0h5m129 0h5m5 0h5m3 0h5m-4 0h5m72 0h5m-4 0h5m2 0h5m56 0h5m-3 0h5m-1 0h5m0 0h5m-2 0h5m85 0h5m-3 0h5m54 0h5m15 0h5m7 0h5m37 0h5m44 0h5m33 0h5m157 0h5m27 0h5m-1036 1h5m-2 0h5m62 0h5m-3 0h5m230 0h5m32 0h5m19 0h5m2 0h5m61 0h5m3 0h5m77 0h5m134 0h5m275 0h5m71 0h5m-999 1h5m10 0h5m5 0h5m4 0h5m45 0h5m167 0h5m72 0h5m60 0h5m7 0h5m7 0h5m43 0h5m13 0h5m261 0h5m68 0h5m89 0h5m-964 1h5m64 0h5m90 0h5m285 0h5m59 0h5m338 0h5m17 0h5m59 0h5m7 0h5m-1064 1h5m101 0h5m77 0h5m35 0h5m21 0h5m48 0h5m150 0h5m-3 0h5m11 0h5m47 0h5m18 0h5m-2 0h5m65 0h5m-3 0h5m160 0h5m55 0h5m42 0h5m146 0h5m-1033 1h5m64 0h5m59 0h5m0 0h5m65 0h5m227 0h5m-4 0h5m-3 0h5m-3 0h5m21 0h5m49 0h5m71 0h5m3 0h5m-3 0h5m161 0h5m76 0h5m135 0h5m37 0h5m-1055 1h5m11 0h5m27 0h5m55 0h5m20 0h5m10 0h5m133 0h5m45 0h5m-1 0h5m122 0h5m-1 0h5m61 0h5m66 0h5m1 0h5m2 0h5m72 0h5m3 0h5m107 0h5m-783 1h5m59 0h5m34 0h5m6 0h5m36 0h5m51 0h5m197 0h5m-3 0h5m-2 0h5m-1 0h5m69 0h5m0 0h5m-1 0h5m-4 0h5m69 0h5m102 0h5m231 0h5m62 0h5m0 0h5m12 0h5m-963 1h5m47 0h5m6 0h5m-2 0h5m-4 0h5m81 0h5m73 0h5m198 0h5m7 0h5m-1 0h5m-4 0h5m62 0h5m-2 0h5m2 0h5m84 0h5m51 0h5m186 0h5m-801 1h5m61 0h5m137 0h5m88 0h5m59 0h5m-1 0h5m-3 0h5m8 0h5m52 0h5m2 0h5m5 0h5m21 0h5m9 0h5m137 0h5m9 0h5m46 0h5m105 0h5m-880 1h5m215 0h5m-4 0h5m8 0h5m119 0h5m44 0h5m28 0h5m-3 0h5m55 0h5m1 0h5m267 0h5m55 0h5m0 0h5m18 0h5m-881 1h5m61 0h5m291 0h5m71 0h5m3 0h5m-2 0h5m-4 0h5m-4 0h5m12 0h5m41 0h5m9 0h5m31 0h5m58 0h5m175 0h5m24 0h5m111 0h5m-1026 1h5m67 0h5m54 0h5m95 0h5m3 0h5m176 0h5m1 0h5m0 0h5m59 0h5m4 0h5m-4 0h5m-2 0h5m4 0h5m56 0h5m1 0h5m-3 0h5m5 0h5m115 0h5m62 0h5m5 0h5m37 0h5m28 0h5m-733 1h5m367 0h5m1 0h5m-4 0h5m-3 0h5m50 0h5m0 0h5m0 0h5m104 0h5m149 0h5m14 0h5m54 0h5m12 0h5m78 0h5m-1045 1h5m63 0h5m4 0h5m70 0h5m117 0h5m159 0h5m-3 0h5m4 0h5m16 0h5m39 0h5m-3 0h5m6 0h5m60 0h5m8 0h5m-4 0h5m-3 0h5m15 0h5m444 0h5m-1091 1h5m85 0h5m67 0h5m117 0h5m56 0h5m108 0h5m77 0h5m-2 0h5m72 0h5m81 0h5m88 0h5m2 0h5m119 0h5m154 0h5m-1004 1h5m64 0h5m53 0h5m39 0h5m2 0h5m171 0h5m0 0h5m-2 0h5m-4 0h5m5 0h5m70 0h5m59 0h5m-2 0h5m0 0h5m-2 0h5m4 0h5m77 0h5m67 0h5m91 0h5m65 0h5m7 0h5m77 0h5m-902 1h5m11 0h5m204 0h5m42 0h5m39 0h5m3 0h5m-2 0h5m21 0h5m29 0h5m68 0h5m-1 0h5m-2 0h5m4 0h5m170 0h5m88 0h5m14 0h5m7 0h5m37 0h5m68 0h5m-1020 1h5m78 0h5m28 0h5m195 0h5m190 0h5m2 0h5m-3 0h5m-4 0h5m15 0h5m44 0h5m0 0h5m119 0h5m51 0h5m-680 1h5m34 0h5m113 0h5m54 0h5m56 0h5m59 0h5m2 0h5m48 0h5m2 0h5m2 0h5m22 0h5m40 0h5m-1 0h5m3 0h5m106 0h5m56 0h5m169 0h5m48 0h5m32 0h5m-993 1h5m48 0h5m40 0h5m42 0h5m0 0h5m307 0h5m-4 0h5m-4 0h5m3 0h5m1 0h5m35 0h5m27 0h5m-2 0h5m-2 0h5m61 0h5m102 0h5m107 0h5m15 0h5m36 0h5m5 0h5m52 0h5m-956 1h5m56 0h5m7 0h5m194 0h5m91 0h5m-4 0h5m1 0h5m29 0h5m21 0h5m-4 0h5m3 0h5m-3 0h5m-1 0h5m-1 0h5m3 0h5m53 0h5m-4 0h5m-1 0h5m7 0h5m-4 0h5m62 0h5m44 0h5m19 0h5m27 0h5m41 0h5m70 0h5m136 0h5m-1078 1h5m-2 0h5m110 0h5m50 0h5m257 0h5m27 0h5m-1 0h5m0 0h5m67 0h5m-4 0h5m0 0h5m-3 0h5m5 0h5m142 0h5m188 0h5m12 0h5m40 0h5m-963 1h5m72 0h5m23 0h5m38 0h5m15 0h5m285 0h5m7 0h5m0 0h5m60 0h5m-2 0h5m73 0h5m-1 0h5m-3 0h5m-2 0h5m85 0h5m53 0h5m98 0h5m58 0h5m-824 1h5m40 0h5m205 0h5m78 0h5m-3 0h5m-4 0h5m5 0h5m26 0h5m28 0h5m-1 0h5m2 0h5m57 0h5m1 0h5m29 0h5m20 0h5m44 0h5m33 0h5m161 0h5m109 0h5m-3 0h5m-950 1h5m53 0h5m-3 0h5m1 0h5m-3 0h5m6 0h5m31 0h5m207 0h5m26 0h5m7 0h5m69 0h5m60 0h5m-4 0h5m-1 0h5m-1 0h5m-3 0h5m2 0h5m-4 0h5m26 0h5m88 0h5m294 0h5m12 0h5m-1051 1h5m14 0h5m104 0h5m10 0h5m355 0h5m17 0h5m-1 0h5m54 0h5m4 0h5m-4 0h5m27 0h5m15 0h5m24 0h5m38 0h5m143 0h5m-816 1h5m78 0h5m74 0h5m212 0h5m2 0h5m4 0h5m51 0h5m76 0h5m-4 0h5m-1 0h5m-2 0h5m-1 0h5m270 0h5m68 0h5m86 0h5m6 0h5m-920 1h5m11 0h5m123 0h5m153 0h5m8 0h5m61 0h5m7 0h5m59 0h5m-3 0h5m2 0h5m164 0h5m92 0h5m56 0h5m130 0h5m9 0h5m-1076 1h5m81 0h5m40 0h5m9 0h5m277 0h5m13 0h5m54 0h5m-1 0h5m-3 0h5m1 0h5m65 0h5m0 0h5m67 0h5m99 0h5m81 0h5m-2 0h5m160 0h5m-4 0h5m-1031 1h5m51 0h5m5 0h5m61 0h5m112 0h5m117 0h5m56 0h5m9 0h5m35 0h5m14 0h5m-1 0h5m2 0h5m79 0h5m167 0h5m22 0h5m59 0h5m1 0h5m25 0h5m-920 1h5m6 0h5m81 0h5m21 0h5m36 0h5m284 0h5m-1 0h5m40 0h5m17 0h5m2 0h5m0 0h5m-4 0h5m-4 0h5m74 0h5m77 0h5m17 0h5m30 0h5m24 0h5m93 0h5m13 0h5m21 0h5m49 0h5m62 0h5m-906 1h5m256 0h5m51 0h5m67 0h5m-3 0h5m57 0h5m5 0h5m37 0h5m23 0h5m2 0h5m30 0h5m60 0h5m2 0h5m214 0h5m68 0h5m-1080 1h5m138 0h5m222 0h5m64 0h5m1 0h5m0 0h5m61 0h5m80 0h5m-2 0h5m314 0h5m-940 1h5m26 0h5m105 0h5m7 0h5m257 0h5m15 0h5m18 0h5m2 0h5m54 0h5m7 0h5m69 0h5m5 0h5m129 0h5m24 0h5m119 0h5m16 0h5m136 0h5m23 0h5m-1126 1h5m104 0h5m44 0h5m219 0h5m-4 0h5m87 0h5m5 0h5m-4 0h5m42 0h5m9 0h5m-3 0h5m5 0h5m2 0h5m56 0h5m10 0h5m176 0h5m85 0h5m58 0h5m160 0h5m-1062 1h5m33 0h5m35 0h5m3 0h5m8 0h5m290 0h5m4 0h5m64 0h5m65 0h5m91 0h5m4 0h5m87 0h5m123 0h5m23 0h5m28 0h5m36 0h5m1 0h5m76 0h5m-1008 1h5m25 0h5m16 0h5m283 0h5m-4 0h5m-4 0h5m-1 0h5m60 0h5m-2 0h5m50 0h5m14 0h5m4 0h5m-171 1h5m6 0h5m-2 0h5m-4 0h5m14 0h5m38 0h5m6 0h5m2 0h5m62 0h5m2 0h5m-1 0h5m246 0h5m11 0h5m55 0h5m99 0h5m68 0h5m-1028 1h5m30 0h5m22 0h5m-4 0h5m210 0h5m2 0h5m64 0h5m0 0h5m2 0h5m7 0h5m132 0h5m3 0h5m29 0h5m25 0h5m21 0h5m19 0h5m111 0h5m97 0h5m82 0h5m54 0h5m-1 0h5m26 0h5m-1064 1h5m72 0h5m306 0h5m-3 0h5m70 0h5m71 0h5m75 0h5m4 0h5m8 0h5m74 0h5m77 0h5m40 0h5m113 0h5m-1063 1h5m147 0h5m14 0h5m290 0h5m-4 0h5m0 0h5m-3 0h5m-4 0h5m36 0h5m0 0h5m17 0h5m4 0h5m1 0h5m41 0h5m22 0h5m1 0h5m46 0h5m108 0h5m-2 0h5m-1 0h5m90 0h5m22 0h5m33 0h5m15 0h5m38 0h5m25 0h5m-2 0h5m43 0h5m-1080 1h5m69 0h5m61 0h5m92 0h5m35 0h5m150 0h5m46 0h5m24 0h5m64 0h5m-4 0h5m-1 0h5m7 0h5m106 0h5m56 0h5m119 0h5m138 0h5m-1059 1h5m89 0h5m43 0h5m67 0h5m225 0h5m1 0h5m-4 0h5m5 0h5m66 0h5m-4 0h5m60 0h5m-4 0h5m58 0h5m113 0h5m317 0h5m-1101 1h5m253 0h5m142 0h5m-2 0h5m59 0h5m1 0h5m45 0h5m137 0h5m3 0h5m21 0h5m81 0h5m47 0h5m33 0h5m-772 1h5m51 0h5m165 0h5m88 0h5m1 0h5m-3 0h5m21 0h5m-1 0h5m24 0h5m7 0h5m10 0h5m-4 0h5m-4 0h5m62 0h5m-2 0h5m-2 0h5m2 0h5m-3 0h5m260 0h5m12 0h5m131 0h5m90 0h5m-888 1h5m174 0h5m15 0h5m4 0h5m62 0h5m6 0h5m-2 0h5m56 0h5m1 0h5m2 0h5m35 0h5m306 0h5m149 0h5m-1109 1h5m30 0h5m16 0h5m118 0h5m145 0h5m82 0h5m101 0h5m35 0h5m16 0h5m0 0h5m-4 0h5m-3 0h5m9 0h5m177 0h5m54 0h5m29 0h5m-732 1h5m-3 0h5m72 0h5m209 0h5m0 0h5m57 0h5m6 0h5m0 0h5m56 0h5m12 0h5m160 0h5m179 0h5m50 0h5m13 0h5m59 0h5m-1117 1h5m12 0h5m78 0h5m56 0h5m291 0h5m-1 0h5m-4 0h5m-1 0h5m-3 0h5m65 0h5m14 0h5m10 0h5m31 0h5m5 0h5m77 0h5m7 0h5m177 0h5m8 0h5m-849 1h5m24 0h5m50 0h5m13 0h5m6 0h5m215 0h5m53 0h5m9 0h5m-3 0h5m69 0h5m-4 0h5m60 0h5m174 0h5m-4 0h5m22 0h5m53 0h5m10 0h5m178 0h5m5 0h5m-992 1h5m34 0h5m296 0h5m14 0h5m-4 0h5m-1 0h5m2 0h5m-2 0h5m58 0h5m-4 0h5m6 0h5m254 0h5m211 0h5m0 0h5m-1035 1h5m156 0h5m69 0h5m13 0h5m204 0h5m-3 0h5m1 0h5m25 0h5m47 0h5m-4 0h5m33 0h5m23 0h5m19 0h5m16 0h5m30 0h5m13 0h5m64 0h5m170 0h5m101 0h5m-998 1h5m5 0h5m11 0h5m55 0h5m44 0h5m243 0h5m11 0h5m59 0h5m-4 0h5m-2 0h5m0 0h5m64 0h5m2 0h5m80 0h5m-4 0h5m80 0h5m7 0h5m-806 1h5m147 0h5m4 0h5m38 0h5m156 0h5m20 0h5m60 0h5m6 0h5m3 0h5m57 0h5m52 0h5m8 0h5m-2 0h5m-3 0h5m0 0h5m-3 0h5m64 0h5m106 0h5m60 0h5m253 0h5m-1046 1h5m147 0h5m26 0h5m191 0h5m0 0h5m-3 0h5m144 0h5m259 0h5m71 0h5m47 0h5m41 0h5m-1037 1h5m12 0h5m106 0h5m178 0h5m117 0h5m3 0h5m38 0h5m23 0h5m2 0h5m-2 0h5m-1 0h5m38 0h5m10 0h5m102 0h5m-1 0h5m94 0h5m2 0h5m297 0h5m-1135 1h5m19 0h5m59 0h5m-2 0h5m15 0h5m23 0h5m3 0h5m-1 0h5m127 0h5m162 0h5m7 0h5m1 0h5m-1 0h5m-2 0h5m71 0h5m63 0h5m-2 0h5m-3 0h5m-2 0h5m-3 0h5m-2 0h5m100 0h5m234 0h5m72 0h5m-1047 1h5m-1 0h5m137 0h5m38 0h5m268 0h5m67 0h5m-3 0h5m40 0h5m26 0h5m0 0h5m-3 0h5m-3 0h5m191 0h5m55 0h5m25 0h5m22 0h5m11 0h5m11 0h5m81 0h5m-685 1h5m71 0h5m2 0h5m1 0h5m-1 0h5m54 0h5m6 0h5m1 0h5m55 0h5m6 0h5m175 0h5m13 0h5m3 0h5m228 0h5m79 0h5m-1057 1h5m99 0h5m253 0h5m31 0h5m61 0h5m51 0h5m-2 0h5m-1 0h5m-3 0h5m96 0h5m77 0h5m87 0h5m-1 0h5m-3 0h5m119 0h5m-933 1h5m51 0h5m9 0h5m1 0h5m3 0h5m70 0h5m192 0h5m2 0h5m-2 0h5m70 0h5m-4 0h5m-4 0h5m-1 0h5m3 0h5m-4 0h5m13 0h5m39 0h5m5 0h5m12 0h5m64 0h5m0 0h5m-1 0h5m59 0h5m20 0h5m0 0h5m229 0h5m-969 1h5m20 0h5m30 0h5m19 0h5m283 0h5m-2 0h5m2 0h5m-1 0h5m-2 0h5m17 0h5m19 0h5m20 0h5m29 0h5m31 0h5m-4 0h5m0 0h5m57 0h5m25 0h5m-4 0h5m59 0h5m18 0h5m134 0h5m116 0h5m-1070 1h5m359 0h5m77 0h5m20 0h5m1 0h5m-1 0h5m40 0h5m11 0h5m25 0h5m14 0h5m27 0h5m31 0h5m156 0h5m103 0h5m49 0h5m-979 1h5m26 0h5m95 0h5m13 0h5m25 0h5m94 0h5m178 0h5m24 0h5m40 0h5m-2 0h5m-3 0h5m-2 0h5m1 0h5m72 0h5m-3 0h5m229 0h5m240 0h5m-1088 1h5m43 0h5m35 0h5m38 0h5m134 0h5m70 0h5m81 0h5m9 0h5m39 0h5m11 0h5m0 0h5m-1 0h5m1 0h5m-1 0h5m52 0h5m9 0h5m91 0h5m-569 1h5m388 0h5m-4 0h5m0 0h5m12 0h5m43 0h5m-1 0h5m-1 0h5m22 0h5m65 0h5m89 0h5m265 0h5m-1071 1h5m6 0h5m125 0h5m-2 0h5m43 0h5m126 0h5m139 0h5m45 0h5m11 0h5m22 0h5m34 0h5m1 0h5m61 0h5m95 0h5m95 0h5m17 0h5m51 0h5m139 0h5m-1122 1h5m4 0h5m93 0h5m-1 0h5m48 0h5m120 0h5m178 0h5m0 0h5m36 0h5m13 0h5m-1 0h5m83 0h5m38 0h5m114 0h5m186 0h5m73 0h5m-1063 1h5m74 0h5m33 0h5m25 0h5m17 0h5m285 0h5m-3 0h5m8 0h5m68 0h5m32 0h5m8 0h5m15 0h5m-1 0h5m95 0h5m203 0h5m89 0h5m34 0h5m-900 1h5m289 0h5m-3 0h5m-3 0h5m-2 0h5m65 0h5m73 0h5m1 0h5m-2 0h5m166 0h5m92 0h5m40 0h5m38 0h5m49 0h5m-941 1h5m53 0h5m2 0h5m2 0h5m35 0h5m125 0h5m113 0h5m9 0h5m58 0h5m9 0h5m17 0h5m38 0h5m188 0h5m85 0h5m142 0h5m16 0h5m1 0h5m40 0h5m-961 1h5m4 0h5m77 0h5m4 0h5m213 0h5m63 0h5m-3 0h5m75 0h5m78 0h5m3 0h5m82 0h5m83 0h5m5 0h5m200 0h5m-1107 1h5m25 0h5m4 0h5m81 0h5m27 0h5m107 0h5m81 0h5m95 0h5m1 0h5m64 0h5m70 0h5m-1 0h5m-4 0h5m3 0h5m83 0h5m83 0h5m44 0h5m45 0h5m107 0h5m35 0h5m0 0h5m33 0h5m-1042 1h5m-3 0h5m81 0h5m6 0h5m5 0h5m56 0h5m18 0h5m21 0h5m50 0h5m120 0h5m10 0h5m65 0h5m45 0h5m24 0h5m54 0h5m12 0h5m40 0h5m137 0h5m99 0h5m8 0h5m-967 1h5m110 0h5m4 0h5m7 0h5m53 0h5m40 0h5m176 0h5m-1 0h5m-1 0h5m-1 0h5m-3 0h5m66 0h5m1 0h5m-3 0h5m55 0h5m12 0h5m63 0h5m196 0h5m18 0h5m63 0h5m13 0h5m85 0h5m17 0h5m-1132 1h5m15 0h5m83 0h5m70 0h5m109 0h5m51 0h5m57 0h5m33 0h5m23 0h5m55 0h5m-4 0h5m3 0h5m-2 0h5m-3 0h5m355 0h5m51 0h5m64 0h5m88 0h5m6 0h5m-1139 1h5m154 0h5m18 0h5m267 0h5m-3 0h5m-1 0h5m69 0h5m6 0h5m64 0h5m4 0h5m60 0h5m1 0h5m64 0h5m31 0h5m27 0h5m135 0h5m38 0h5m36 0h5m-1000 1h5m63 0h5m11 0h5m5 0h5m9 0h5m26 0h5m261 0h5m4 0h5m63 0h5m61 0h5m-2 0h5m2 0h5m-4 0h5m-4 0h5m84 0h5m-1 0h5m63 0h5m203 0h5m60 0h5m31 0h5m-1086 1h5m55 0h5m94 0h5m13 0h5m58 0h5m50 0h5m40 0h5m108 0h5m0 0h5m62 0h5m-2 0h5m2 0h5m59 0h5m-3 0h5m1 0h5m-4 0h5m-1 0h5m-3 0h5m172 0h5m-779 1h5m27 0h5m32 0h5m-4 0h5m44 0h5m95 0h5m5 0h5m41 0h5m17 0h5m66 0h5m25 0h5m36 0h5m0 0h5m31 0h5m29 0h5m82 0h5m15 0h5m26 0h5m39 0h5m376 0h5m-1084 1h5m59 0h5m-2 0h5m57 0h5m241 0h5m38 0h5m18 0h5m3 0h5m55 0h5m-3 0h5m0 0h5m-4 0h5m19 0h5m33 0h5m4 0h5m5 0h5m-4 0h5m45 0h5m39 0h5m188 0h5m20 0h5m-844 1h5m372 0h5m61 0h5m-3 0h5m-3 0h5m70 0h5m-4 0h5m5 0h5m141 0h5m47 0h5m91 0h5m113 0h5m5 0h5m62 0h5m-1009 1h5m23 0h5m168 0h5m24 0h5m96 0h5m8 0h5m-4 0h5m33 0h5m28 0h5m9 0h5m-4 0h5m0 0h5m-4 0h5m52 0h5m5 0h5m5 0h5m72 0h5m56 0h5m22 0h5m53 0h5m106 0h5m1 0h5m27 0h5m114 0h5m-867 1h5m157 0h5m30 0h5m-2 0h5m65 0h5m6 0h5m63 0h5m8 0h5m33 0h5m-4 0h5m97 0h5m136 0h5m6 0h5m36 0h5m137 0h5m2 0h5m-941 1h5m108 0h5m1 0h5m52 0h5m73 0h5m33 0h5m-2 0h5m-2 0h5m63 0h5m6 0h5m-2 0h5m-3 0h5m-2 0h5m41 0h5m16 0h5m102 0h5m121 0h5m20 0h5m11 0h5m161 0h5m49 0h5m0 0h5m-1105 1h5m27 0h5m-1 0h5m103 0h5m0 0h5m0 0h5m1 0h5m24 0h5m118 0h5m53 0h5m63 0h5m1 0h5m-2 0h5m-1 0h5m0 0h5m57 0h5m2 0h5m2 0h5m145 0h5m39 0h5m15 0h5m28 0h5m49 0h5m109 0h5m125 0h5m12 0h5m-1060 1h5m47 0h5m42 0h5m12 0h5m13 0h5m77 0h5m68 0h5m103 0h5m-3 0h5m-4 0h5m10 0h5m11 0h5m28 0h5m8 0h5m2 0h5m3 0h5m1 0h5m152 0h5m5 0h5m52 0h5m7 0h5m7 0h5m79 0h5m8 0h5m-819 1h5m53 0h5m6 0h5m76 0h5m68 0h5m139 0h5m12 0h5m70 0h5m63 0h5m6 0h5m134 0h5m20 0h5m34 0h5m-1 0h5m68 0h5m136 0h5m-1055 1h5m114 0h5m-1 0h5m-3 0h5m34 0h5m21 0h5m7 0h5m108 0h5m26 0h5m45 0h5m62 0h5m2 0h5m78 0h5m-3 0h5m-1 0h5m62 0h5m-3 0h5m156 0h5m44 0h5m68 0h5m50 0h5m139 0h5m14 0h5m-1064 1h5m135 0h5m220 0h5m47 0h5m46 0h5m0 0h5m1 0h5m60 0h5m-3 0h5m-3 0h5m-4 0h5m0 0h5m-4 0h5m139 0h5m31 0h5m17 0h5m140 0h5m40 0h5m-1011 1h5m-3 0h5m22 0h5m49 0h5m170 0h5m190 0h5m25 0h5m0 0h5m37 0h5m0 0h5m1 0h5m48 0h5m11 0h5m-1 0h5m-4 0h5m20 0h5m65 0h5m9 0h5m93 0h5m40 0h5m23 0h5m25 0h5m29 0h5m-1 0h5m166 0h5m-968 1h5m17 0h5m32 0h5m217 0h5m-2 0h5m-3 0h5m-1 0h5m3 0h5m8 0h5m38 0h5m8 0h5m-4 0h5m59 0h5m-4 0h5m-3 0h5m0 0h5m256 0h5m-2 0h5m9 0h5m1 0h5m131 0h5m-1030 1h5m44 0h5m76 0h5m158 0h5m55 0h5m101 0h5m49 0h5m93 0h5m116 0h5m74 0h5m60 0h5m-843 1h5m28 0h5m66 0h5m4 0h5m47 0h5m1 0h5m25 0h5m50 0h5m128 0h5m11 0h5m-1 0h5m3 0h5m65 0h5m-3 0h5m-1 0h5m62 0h5m0 0h5m1 0h5m1 0h5m55 0h5m176 0h5m58 0h5m122 0h5m32 0h5m-1088 1h5m152 0h5m5 0h5m82 0h5m86 0h5m99 0h5m72 0h5m-3 0h5m12 0h5m51 0h5m7 0h5m-2 0h5m-4 0h5m15 0h5m52 0h5m11 0h5m4 0h5m212 0h5m22 0h5m6 0h5m105 0h5m-945 1h5m111 0h5m189 0h5m-2 0h5m2 0h5m57 0h5m24 0h5m12 0h5m21 0h5m3 0h5m1 0h5m91 0h5m75 0h5m55 0h5m95 0h5m180 0h5m-975 1h5m44 0h5m140 0h5m30 0h5m48 0h5m6 0h5m3 0h5m142 0h5m-4 0h5m-4 0h5m97 0h5m92 0h5m56 0h5m63 0h5m-4 0h5m55 0h5m-992 1h5m2 0h5m50 0h5m61 0h5m2 0h5m-3 0h5m241 0h5m43 0h5m75 0h5m3 0h5m42 0h5m22 0h5m-1 0h5m16 0h5m150 0h5m49 0h5m41 0h5m6 0h5m2 0h5m14 0h5m6 0h5m11 0h5m155 0h5m14 0h5m-1157 1h5m19 0h5m14 0h5m27 0h5m1 0h5m10 0h5m65 0h5m6 0h5m232 0h5m35 0h5m8 0h5m4 0h5m75 0h5m-2 0h5m60 0h5m0 0h5m-1 0h5m5 0h5m59 0h5m33 0h5m80 0h5m116 0h5m149 0h5m2 0h5m-1104 1h5m4 0h5m9 0h5m40 0h5m67 0h5m37 0h5m269 0h5m118 0h5m32 0h5m0 0h5m57 0h5m25 0h5m81 0h5m123 0h5m19 0h5m8 0h5m7 0h5m60 0h5m-891 1h5m7 0h5m18 0h5m257 0h5m80 0h5m-4 0h5m3 0h5m0 0h5m50 0h5m0 0h5m8 0h5m-4 0h5m65 0h5m7 0h5m95 0h5m37 0h5m0 0h5m11 0h5m166 0h5m70 0h5m-1137 1h5m60 0h5m205 0h5m5 0h5m188 0h5m60 0h5m3 0h5m4 0h5m-2 0h5m55 0h5m-3 0h5m20 0h5m-4 0h5m63 0h5m6 0h5m75 0h5m99 0h5m43 0h5m15 0h5m81 0h5m-3 0h5m-4 0h5m-1046 1h5m51 0h5m-1 0h5m6 0h5m56 0h5m9 0h5m-4 0h5m17 0h5m3 0h5m13 0h5m22 0h5m3 0h5m211 0h5m-1 0h5m3 0h5m55 0h5m-3 0h5m0 0h5m4 0h5m15 0h5m3 0h5m28 0h5m2 0h5m49 0h5m70 0h5m93 0h5m47 0h5m81 0h5m4 0h5m10 0h5m72 0h5m0 0h5m34 0h5m0 0h5m-1147 1h5m92 0h5m1 0h5m59 0h5m-4 0h5m10 0h5m19 0h5m38 0h5m64 0h5m60 0h5m23 0h5m24 0h5m19 0h5m74 0h5m-3 0h5m-1 0h5m-4 0h5m17 0h5m39 0h5m-1 0h5m-3 0h5m-4 0h5m25 0h5m23 0h5m41 0h5m258 0h5m10 0h5m28 0h5m35 0h5m11 0h5m-1038 1h5m220 0h5m157 0h5m11 0h5m15 0h5m55 0h5m65 0h5m5 0h5m-3 0h5m-2 0h5m14 0h5m54 0h5m7 0h5m7 0h5m68 0h5m35 0h5m54 0h5m61 0h5m12 0h5m81 0h5m4 0h5m26 0h5m-1121 1h5m29 0h5m12 0h5m45 0h5m56 0h5m1 0h5m-4 0h5m46 0h5m163 0h5m35 0h5m0 0h5m22 0h5m43 0h5m41 0h5m-4 0h5m-1 0h5m41 0h5m14 0h5m-1 0h5m-4 0h5m3 0h5m63 0h5m0 0h5m4 0h5m180 0h5m70 0h5m77 0h5m-1056 1h5m23 0h5m34 0h5m34 0h5m36 0h5m5 0h5m11 0h5m43 0h5m176 0h5m45 0h5m0 0h5m10 0h5m-4 0h5m53 0h5m41 0h5m30 0h5m64 0h5m18 0h5m-3 0h5m1 0h5m31 0h5m-3 0h5m16 0h5m17 0h5m32 0h5m18 0h5m33 0h5m-3 0h5m26 0h5m210 0h5m-1103 1h5m14 0h5m18 0h5m1 0h5m64 0h5m45 0h5m36 0h5m16 0h5m56 0h5m37 0h5m79 0h5m3 0h5m2 0h5m57 0h5m-2 0h5m-3 0h5m-1 0h5m5 0h5m49 0h5m5 0h5m2 0h5m-4 0h5m119 0h5m20 0h5m35 0h5m26 0h5m126 0h5m79 0h5m75 0h5m-1035 1h5m51 0h5m28 0h5m68 0h5m49 0h5m116 0h5m15 0h5m53 0h5m6 0h5m0 0h5m1 0h5m-4 0h5m-3 0h5m-4 0h5m56 0h5m-1 0h5m3 0h5m-2 0h5m4 0h5m68 0h5m55 0h5m112 0h5m-869 1h5m13 0h5m55 0h5m5 0h5m52 0h5m15 0h5m29 0h5m34 0h5m21 0h5m38 0h5m122 0h5m15 0h5m14 0h5m52 0h5m57 0h5m-1 0h5m1 0h5m-4 0h5m-4 0h5m68 0h5m6 0h5m23 0h5m57 0h5m45 0h5m16 0h5m33 0h5m48 0h5m71 0h5m-1056 1h5m15 0h5m86 0h5m-1 0h5m93 0h5m52 0h5m6 0h5m-3 0h5m172 0h5m6 0h5m5 0h5m0 0h5m56 0h5m10 0h5m55 0h5m24 0h5m67 0h5m0 0h5m15 0h5m77 0h5m112 0h5m25 0h5m53 0h5m-999 1h5m80 0h5m89 0h5m-4 0h5m12 0h5m225 0h5m2 0h5m5 0h5m72 0h5m-3 0h5m-3 0h5m56 0h5m1 0h5m-3 0h5m0 0h5m33 0h5m45 0h5m1 0h5m-4 0h5m-4 0h5m101 0h5m40 0h5m15 0h5m71 0h5m32 0h5m22 0h5m13 0h5m36 0h5m47 0h5m-1141 1h5m34 0h5m81 0h5m127 0h5m112 0h5m84 0h5m-4 0h5m67 0h5m2 0h5m9 0h5m-1 0h5m8 0h5m28 0h5m93 0h5m1 0h5m102 0h5m50 0h5m85 0h5m110 0h5m-1087 1h5m2 0h5m-1 0h5m24 0h5m52 0h5m56 0h5m125 0h5m57 0h5m-4 0h5m92 0h5m12 0h5m67 0h5m-3 0h5m3 0h5m58 0h5m44 0h5m11 0h5m15 0h5m35 0h5m58 0h5m-3 0h5m27 0h5m54 0h5m1 0h5m81 0h5m19 0h5m29 0h5m-2 0h5m53 0h5m1 0h5m-1112 1h5m97 0h5m2 0h5m33 0h5m37 0h5m20 0h5m56 0h5m176 0h5m69 0h5m1 0h5m54 0h5m-3 0h5m3 0h5m1 0h5m27 0h5m61 0h5m-1 0h5m54 0h5m47 0h5m18 0h5m184 0h5m19 0h5m20 0h5m15 0h5m20 0h5m-1065 1h5m6 0h5m79 0h5m52 0h5m24 0h5m6 0h5m6 0h5m42 0h5m119 0h5m13 0h5m-2 0h5m-2 0h5m63 0h5m-3 0h5m1 0h5m8 0h5m46 0h5m-2 0h5m-4 0h5m5 0h5m21 0h5m63 0h5m-4 0h5m36 0h5m23 0h5m15 0h5m-3 0h5m125 0h5m44 0h5m9 0h5m0 0h5m14 0h5m21 0h5m-4 0h5m5 0h5m34 0h5m-1077 1h5m73 0h5m63 0h5m7 0h5m139 0h5m25 0h5m63 0h5m30 0h5m-3 0h5m-1 0h5m86 0h5m5 0h5m10 0h5m12 0h5m-3 0h5m3 0h5m5 0h5m20 0h5m-4 0h5m5 0h5m169 0h5m218 0h5m0 0h5m9 0h5m23 0h5m-962 1h5m4 0h5m19 0h5m35 0h5m11 0h5m41 0h5m61 0h5m22 0h5m57 0h5m-3 0h5m7 0h5m76 0h5m3 0h5m-3 0h5m-3 0h5m5 0h5m43 0h5m-1 0h5m-2 0h5m0 0h5m57 0h5m26 0h5m27 0h5m57 0h5m47 0h5m16 0h5m57 0h5m14 0h5m90 0h5m-4 0h5m6 0h5m-876 1h5m46 0h5m14 0h5m65 0h5m26 0h5m84 0h5m-2 0h5m5 0h5m2 0h5m111 0h5m5 0h5m-2 0h5m56 0h5m12 0h5m37 0h5m59 0h5m0 0h5m161 0h5m94 0h5m18 0h5m46 0h5m-1142 1h5m30 0h5m43 0h5m19 0h5m-4 0h5m91 0h5m150 0h5m26 0h5m3 0h5m10 0h5m39 0h5m2 0h5m0 0h5m2 0h5m19 0h5m58 0h5m37 0h5m6 0h5m1 0h5m-4 0h5m110 0h5m55 0h5m62 0h5m97 0h5m50 0h5m9 0h5m33 0h5m13 0h5m-1052 1h5m44 0h5m-2 0h5m17 0h5m0 0h5m43 0h5m39 0h5m-1 0h5m73 0h5m113 0h5m37 0h5m2 0h5m0 0h5m9 0h5m56 0h5m4 0h5m37 0h5m17 0h5m1 0h5m0 0h5m239 0h5m30 0h5m42 0h5m36 0h5m49 0h5m6 0h5m-3 0h5m-1063 1h5m55 0h5m49 0h5m41 0h5m3 0h5m19 0h5m11 0h5m17 0h5m32 0h5m83 0h5m93 0h5m0 0h5m5 0h5m68 0h5m-3 0h5m72 0h5m79 0h5m3 0h5m144 0h5m2 0h5m-831 1h5m62 0h5m44 0h5m-1 0h5m7 0h5m68 0h5m8 0h5m27 0h5m70 0h5m1 0h5m20 0h5m53 0h5m-3 0h5m64 0h5m8 0h5m65 0h5m-2 0h5m86 0h5m22 0h5m23 0h5m13 0h5m83 0h5m32 0h5m141 0h5m-1054 1h5m1 0h5m65 0h5m41 0h5m30 0h5m1 0h5m180 0h5m63 0h5m34 0h5m39 0h5m13 0h5m12 0h5m5 0h5m-1 0h5m-4 0h5m26 0h5m0 0h5m0 0h5m16 0h5m-3 0h5m9 0h5m-4 0h5m42 0h5m1 0h5m10 0h5m27 0h5m9 0h5m29 0h5m115 0h5m22 0h5m11 0h5m81 0h5m102 0h5m-1144 1h5m-1 0h5m27 0h5m196 0h5m13 0h5m10 0h5m115 0h5m61 0h5m17 0h5m71 0h5m-4 0h5m-3 0h5m10 0h5m137 0h5m0 0h5m6 0h5m49 0h5m4 0h5m-3 0h5m16 0h5m72 0h5m-2 0h5m25 0h5m45 0h5m-962 1h5m37 0h5m9 0h5m52 0h5m25 0h5m12 0h5m-3 0h5m51 0h5m161 0h5m56 0h5m-2 0h5m-1 0h5m-3 0h5m1 0h5m40 0h5m17 0h5m-3 0h5m6 0h5m-4 0h5m58 0h5m3 0h5m14 0h5m28 0h5m19 0h5m11 0h5m35 0h5m8 0h5m21 0h5m11 0h5m-1 0h5m1 0h5m30 0h5m27 0h5m9 0h5m129 0h5m3 0h5m1 0h5m4 0h5m56 0h5m3 0h5m0 0h5m-1121 1h5m70 0h5m24 0h5m72 0h5m58 0h5m77 0h5m10 0h5m9 0h5m62 0h5m16 0h5m-4 0h5m-3 0h5m4 0h5m68 0h5m4 0h5m-4 0h5m50 0h5m-1 0h5m7 0h5m-1 0h5m73 0h5m76 0h5m-1 0h5m89 0h5m8 0h5m13 0h5m-4 0h5m83 0h5m50 0h5m9 0h5m32 0h5m-1103 1h5m77 0h5m5 0h5m3 0h5m119 0h5m96 0h5m4 0h5m50 0h5m17 0h5m23 0h5m2 0h5m6 0h5m13 0h5m6 0h5m26 0h5m1 0h5m0 0h5m26 0h5m36 0h5m175 0h5m7 0h5m93 0h5m57 0h5m71 0h5m2 0h5m-1 0h5m3 0h5m59 0h5m10 0h5m-1159 1h5m51 0h5m18 0h5m11 0h5m83 0h5m90 0h5m10 0h5m40 0h5m122 0h5m2 0h5m1 0h5m102 0h5m19 0h5m18 0h5m1 0h5m8 0h5m13 0h5m45 0h5m23 0h5m46 0h5m17 0h5m-2 0h5m16 0h5m17 0h5m37 0h5m4 0h5m29 0h5m40 0h5m30 0h5m14 0h5m22 0h5m24 0h5m22 0h5m3 0h5m-1118 1h5m149 0h5m35 0h5m18 0h5m191 0h5m9 0h5m14 0h5m2 0h5m-2 0h5m31 0h5m21 0h5m0 0h5m-1 0h5m0 0h5m-3 0h5m-2 0h5m21 0h5m36 0h5m3 0h5m-4 0h5m88 0h5m42 0h5m6 0h5m4 0h5m9 0h5m31 0h5m41 0h5m7 0h5m81 0h5m27 0h5m58 0h5m2 0h5m33 0h5m-1052 1h5m3 0h5m5 0h5m5 0h5m115 0h5m7 0h5m3 0h5m21 0h5m31 0h5m21 0h5m80 0h5m38 0h5m-1 0h5m-2 0h5m-2 0h5m73 0h5m19 0h5m-1 0h5m24 0h5m16 0h5m19 0h5m12 0h5m9 0h5m10 0h5m16 0h5m12 0h5m27 0h5m60 0h5m57 0h5m45 0h5m35 0h5m2 0h5m-2 0h5m23 0h5m113 0h5m-1158 1h5m-3 0h5m-2 0h5m18 0h5m78 0h5m2 0h5m69 0h5m51 0h5m9 0h5m3 0h5m1 0h5m152 0h5m17 0h5m3 0h5m0 0h5m-1 0h5m13 0h5m56 0h5m12 0h5m53 0h5m-4 0h5m1 0h5m0 0h5m-1 0h5m7 0h5m-4 0h5m23 0h5m0 0h5m-1 0h5m46 0h5m41 0h5m66 0h5m4 0h5m56 0h5m54 0h5m9 0h5m34 0h5m6 0h5m4 0h5m9 0h5m53 0h5m-1069 1h5m17 0h5m-3 0h5m6 0h5m9 0h5m37 0h5m8 0h5m2 0h5m46 0h5m3 0h5m31 0h5m7 0h5m9 0h5m9 0h5m158 0h5m-2 0h5m-4 0h5m-4 0h5m10 0h5m44 0h5m-3 0h5m-4 0h5m30 0h5m12 0h5m10 0h5m36 0h5m72 0h5m62 0h5m19 0h5m20 0h5m0 0h5m27 0h5m9 0h5m1 0h5m21 0h5m7 0h5m6 0h5m29 0h5m-4 0h5m40 0h5m2 0h5m7 0h5m10 0h5m47 0h5m-1097 1h5m21 0h5m51 0h5m-1 0h5m34 0h5m5 0h5m6 0h5m12 0h5m11 0h5m37 0h5m34 0h5m5 0h5m3 0h5m24 0h5m22 0h5m51 0h5m48 0h5m-3 0h5m-4 0h5m-3 0h5m1 0h5m-3 0h5m55 0h5m-4 0h5m-4 0h5m6 0h5m3 0h5m51 0h5m3 0h5m5 0h5m173 0h5m89 0h5m68 0h5m18 0h5m37 0h5m48 0h5m9 0h5m-1085 1h5m65 0h5m23 0h5m3 0h5m17 0h5m9 0h5m39 0h5m7 0h5m169 0h5m-4 0h5m15 0h5m25 0h5m11 0h5m28 0h5m11 0h5m11 0h5m1 0h5m39 0h5m40 0h5m-2 0h5m-3 0h5m6 0h5m15 0h5m87 0h5m22 0h5m0 0h5m120 0h5m1 0h5m-2 0h5m97 0h5m23 0h5m11 0h5m11 0h5m2 0h5m15 0h5m26 0h5m-1153 1h5m13 0h5m42 0h5m-4 0h5m73 0h5m-1 0h5m21 0h5m29 0h5m17 0h5m67 0h5m20 0h5m11 0h5m71 0h5m47 0h5m-4 0h5m-1 0h5m34 0h5m2 0h5m34 0h5m30 0h5m2 0h5m9 0h5m6 0h5m2 0h5m74 0h5m28 0h5m1 0h5m27 0h5m11 0h5m5 0h5m4 0h5m18 0h5m16 0h5m78 0h5m52 0h5m51 0h5m84 0h5m-1139 1h5m6 0h5m57 0h5m7 0h5m2 0h5m14 0h5m34 0h5m13 0h5m60 0h5m115 0h5m25 0h5m-4 0h5m40 0h5m30 0h5m-4 0h5m0 0h5m55 0h5m-3 0h5m-4 0h5m8 0h5m16 0h5m40 0h5m-1 0h5m77 0h5m25 0h5m-3 0h5m29 0h5m31 0h5m17 0h5m38 0h5m65 0h5m20 0h5m41 0h5m33 0h5m49 0h5m32 0h5m-1142 1h5m22 0h5m65 0h5m110 0h5m144 0h5m11 0h5m-2 0h5m-4 0h5m18 0h5m12 0h5m35 0h5m24 0h5m10 0h5m7 0h5m6 0h5m-2 0h5m-3 0h5m-4 0h5m-4 0h5m-2 0h5m3 0h5m61 0h5m-4 0h5m8 0h5m41 0h5m23 0h5m41 0h5m32 0h5m20 0h5m1 0h5m9 0h5m7 0h5m53 0h5m27 0h5m84 0h5m27 0h5m19 0h5m12 0h5m-1 0h5m13 0h5m-1062 1h5m10 0h5m2 0h5m0 0h5m2 0h5m22 0h5m28 0h5m33 0h5m5 0h5m2 0h5m55 0h5m11 0h5m17 0h5m-1 0h5m86 0h5m24 0h5m17 0h5m-4 0h5m0 0h5m-4 0h5m-1 0h5m4 0h5m28 0h5m3 0h5m7 0h5m65 0h5m3 0h5m5 0h5m-2 0h5m17 0h5m61 0h5m58 0h5m12 0h5m-2 0h5m40 0h5m21 0h5m57 0h5m-1 0h5m24 0h5m45 0h5m-3 0h5m91 0h5m7 0h5m-1063 1h5m12 0h5m-1 0h5m8 0h5m-4 0h5m23 0h5m24 0h5m31 0h5m13 0h5m-2 0h5m-4 0h5m0 0h5m145 0h5m5 0h5m39 0h5m35 0h5m-3 0h5m-2 0h5m47 0h5m-4 0h5m8 0h5m6 0h5m-3 0h5m7 0h5m36 0h5m8 0h5m19 0h5m22 0h5m32 0h5m-4 0h5m18 0h5m7 0h5m62 0h5m33 0h5m46 0h5m5 0h5m65 0h5m-3 0h5m4 0h5m49 0h5m0 0h5m5 0h5m21 0h5m0 0h5m50 0h5m9 0h5m-1163 1h5m53 0h5m14 0h5m18 0h5m44 0h5m22 0h5m3 0h5m24 0h5m18 0h5m13 0h5m13 0h5m15 0h5m62 0h5m4 0h5m60 0h5m25 0h5m14 0h5m-2 0h5m63 0h5m6 0h5m-3 0h5m-3 0h5m49 0h5m-3 0h5m-2 0h5m-4 0h5m-4 0h5m-4 0h5m1 0h5m0 0h5m15 0h5m15 0h5m0 0h5m36 0h5m89 0h5m72 0h5m11 0h5m79 0h5m62 0h5m12 0h5m-2 0h5m14 0h5m0 0h5m0 0h5m0 0h5m-1125 1h5m9 0h5m24 0h5m46 0h5m73 0h5m-4 0h5m-4 0h5m0 0h5m49 0h5m43 0h5m12 0h5m85 0h5m67 0h5m-4 0h5m-3 0h5m4 0h5m28 0h5m2 0h5m20 0h5m1 0h5m5 0h5m0 0h5m0 0h5m5 0h5m61 0h5m22 0h5m22 0h5m47 0h5m30 0h5m41 0h5m-2 0h5m119 0h5m76 0h5m-3 0h5m0 0h5m10 0h5m59 0h5m11 0h5m-1040 1h5m43 0h5m5 0h5m16 0h5m145 0h5m3 0h5m35 0h5m13 0h5m0 0h5m-2 0h5m59 0h5m15 0h5m51 0h5m2 0h5m14 0h5m33 0h5m18 0h5m-4 0h5m113 0h5m-4 0h5m71 0h5m42 0h5m14 0h5m1 0h5m15 0h5m141 0h5m16 0h5m41 0h5m14 0h5m-1138 1h5m60 0h5m7 0h5m0 0h5m-3 0h5m28 0h5m19 0h5m9 0h5m5 0h5m-2 0h5m32 0h5m-3 0h5m-2 0h5m74 0h5m4 0h5m-3 0h5m76 0h5m6 0h5m27 0h5m29 0h5m9 0h5m51 0h5m-2 0h5m1 0h5m-3 0h5m27 0h5m-1 0h5m21 0h5m-2 0h5m-3 0h5m7 0h5m37 0h5m11 0h5m6 0h5m3 0h5m9 0h5m11 0h5m9 0h5m20 0h5m30 0h5m-4 0h5m0 0h5m63 0h5m0 0h5m-2 0h5m-4 0h5m37 0h5m6 0h5m7 0h5m3 0h5m-1 0h5m5 0h5m1 0h5m5 0h5m60 0h5m29 0h5m15 0h5m24 0h5m-1115 1h5m3 0h5m47 0h5m-2 0h5m34 0h5m14 0h5m4 0h5m2 0h5m35 0h5m40 0h5m28 0h5m-4 0h5m7 0h5m9 0h5m-2 0h5m-1 0h5m-2 0h5m75 0h5m-1 0h5m1 0h5m1 0h5m-4 0h5m42 0h5m-1 0h5m2 0h5m8 0h5m24 0h5m25 0h5m-2 0h5m-4 0h5m9 0h5m37 0h5m0 0h5m2 0h5m0 0h5m0 0h5m-3 0h5m-3 0h5m89 0h5m38 0h5m-2 0h5m29 0h5m6 0h5m-1 0h5m4 0h5m16 0h5m15 0h5m-2 0h5m37 0h5m1 0h5m5 0h5m12 0h5m3 0h5m46 0h5m12 0h5m12 0h5m31 0h5m1 0h5m-1082 1h5m0 0h5m9 0h5m40 0h5m35 0h5m49 0h5m-4 0h5m-3 0h5m-3 0h5m13 0h5m18 0h5m12 0h5m27 0h5m41 0h5m5 0h5m96 0h5m22 0h5m8 0h5m7 0h5m-2 0h5m0 0h5m20 0h5m0 0h5m-1 0h5m27 0h5m-2 0h5m72 0h5m11 0h5m21 0h5m55 0h5m-3 0h5m21 0h5m1 0h5m31 0h5m24 0h5m6 0h5m84 0h5m32 0h5m6 0h5m-3 0h5m62 0h5m23 0h5m4 0h5m45 0h5m4 0h5m-1119 1h5m134 0h5m109 0h5m37 0h5m-2 0h5m17 0h5m33 0h5m13 0h5m89 0h5m8 0h5m66 0h5m34 0h5m-2 0h5m7 0h5m77 0h5m-3 0h5m11 0h5m46 0h5m-4 0h5m17 0h5m10 0h5m36 0h5m93 0h5m89 0h5m10 0h5m5 0h5"/>
<line x1="45.6" y1="182" x2="45.6" y2="228" stroke="#777" stroke-width="1.2"/>
<line x1="45.6" y1="235" x2="45.6" y2="281.3" stroke="#777" stroke-width="1.2"/>
<line x1="45" y1="281" x2="337" y2="281" stroke="#666" stroke-width="1.2"/>
<text x="38.50" y="214.54" font-size="13.40" text-anchor="start" fill="#222" transform="rotate(-90 38.50 214.54)">C1</text>
<text x="38.50" y="266.94" font-size="13.40" text-anchor="start" fill="#222" transform="rotate(-90 38.50 266.94)">C2</text>
<text x="42.27" y="296.80" font-size="12.00" text-anchor="start" fill="#222">0</text>
<text x="95.60" y="296.80" font-size="12.00" text-anchor="start" fill="#222">0.2</text>
<text x="153.76" y="296.80" font-size="12.00" text-anchor="start" fill="#222">0.4</text>
<text x="212.13" y="296.80" font-size="12.00" text-anchor="start" fill="#222">0.6</text>
<text x="270.38" y="296.80" font-size="12.00" text-anchor="start" fill="#222">0.8</text>
<text x="333.52" y="296.80" font-size="12.00" text-anchor="start" fill="#222">1</text>
<text x="166.18" y="314.20" font-size="13.90" text-anchor="start" fill="#222">Time (s)</text>
<line x1="59.3" y1="322.4" x2="59.3" y2="377.6" stroke="#999" stroke-width="1"/>
<line x1="59" y1="377.4" x2="330.3" y2="377.4" stroke="#999" stroke-width="1"/>
<line x1="149.7" y1="377" x2="149.7" y2="374.5" stroke="#999" stroke-width="1"/>
<line x1="240.1" y1="377" x2="240.1" y2="374.5" stroke="#999" stroke-width="1"/>
<line x1="330.5" y1="377" x2="330.5" y2="374.5" stroke="#999" stroke-width="1"/>
<line x1="59.3" y1="338.4" x2="62" y2="338.4" stroke="#999" stroke-width="1"/>
<polyline fill="none" stroke="#444" stroke-width="1.9" stroke-linejoin="round" points="59.3,372.5 60.6,359.6 62.1,354.5 63.8,359.0 65.7,364.8 68.3,368.7 70.9,368.0 74.1,366.7 76.7,362.2 78.6,355.8 80.5,350.6 82.4,350.3 84.6,349.6 87.0,352.6 89.0,357.1 89.9,364.1 92.2,368.0 96.0,369.9 99.3,371.2 106.3,372.5 112.6,373.2 117.9,374.0 122.9,375.4 129.5,376.4 137.0,376.9 154.8,377.2 185.9,377.3 278.1,377.4"/>
<text x="38.39" y="343.10" font-size="12.30" text-anchor="start" fill="#222">0.5</text>
<text x="48.67" y="381.80" font-size="12.30" text-anchor="start" fill="#222">0</text>
<text x="55.97" y="394.00" font-size="12.00" text-anchor="start" fill="#222">0</text>
<text x="143.04" y="394.00" font-size="12.00" text-anchor="start" fill="#222">50</text>
<text x="229.90" y="394.00" font-size="12.00" text-anchor="start" fill="#222">100</text>
<text x="320.30" y="394.00" font-size="12.00" text-anchor="start" fill="#222">150</text>
<text x="34.20" y="363.96" font-size="13.50" text-anchor="start" fill="#222" transform="rotate(-90 34.20 363.96)">PSD</text>
<text x="148.29" y="410.40" font-size="13.80" text-anchor="start" fill="#222">Frequency (hz)</text>
<text x="130.31" y="436.70" font-size="14.60" text-anchor="start" fill="#000">Correlation = 0.15</text>
<text x="123.59" y="454.10" font-size="14.60" text-anchor="start" fill="#000">Magnitude = 0.0775</text>
<text x="55.08" y="471.50" font-size="14.60" text-anchor="start" fill="#000">Excitatory firing rate of Cluster 1 = 6.5 Hz</text>
<text x="55.08" y="488.90" font-size="14.60" text-anchor="start" fill="#000">Excitatory firing rate of Cluster 2 = 3.9 Hz</text>
<text x="431.68" y="13.70" font-size="17.20" text-anchor="start" font-weight="bold" fill="#000">B</text>
<text x="456.65" y="19.50" font-size="17.75" text-anchor="start" font-weight="bold" fill="#000">High Proportion of Excitatory Inputs</text>
<circle cx="522.6" cy="75.3" r="40.9" fill="#f0f0f0" stroke="#333" stroke-width="3.3"/>
<text x="509.20" y="62.80" font-size="18.30" text-anchor="start" font-weight="bold" fill="#000">C1</text>
<line x1="571" y1="75.35" x2="648.8" y2="75.35" stroke="#d8d8d8" stroke-width="4.9"/>
<polygon points="648,70.6 655.3,75.35 648,80.1" fill="#dcdcdc"/>
<circle cx="701.3" cy="75.4" r="40.7" fill="#f0f0f0" stroke="#888" stroke-width="3.4"/>
<path d="M701.2 74.5 L672.9 48.1 A38.7 38.7 0 0 0 672.0 99.9 Z" fill="#0505b0"/>
<text x="689.03" y="62.80" font-size="18.30" text-anchor="start" font-weight="bold" fill="#000">C2</text>
<text x="492.33" y="141.90" font-size="14.60" text-anchor="start" fill="#000">Proportion of excitatory inputs = 0.23</text>
<text x="546.44" y="172.80" font-size="17.80" text-anchor="start" font-weight="bold" fill="#000">High Correlation</text>
<path transform="scale(0.25)" fill="none" stroke="#2e2e2e" stroke-width="4.4" d="M2017 730h5m13 0h5m557 0h5m-2 0h5m4 0h5m59 0h5m113 0h5m127 0h5m104 0h5m-2 0h5m-1131 1h5m87 0h5m63 0h5m1 0h5m5 0h5m255 0h5m8 0h5m134 0h5m83 0h5m10 0h5m-4 0h5m-2 0h5m-4 0h5m-4 0h5m-2 0h5m-3 0h5m-4 0h5m67 0h5m6 0h5m-1 0h5m-4 0h5m-4 0h5m1 0h5m-1 0h5m72 0h5m6 0h5m43 0h5m135 0h5m23 0h5m0 0h5m22 0h5m-1132 1h5m-3 0h5m1 0h5m40 0h5m179 0h5m85 0h5m52 0h5m13 0h5m34 0h5m87 0h5m75 0h5m-4 0h5m0 0h5m33 0h5m17 0h5m-4 0h5m0 0h5m-1 0h5m-3 0h5m-1 0h5m8 0h5m55 0h5m18 0h5m62 0h5m51 0h5m15 0h5m76 0h5m4 0h5m-1041 1h5m0 0h5m1 0h5m5 0h5m-2 0h5m63 0h5m-1 0h5m-4 0h5m45 0h5m19 0h5m-2 0h5m-1 0h5m1 0h5m14 0h5m146 0h5m72 0h5m124 0h5m34 0h5m87 0h5m4 0h5m95 0h5m70 0h5m-4 0h5m-1 0h5m238 0h5m-1131 1h5m-2 0h5m3 0h5m9 0h5m30 0h5m23 0h5m94 0h5m52 0h5m93 0h5m8 0h5m0 0h5m1 0h5m92 0h5m88 0h5m75 0h5m0 0h5m4 0h5m47 0h5m1 0h5m1 0h5m53 0h5m5 0h5m-3 0h5m-3 0h5m-4 0h5m25 0h5m299 0h5m3 0h5m8 0h5m-1 0h5m-1155 1h5m1 0h5m-4 0h5m12 0h5m-3 0h5m63 0h5m62 0h5m11 0h5m1 0h5m136 0h5m32 0h5m0 0h5m-2 0h5m116 0h5m127 0h5m10 0h5m22 0h5m26 0h5m-2 0h5m-4 0h5m7 0h5m49 0h5m101 0h5m17 0h5m128 0h5m89 0h5m-1123 1h5m-2 0h5m3 0h5m-1 0h5m59 0h5m18 0h5m67 0h5m9 0h5m-1 0h5m146 0h5m128 0h5m69 0h5m14 0h5m47 0h5m64 0h5m4 0h5m-4 0h5m-4 0h5m-3 0h5m-3 0h5m2 0h5m57 0h5m0 0h5m0 0h5m11 0h5m97 0h5m78 0h5m96 0h5m41 0h5m-1 0h5m-1140 1h5m8 0h5m149 0h5m-1 0h5m14 0h5m159 0h5m238 0h5m89 0h5m-3 0h5m3 0h5m-1 0h5m-3 0h5m69 0h5m10 0h5m120 0h5m121 0h5m68 0h5m5 0h5m13 0h5m-1145 1h5m12 0h5m58 0h5m8 0h5m13 0h5m41 0h5m12 0h5m23 0h5m52 0h5m90 0h5m58 0h5m13 0h5m112 0h5m128 0h5m9 0h5m1 0h5m-4 0h5m-4 0h5m-2 0h5m53 0h5m-2 0h5m-4 0h5m-1 0h5m10 0h5m88 0h5m37 0h5m36 0h5m27 0h5m102 0h5m4 0h5m1 0h5m-1135 1h5m-1 0h5m11 0h5m-3 0h5m0 0h5m81 0h5m19 0h5m23 0h5m-1 0h5m-2 0h5m1 0h5m90 0h5m70 0h5m103 0h5m79 0h5m27 0h5m-4 0h5m50 0h5m66 0h5m11 0h5m65 0h5m-4 0h5m20 0h5m194 0h5m105 0h5m-1 0h5m-3 0h5m-4 0h5m-1129 1h5m90 0h5m1 0h5m49 0h5m25 0h5m35 0h5m235 0h5m17 0h5m12 0h5m118 0h5m66 0h5m-3 0h5m-4 0h5m-2 0h5m-4 0h5m-3 0h5m68 0h5m0 0h5m-2 0h5m-2 0h5m163 0h5m65 0h5m77 0h5m13 0h5m6 0h5m-1147 1h5m0 0h5m-3 0h5m-2 0h5m3 0h5m-3 0h5m-4 0h5m-1 0h5m132 0h5m10 0h5m47 0h5m25 0h5m59 0h5m11 0h5m7 0h5m9 0h5m68 0h5m2 0h5m4 0h5m5 0h5m90 0h5m117 0h5m14 0h5m-4 0h5m21 0h5m-2 0h5m38 0h5m8 0h5m5 0h5m222 0h5m15 0h5m-4 0h5m-1051 1h5m3 0h5m11 0h5m70 0h5m-3 0h5m-3 0h5m-3 0h5m29 0h5m25 0h5m5 0h5m74 0h5m3 0h5m122 0h5m8 0h5m45 0h5m112 0h5m31 0h5m91 0h5m5 0h5m-1 0h5m-2 0h5m46 0h5m-3 0h5m4 0h5m220 0h5m15 0h5m-3 0h5m1 0h5m104 0h5m-4 0h5m-4 0h5m-1136 1h5m8 0h5m53 0h5m12 0h5m11 0h5m212 0h5m117 0h5m205 0h5m25 0h5m-1 0h5m1 0h5m64 0h5m16 0h5m142 0h5m29 0h5m140 0h5m4 0h5m-1137 1h5m7 0h5m0 0h5m-2 0h5m66 0h5m-2 0h5m4 0h5m64 0h5m21 0h5m21 0h5m24 0h5m4 0h5m27 0h5m52 0h5m-2 0h5m93 0h5m12 0h5m164 0h5m53 0h5m0 0h5m-4 0h5m3 0h5m-4 0h5m-4 0h5m121 0h5m46 0h5m25 0h5m99 0h5m88 0h5m-3 0h5m3 0h5m0 0h5m-1137 1h5m8 0h5m1 0h5m-4 0h5m46 0h5m0 0h5m10 0h5m2 0h5m0 0h5m20 0h5m37 0h5m-2 0h5m13 0h5m19 0h5m110 0h5m24 0h5m-3 0h5m4 0h5m82 0h5m2 0h5m24 0h5m118 0h5m1 0h5m78 0h5m-4 0h5m-2 0h5m11 0h5m43 0h5m-1 0h5m-4 0h5m3 0h5m49 0h5m192 0h5m96 0h5m-1143 1h5m2 0h5m-2 0h5m-3 0h5m-2 0h5m-3 0h5m5 0h5m134 0h5m3 0h5m6 0h5m319 0h5m12 0h5m31 0h5m25 0h5m97 0h5m-3 0h5m-2 0h5m-1 0h5m-3 0h5m-2 0h5m-3 0h5m58 0h5m-4 0h5m2 0h5m2 0h5m84 0h5m14 0h5m116 0h5m71 0h5m44 0h5m-1144 1h5m-1 0h5m3 0h5m-3 0h5m76 0h5m56 0h5m12 0h5m26 0h5m16 0h5m14 0h5m98 0h5m38 0h5m63 0h5m8 0h5m-4 0h5m19 0h5m28 0h5m108 0h5m47 0h5m13 0h5m60 0h5m89 0h5m4 0h5m123 0h5m-2 0h5m30 0h5m76 0h5m-1 0h5m-1130 1h5m-2 0h5m-3 0h5m80 0h5m-4 0h5m77 0h5m-1 0h5m53 0h5m15 0h5m110 0h5m252 0h5m61 0h5m1 0h5m-2 0h5m-2 0h5m69 0h5m11 0h5m48 0h5m5 0h5m7 0h5m143 0h5m89 0h5m12 0h5m5 0h5m-1150 1h5m2 0h5m2 0h5m1 0h5m64 0h5m2 0h5m77 0h5m1 0h5m241 0h5m-1 0h5m116 0h5m48 0h5m46 0h5m32 0h5m-2 0h5m5 0h5m-1 0h5m70 0h5m28 0h5m274 0h5m13 0h5m5 0h5m-1 0h5m-2 0h5m9 0h5m-1152 1h5m-3 0h5m1 0h5m4 0h5m-3 0h5m-1 0h5m55 0h5m15 0h5m275 0h5m60 0h5m52 0h5m33 0h5m62 0h5m-3 0h5m13 0h5m1 0h5m8 0h5m-2 0h5m36 0h5m-4 0h5m-3 0h5m-1 0h5m1 0h5m56 0h5m23 0h5m147 0h5m88 0h5m74 0h5m6 0h5m-2 0h5m0 0h5m-1140 1h5m79 0h5m3 0h5m1 0h5m55 0h5m437 0h5m12 0h5m2 0h5m4 0h5m6 0h5m131 0h5m96 0h5m2 0h5m106 0h5m70 0h5m0 0h5m38 0h5m-1 0h5m-1133 1h5m1 0h5m-3 0h5m72 0h5m68 0h5m7 0h5m73 0h5m1 0h5m19 0h5m17 0h5m36 0h5m93 0h5m78 0h5m20 0h5m-4 0h5m78 0h5m51 0h5m14 0h5m-4 0h5m36 0h5m20 0h5m0 0h5m-3 0h5m85 0h5m135 0h5m2 0h5m10 0h5m92 0h5m8 0h5m-1151 1h5m15 0h5m-3 0h5m1 0h5m21 0h5m50 0h5m45 0h5m152 0h5m141 0h5m-2 0h5m30 0h5m57 0h5m1 0h5m99 0h5m23 0h5m7 0h5m0 0h5m59 0h5m4 0h5m7 0h5m222 0h5m8 0h5m81 0h5m-1130 1h5m70 0h5m26 0h5m78 0h5m73 0h5m3 0h5m12 0h5m18 0h5m25 0h5m92 0h5m5 0h5m-4 0h5m236 0h5m-3 0h5m5 0h5m65 0h5m7 0h5m-3 0h5m0 0h5m224 0h5m3 0h5m76 0h5m-3 0h5m8 0h5m-4 0h5m-3 0h5m-1141 1h5m-1 0h5m-4 0h5m72 0h5m13 0h5m-2 0h5m15 0h5m59 0h5m72 0h5m96 0h5m176 0h5m15 0h5m71 0h5m56 0h5m-1 0h5m-3 0h5m-1 0h5m-3 0h5m63 0h5m-1 0h5m-4 0h5m8 0h5m91 0h5m118 0h5m2 0h5m-3 0h5m7 0h5m30 0h5m36 0h5m-2 0h5m27 0h5m-1159 1h5m7 0h5m2 0h5m0 0h5m0 0h5m48 0h5m4 0h5m14 0h5m342 0h5m-4 0h5m-3 0h5m78 0h5m73 0h5m7 0h5m10 0h5m21 0h5m3 0h5m5 0h5m15 0h5m57 0h5m12 0h5m-4 0h5m108 0h5m28 0h5m101 0h5m87 0h5m8 0h5m-1128 1h5m52 0h5m14 0h5m37 0h5m119 0h5m115 0h5m54 0h5m-2 0h5m8 0h5m3 0h5m54 0h5m25 0h5m10 0h5m88 0h5m23 0h5m-4 0h5m0 0h5m-2 0h5m-2 0h5m1 0h5m18 0h5m39 0h5m-2 0h5m-4 0h5m0 0h5m58 0h5m17 0h5m-4 0h5m156 0h5m80 0h5m8 0h5m-2 0h5m-1130 1h5m6 0h5m-1 0h5m66 0h5m71 0h5m176 0h5m185 0h5m15 0h5m130 0h5m-2 0h5m-4 0h5m-1 0h5m-4 0h5m-4 0h5m-1 0h5m68 0h5m234 0h5m-4 0h5m3 0h5m23 0h5m40 0h5m18 0h5m-1115 1h5m5 0h5m60 0h5m12 0h5m47 0h5m5 0h5m66 0h5m175 0h5m26 0h5m83 0h5m69 0h5m71 0h5m16 0h5m-3 0h5m47 0h5m-2 0h5m-4 0h5m-2 0h5m2 0h5m3 0h5m65 0h5m256 0h5m5 0h5m-1123 1h5m1 0h5m-1 0h5m79 0h5m83 0h5m24 0h5m-3 0h5m3 0h5m65 0h5m118 0h5m16 0h5m3 0h5m-1 0h5m-1 0h5m131 0h5m9 0h5m5 0h5m65 0h5m2 0h5m-2 0h5m5 0h5m56 0h5m102 0h5m99 0h5m126 0h5m17 0h5m7 0h5m-3 0h5m-1146 1h5m-2 0h5m5 0h5m82 0h5m53 0h5m0 0h5m5 0h5m157 0h5m2 0h5m30 0h5m228 0h5m66 0h5m-3 0h5m5 0h5m-2 0h5m3 0h5m69 0h5m10 0h5m64 0h5m148 0h5m39 0h5m64 0h5m-1153 1h5m12 0h5m6 0h5m-3 0h5m57 0h5m7 0h5m-3 0h5m2 0h5m3 0h5m40 0h5m-2 0h5m4 0h5m5 0h5m6 0h5m76 0h5m-4 0h5m91 0h5m88 0h5m0 0h5m-4 0h5m-3 0h5m78 0h5m84 0h5m3 0h5m45 0h5m-1 0h5m4 0h5m-2 0h5m65 0h5m8 0h5m173 0h5m33 0h5m18 0h5m19 0h5m62 0h5m-1124 1h5m4 0h5m81 0h5m60 0h5m15 0h5m42 0h5m106 0h5m97 0h5m17 0h5m143 0h5m-3 0h5m-3 0h5m62 0h5m-2 0h5m4 0h5m0 0h5m70 0h5m4 0h5m77 0h5m-2 0h5m77 0h5m51 0h5m5 0h5m80 0h5m10 0h5m-2 0h5m11 0h5m-1147 1h5m-1 0h5m1 0h5m63 0h5m78 0h5m-1 0h5m25 0h5m4 0h5m113 0h5m5 0h5m101 0h5m162 0h5m1 0h5m25 0h5m49 0h5m1 0h5m-2 0h5m1 0h5m75 0h5m2 0h5m0 0h5m74 0h5m70 0h5m49 0h5m2 0h5m16 0h5m76 0h5m-1133 1h5m4 0h5m3 0h5m89 0h5m57 0h5m11 0h5m68 0h5m80 0h5m1 0h5m-1 0h5m2 0h5m23 0h5m10 0h5m49 0h5m67 0h5m93 0h5m65 0h5m15 0h5m20 0h5m31 0h5m5 0h5m-4 0h5m22 0h5m141 0h5m76 0h5m10 0h5m60 0h5m14 0h5m-3 0h5m-2 0h5m-1148 1h5m2 0h5m4 0h5m27 0h5m28 0h5m10 0h5m68 0h5m87 0h5m-1 0h5m11 0h5m68 0h5m-1 0h5m-3 0h5m0 0h5m-4 0h5m176 0h5m48 0h5m-1 0h5m86 0h5m3 0h5m2 0h5m67 0h5m-4 0h5m1 0h5m6 0h5m12 0h5m50 0h5m82 0h5m56 0h5m12 0h5m19 0h5m77 0h5m-1155 1h5m25 0h5m54 0h5m16 0h5m-3 0h5m44 0h5m21 0h5m-1 0h5m190 0h5m77 0h5m222 0h5m7 0h5m8 0h5m52 0h5m-3 0h5m-2 0h5m8 0h5m3 0h5m65 0h5m2 0h5m59 0h5m91 0h5m77 0h5m8 0h5m-1130 1h5m-2 0h5m0 0h5m-2 0h5m7 0h5m57 0h5m66 0h5m8 0h5m-3 0h5m-2 0h5m161 0h5m7 0h5m8 0h5m43 0h5m50 0h5m76 0h5m134 0h5m8 0h5m65 0h5m10 0h5m-3 0h5m0 0h5m3 0h5m11 0h5m202 0h5m11 0h5m32 0h5m38 0h5m7 0h5m-4 0h5m5 0h5m-1151 1h5m3 0h5m8 0h5m-1 0h5m59 0h5m-2 0h5m51 0h5m-1 0h5m90 0h5m-2 0h5m6 0h5m8 0h5m74 0h5m98 0h5m114 0h5m-2 0h5m32 0h5m5 0h5m65 0h5m4 0h5m-4 0h5m-3 0h5m78 0h5m-1 0h5m319 0h5m5 0h5m14 0h5m-1155 1h5m-1 0h5m10 0h5m2 0h5m75 0h5m75 0h5m34 0h5m123 0h5m117 0h5m86 0h5m41 0h5m70 0h5m8 0h5m-4 0h5m4 0h5m64 0h5m6 0h5m71 0h5m200 0h5m59 0h5m4 0h5m-3 0h5m-1146 1h5m0 0h5m-2 0h5m-4 0h5m-3 0h5m-2 0h5m-1 0h5m-4 0h5m-3 0h5m-3 0h5m-4 0h5m44 0h5m2 0h5m-2 0h5m-1 0h5m-1 0h5m5 0h5m51 0h5m81 0h5m-1 0h5m9 0h5m82 0h5m1 0h5m87 0h5m-1 0h5m15 0h5m56 0h5m149 0h5m2 0h5m6 0h5m2 0h5m147 0h5m-1 0h5m156 0h5m-2 0h5m43 0h5m45 0h5m-1137 1h5m5 0h5m87 0h5m2 0h5m5 0h5m0 0h5m44 0h5m-3 0h5m-4 0h5m113 0h5m20 0h5m112 0h5m-1 0h5m9 0h5m87 0h5m66 0h5m7 0h5m60 0h5m-2 0h5m-3 0h5m2 0h5m-2 0h5m60 0h5m14 0h5m0 0h5m75 0h5m44 0h5m102 0h5m77 0h5m-1120 1h5m2 0h5m3 0h5m-4 0h5m-1 0h5m34 0h5m45 0h5m0 0h5m50 0h5m12 0h5m49 0h5m87 0h5m0 0h5m106 0h5m147 0h5m24 0h5m1 0h5m-2 0h5m50 0h5m2 0h5m-1 0h5m-4 0h5m70 0h5m15 0h5m179 0h5m5 0h5m127 0h5m5 0h5m-1 0h5m-1148 1h5m-1 0h5m5 0h5m71 0h5m2 0h5m-4 0h5m12 0h5m73 0h5m59 0h5m-3 0h5m62 0h5m22 0h5m8 0h5m76 0h5m78 0h5m17 0h5m24 0h5m29 0h5m19 0h5m7 0h5m38 0h5m1 0h5m-4 0h5m2 0h5m1 0h5m60 0h5m16 0h5m142 0h5m100 0h5m67 0h5m0 0h5m-3 0h5m-3 0h5m-1133 1h5m-4 0h5m2 0h5m-4 0h5m10 0h5m43 0h5m4 0h5m27 0h5m-4 0h5m43 0h5m15 0h5m9 0h5m23 0h5m207 0h5m22 0h5m84 0h5m15 0h5m28 0h5m84 0h5m-4 0h5m0 0h5m-3 0h5m4 0h5m55 0h5m7 0h5m-2 0h5m-3 0h5m8 0h5m76 0h5m140 0h5m36 0h5m44 0h5m0 0h5m7 0h5m-3 0h5m-3 0h5m-1145 1h5m1 0h5m10 0h5m-3 0h5m42 0h5m8 0h5m84 0h5m-2 0h5m5 0h5m0 0h5m16 0h5m123 0h5m1 0h5m93 0h5m4 0h5m20 0h5m90 0h5m25 0h5m25 0h5m6 0h5m8 0h5m34 0h5m-3 0h5m-1 0h5m88 0h5m127 0h5m206 0h5m3 0h5m-1145 1h5m2 0h5m-3 0h5m5 0h5m71 0h5m0 0h5m-2 0h5m2 0h5m49 0h5m1 0h5m-4 0h5m5 0h5m91 0h5m147 0h5m57 0h5m152 0h5m35 0h5m-1 0h5m0 0h5m-3 0h5m69 0h5m7 0h5m-4 0h5m8 0h5m55 0h5m23 0h5m118 0h5m22 0h5m-4 0h5m69 0h5m-3 0h5m1 0h5m4 0h5m2 0h5m-1145 1h5m0 0h5m1 0h5m2 0h5m25 0h5m18 0h5m17 0h5m-2 0h5m7 0h5m7 0h5m81 0h5m123 0h5m19 0h5m56 0h5m17 0h5m8 0h5m12 0h5m54 0h5m16 0h5m79 0h5m30 0h5m19 0h5m8 0h5m75 0h5m-2 0h5m-1 0h5m-3 0h5m-3 0h5m-4 0h5m30 0h5m74 0h5m111 0h5m1 0h5m-3 0h5m-2 0h5m59 0h5m-1097 1h5m139 0h5m28 0h5m58 0h5m184 0h5m-1 0h5m3 0h5m-1 0h5m4 0h5m132 0h5m90 0h5m-3 0h5m-3 0h5m-1 0h5m-3 0h5m-1 0h5m52 0h5m1 0h5m-2 0h5m53 0h5m190 0h5m94 0h5m-1133 1h5m-3 0h5m-4 0h5m-2 0h5m-4 0h5m-2 0h5m5 0h5m51 0h5m0 0h5m8 0h5m68 0h5m5 0h5m19 0h5m248 0h5m-1 0h5m92 0h5m-2 0h5m67 0h5m58 0h5m4 0h5m2 0h5m156 0h5m79 0h5m163 0h5m-4 0h5m-1129 1h5m5 0h5m75 0h5m5 0h5m-1 0h5m12 0h5m56 0h5m61 0h5m64 0h5m120 0h5m17 0h5m121 0h5m0 0h5m16 0h5m53 0h5m11 0h5m12 0h5m-4 0h5m-1 0h5m78 0h5m57 0h5m273 0h5m-1132 1h5m9 0h5m58 0h5m3 0h5m42 0h5m6 0h5m14 0h5m92 0h5m66 0h5m4 0h5m26 0h5m67 0h5m100 0h5m49 0h5m15 0h5m50 0h5m-1 0h5m9 0h5m-2 0h5m-4 0h5m-2 0h5m57 0h5m8 0h5m7 0h5m-1 0h5m24 0h5m25 0h5m30 0h5m126 0h5m96 0h5m4 0h5m-2 0h5m-3 0h5m-1130 1h5m2 0h5m0 0h5m53 0h5m17 0h5m-3 0h5m2 0h5m68 0h5m355 0h5m2 0h5m1 0h5m9 0h5m51 0h5m67 0h5m-1 0h5m-2 0h5m66 0h5m0 0h5m24 0h5m81 0h5m113 0h5m1 0h5m17 0h5m21 0h5m64 0h5m-1146 1h5m-2 0h5m2 0h5m9 0h5m57 0h5m-2 0h5m62 0h5m-4 0h5m88 0h5m8 0h5m68 0h5m3 0h5m10 0h5m38 0h5m25 0h5m130 0h5m41 0h5m21 0h5m46 0h5m15 0h5m-4 0h5m0 0h5m66 0h5m28 0h5m55 0h5m21 0h5m64 0h5m51 0h5m83 0h5m15 0h5m-1148 1h5m0 0h5m15 0h5m70 0h5m-2 0h5m52 0h5m5 0h5m0 0h5m2 0h5m72 0h5m88 0h5m-2 0h5m45 0h5m32 0h5m10 0h5m3 0h5m78 0h5m8 0h5m64 0h5m35 0h5m24 0h5m-4 0h5m-2 0h5m331 0h5m-1 0h5m81 0h5m12 0h5m-1151 1h5m-2 0h5m-4 0h5m60 0h5m29 0h5m1 0h5m9 0h5m128 0h5m1 0h5m13 0h5m27 0h5m41 0h5m51 0h5m28 0h5m4 0h5m33 0h5m46 0h5m21 0h5m118 0h5m18 0h5m49 0h5m-3 0h5m-4 0h5m1 0h5m1 0h5m2 0h5m5 0h5m232 0h5m41 0h5m29 0h5m18 0h5m-1143 1h5m3 0h5m3 0h5m2 0h5m31 0h5m17 0h5m2 0h5m66 0h5m-2 0h5m106 0h5m69 0h5m68 0h5m48 0h5m83 0h5m109 0h5m5 0h5m1 0h5m-3 0h5m0 0h5m92 0h5m-2 0h5m-2 0h5m99 0h5m122 0h5m73 0h5m20 0h5m-1146 1h5m4 0h5m-2 0h5m1 0h5m3 0h5m32 0h5m23 0h5m7 0h5m81 0h5m0 0h5m15 0h5m230 0h5m-2 0h5m-2 0h5m2 0h5m117 0h5m6 0h5m25 0h5m0 0h5m2 0h5m52 0h5m2 0h5m-2 0h5m-2 0h5m2 0h5m49 0h5m3 0h5m36 0h5m217 0h5m72 0h5m11 0h5m-4 0h5m-1131 1h5m2 0h5m-3 0h5m0 0h5m3 0h5m52 0h5m3 0h5m0 0h5m146 0h5m1 0h5m68 0h5m32 0h5m100 0h5m64 0h5m21 0h5m42 0h5m76 0h5m11 0h5m64 0h5m17 0h5m21 0h5m208 0h5m97 0h5m-1147 1h5m4 0h5m12 0h5m-3 0h5m195 0h5m115 0h5m9 0h5m50 0h5m28 0h5m-1 0h5m36 0h5m197 0h5m124 0h5m71 0h5m124 0h5m102 0h5m1 0h5m1 0h5m-1152 1h5m-2 0h5m-4 0h5m2 0h5m-4 0h5m-4 0h5m6 0h5m53 0h5m80 0h5m93 0h5m55 0h5m4 0h5m104 0h5m5 0h5m232 0h5m-1 0h5m1 0h5m-4 0h5m-2 0h5m87 0h5m48 0h5m14 0h5m46 0h5m3 0h5m70 0h5m24 0h5m88 0h5m6 0h5m3 0h5m-4 0h5m-1147 1h5m-4 0h5m1 0h5m-2 0h5m-4 0h5m-4 0h5m75 0h5m6 0h5m61 0h5m62 0h5m7 0h5m178 0h5m169 0h5m1 0h5m-2 0h5m-3 0h5m-4 0h5m20 0h5m26 0h5m7 0h5m-4 0h5m6 0h5m-4 0h5m0 0h5m-2 0h5m-3 0h5m-2 0h5m57 0h5m-4 0h5m15 0h5m43 0h5m36 0h5m238 0h5m-4 0h5m6 0h5m-1143 1h5m2 0h5m-3 0h5m-4 0h5m2 0h5m67 0h5m0 0h5m4 0h5m55 0h5m6 0h5m8 0h5m134 0h5m18 0h5m63 0h5m38 0h5m2 0h5m9 0h5m75 0h5m31 0h5m15 0h5m19 0h5m46 0h5m-4 0h5m4 0h5m1 0h5m64 0h5m99 0h5m48 0h5m76 0h5m92 0h5m2 0h5m7 0h5m-3 0h5m6 0h5m-3 0h5m-1153 1h5m-3 0h5m11 0h5m25 0h5m42 0h5m10 0h5m44 0h5m25 0h5m94 0h5m132 0h5m34 0h5m5 0h5m192 0h5m16 0h5m10 0h5m-1 0h5m56 0h5m39 0h5m28 0h5m209 0h5m44 0h5m-1116 1h5m5 0h5m62 0h5m9 0h5m2 0h5m51 0h5m4 0h5m7 0h5m103 0h5m43 0h5m28 0h5m71 0h5m8 0h5m138 0h5m30 0h5m57 0h5m5 0h5m-4 0h5m2 0h5m109 0h5m31 0h5m183 0h5m63 0h5m-2 0h5m-4 0h5m3 0h5m2 0h5m-1136 1h5m-2 0h5m3 0h5m63 0h5m2 0h5m5 0h5m55 0h5m-1 0h5m3 0h5m66 0h5m48 0h5m22 0h5m47 0h5m41 0h5m16 0h5m4 0h5m-4 0h5m-3 0h5m-3 0h5m28 0h5m101 0h5m22 0h5m69 0h5m69 0h5m22 0h5m141 0h5m74 0h5m2 0h5m89 0h5m-3 0h5m-1123 1h5m0 0h5m-4 0h5m-2 0h5m62 0h5m14 0h5m65 0h5m13 0h5m141 0h5m74 0h5m7 0h5m5 0h5m19 0h5m77 0h5m-2 0h5m4 0h5m55 0h5m36 0h5m38 0h5m63 0h5m1 0h5m0 0h5m-3 0h5m225 0h5m15 0h5m41 0h5m1 0h5m35 0h5m-1 0h5m-4 0h5m-1132 1h5m5 0h5m83 0h5m5 0h5m183 0h5m42 0h5m101 0h5m84 0h5m1 0h5m-4 0h5m56 0h5m7 0h5m6 0h5m74 0h5m62 0h5m6 0h5m29 0h5m61 0h5m6 0h5m189 0h5m43 0h5m-4 0h5m-1146 1h5m81 0h5m2 0h5m23 0h5m36 0h5m140 0h5m30 0h5m2 0h5m3 0h5m93 0h5m-1 0h5m33 0h5m43 0h5m-2 0h5m25 0h5m55 0h5m-1 0h5m63 0h5m-4 0h5m65 0h5m12 0h5m11 0h5m42 0h5m-2 0h5m5 0h5m3 0h5m14 0h5m15 0h5m79 0h5m37 0h5m47 0h5m26 0h5m-2 0h5m-1141 1h5m-3 0h5m4 0h5m-4 0h5m10 0h5m52 0h5m103 0h5m27 0h5m-3 0h5m29 0h5m67 0h5m10 0h5m8 0h5m53 0h5m10 0h5m8 0h5m4 0h5m0 0h5m11 0h5m73 0h5m3 0h5m144 0h5m-3 0h5m60 0h5m15 0h5m-4 0h5m63 0h5m2 0h5m-1 0h5m153 0h5m-1 0h5m-2 0h5m77 0h5m19 0h5m-1156 1h5m-2 0h5m23 0h5m41 0h5m3 0h5m1 0h5m78 0h5m-2 0h5m186 0h5m85 0h5m6 0h5m103 0h5m99 0h5m15 0h5m-1 0h5m68 0h5m90 0h5m111 0h5m42 0h5m14 0h5m56 0h5m2 0h5m-1124 1h5m5 0h5m-4 0h5m-2 0h5m4 0h5m120 0h5m2 0h5m2 0h5m10 0h5m-4 0h5m8 0h5m23 0h5m111 0h5m-2 0h5m21 0h5m7 0h5m71 0h5m53 0h5m106 0h5m54 0h5m3 0h5m-3 0h5m5 0h5m76 0h5m4 0h5m93 0h5m123 0h5m102 0h5m0 0h5m2 0h5m-1 0h5m-1 0h5m-1137 1h5m66 0h5m7 0h5m-1 0h5m-3 0h5m3 0h5m45 0h5m54 0h5m228 0h5m-3 0h5m-1 0h5m16 0h5m143 0h5m68 0h5m-2 0h5m0 0h5m81 0h5m72 0h5m151 0h5m76 0h5m9 0h5m-3 0h5m0 0h5m-1137 1h5m-4 0h5m3 0h5m5 0h5m2 0h5m56 0h5m2 0h5m-4 0h5m22 0h5m35 0h5m22 0h5m67 0h5m11 0h5m68 0h5m25 0h5m12 0h5m-1 0h5m158 0h5m47 0h5m-4 0h5m9 0h5m69 0h5m1 0h5m-1 0h5m65 0h5m243 0h5m31 0h5m44 0h5m-3 0h5m23 0h5m-1151 1h5m5 0h5m-1 0h5m-3 0h5m-3 0h5m52 0h5m2 0h5m-3 0h5m3 0h5m-1 0h5m16 0h5m-4 0h5m52 0h5m78 0h5m67 0h5m20 0h5m-4 0h5m189 0h5m3 0h5m137 0h5m1 0h5m2 0h5m73 0h5m-2 0h5m48 0h5m105 0h5m107 0h5m45 0h5m-3 0h5m-1112 1h5m3 0h5m16 0h5m25 0h5m15 0h5m5 0h5m53 0h5m7 0h5m1 0h5m153 0h5m103 0h5m-2 0h5m3 0h5m-3 0h5m73 0h5m12 0h5m3 0h5m33 0h5m96 0h5m1 0h5m-3 0h5m-1 0h5m74 0h5m228 0h5m-1027 1h5m-2 0h5m3 0h5m-3 0h5m-2 0h5m88 0h5m54 0h5m5 0h5m25 0h5m98 0h5m46 0h5m19 0h5m184 0h5m5 0h5m52 0h5m47 0h5m-3 0h5m1 0h5m5 0h5m58 0h5m-1 0h5m260 0h5m56 0h5m3 0h5m-1 0h5m0 0h5m-1 0h5m-2 0h5m-2 0h5m-3 0h5m-1147 1h5m1 0h5m10 0h5m-3 0h5m-1 0h5m-3 0h5m61 0h5m-1 0h5m-1 0h5m157 0h5m70 0h5m281 0h5m71 0h5m-1 0h5m72 0h5m10 0h5m3 0h5m-1 0h5m152 0h5m28 0h5m32 0h5m4 0h5m9 0h5m73 0h5m-1136 1h5m10 0h5m5 0h5m41 0h5m17 0h5m26 0h5m53 0h5m5 0h5m2 0h5m43 0h5m10 0h5m91 0h5m123 0h5m64 0h5m7 0h5m45 0h5m77 0h5m-1 0h5m-2 0h5m-2 0h5m28 0h5m32 0h5m144 0h5m43 0h5m26 0h5m5 0h5m11 0h5m79 0h5m15 0h5m-4 0h5m-1136 1h5m73 0h5m6 0h5m-2 0h5m64 0h5m6 0h5m61 0h5m2 0h5m6 0h5m2 0h5m0 0h5m167 0h5m5 0h5m85 0h5m9 0h5m2 0h5m56 0h5m42 0h5m12 0h5m4 0h5m93 0h5m58 0h5m1 0h5m2 0h5m44 0h5m75 0h5m10 0h5m115 0h5m-1144 1h5m-2 0h5m4 0h5m0 0h5m3 0h5m15 0h5m46 0h5m65 0h5m-4 0h5m1 0h5m3 0h5m73 0h5m18 0h5m112 0h5m32 0h5m14 0h5m94 0h5m12 0h5m49 0h5m67 0h5m2 0h5m6 0h5m23 0h5m-2 0h5m27 0h5m5 0h5m3 0h5m80 0h5m-2 0h5m224 0h5m8 0h5m16 0h5m-1145 1h5m0 0h5m60 0h5m19 0h5m43 0h5m19 0h5m68 0h5m44 0h5m22 0h5m17 0h5m4 0h5m-4 0h5m85 0h5m17 0h5m33 0h5m32 0h5m53 0h5m13 0h5m82 0h5m0 0h5m-4 0h5m65 0h5m16 0h5m74 0h5m14 0h5m213 0h5m10 0h5m-4 0h5m-3 0h5m-1142 1h5m3 0h5m3 0h5m1 0h5m3 0h5m57 0h5m18 0h5m50 0h5m4 0h5m72 0h5m186 0h5m113 0h5m33 0h5m13 0h5m-1 0h5m76 0h5m-4 0h5m-3 0h5m7 0h5m47 0h5m0 0h5m-1 0h5m6 0h5m3 0h5m-4 0h5m72 0h5m3 0h5m16 0h5m17 0h5m89 0h5m17 0h5m67 0h5m-1 0h5m19 0h5m-1153 1h5m2 0h5m3 0h5m-3 0h5m3 0h5m56 0h5m1 0h5m165 0h5m27 0h5m48 0h5m-4 0h5m0 0h5m92 0h5m31 0h5m65 0h5m142 0h5m162 0h5m125 0h5m19 0h5m15 0h5m85 0h5m-3 0h5m1 0h5m5 0h5m-1154 1h5m7 0h5m-4 0h5m6 0h5m-4 0h5m46 0h5m89 0h5m212 0h5m52 0h5m69 0h5m53 0h5m44 0h5m61 0h5m-4 0h5m-2 0h5m99 0h5m67 0h5m21 0h5m62 0h5m11 0h5m42 0h5m61 0h5m6 0h5m12 0h5m-3 0h5m15 0h5m-4 0h5m-1136 1h5m-3 0h5m35 0h5m43 0h5m155 0h5m76 0h5m45 0h5m61 0h5m33 0h5m59 0h5m134 0h5m-3 0h5m-2 0h5m0 0h5m0 0h5m24 0h5m30 0h5m13 0h5m48 0h5m15 0h5m115 0h5m99 0h5m36 0h5m-1142 1h5m9 0h5m152 0h5m12 0h5m147 0h5m98 0h5m7 0h5m-3 0h5m138 0h5m92 0h5m9 0h5m46 0h5m6 0h5m24 0h5m316 0h5m-2 0h5m-3 0h5m1 0h5m-1138 1h5m-2 0h5m-1 0h5m-1 0h5m2 0h5m-1 0h5m63 0h5m8 0h5m3 0h5m62 0h5m1 0h5m158 0h5m80 0h5m73 0h5m84 0h5m67 0h5m13 0h5m1 0h5m8 0h5m-4 0h5m63 0h5m222 0h5m29 0h5m73 0h5m0 0h5m14 0h5m-3 0h5m-3 0h5m-1150 1h5m11 0h5m3 0h5m6 0h5m-4 0h5m48 0h5m-2 0h5m12 0h5m0 0h5m15 0h5m122 0h5m56 0h5m11 0h5m2 0h5m101 0h5m14 0h5m58 0h5m35 0h5m61 0h5m53 0h5m-1 0h5m-3 0h5m0 0h5m2 0h5m-4 0h5m195 0h5m114 0h5m10 0h5m69 0h5m-4 0h5m-1130 1h5m-2 0h5m-2 0h5m-2 0h5m-1 0h5m-4 0h5m-3 0h5m-2 0h5m47 0h5m-4 0h5m10 0h5m13 0h5m-4 0h5m71 0h5m39 0h5m74 0h5m32 0h5m21 0h5m34 0h5m40 0h5m-2 0h5m144 0h5m45 0h5m41 0h5m-4 0h5m3 0h5m-3 0h5m142 0h5m23 0h5m141 0h5m-2 0h5m46 0h5m29 0h5m17 0h5m-1144 1h5m0 0h5m5 0h5m6 0h5m2 0h5m40 0h5m63 0h5m16 0h5m1 0h5m149 0h5m89 0h5m197 0h5m4 0h5m16 0h5m-1 0h5m44 0h5m2 0h5m50 0h5m0 0h5m8 0h5m6 0h5m79 0h5m124 0h5m1 0h5m2 0h5m93 0h5m-4 0h5m14 0h5m-1045 1h5m0 0h5m-2 0h5m-3 0h5m39 0h5m15 0h5m6 0h5m68 0h5m190 0h5m12 0h5m48 0h5m16 0h5m-3 0h5m76 0h5m61 0h5m-3 0h5m1 0h5m-4 0h5m7 0h5m-4 0h5m39 0h5m8 0h5m13 0h5m-1 0h5m63 0h5m120 0h5m6 0h5m26 0h5m1 0h5m14 0h5m69 0h5m-1132 1h5m0 0h5m3 0h5m3 0h5m63 0h5m69 0h5m-2 0h5m-3 0h5m6 0h5m-4 0h5m153 0h5m10 0h5m76 0h5m15 0h5m102 0h5m122 0h5m0 0h5m11 0h5m44 0h5m2 0h5m14 0h5m241 0h5m89 0h5m1 0h5m-3 0h5m-4 0h5m3 0h5m-1137 1h5m3 0h5m-4 0h5m67 0h5m5 0h5m-1 0h5m0 0h5m-2 0h5m23 0h5m-3 0h5m17 0h5m43 0h5m42 0h5m35 0h5m109 0h5m0 0h5m29 0h5m94 0h5m-1 0h5m129 0h5m-3 0h5m-1 0h5m-1 0h5m-4 0h5m-3 0h5m63 0h5m2 0h5m4 0h5m0 0h5m-2 0h5m54 0h5m14 0h5m1 0h5m94 0h5m29 0h5m16 0h5m82 0h5m-4 0h5m9 0h5m-1145 1h5m0 0h5m-2 0h5m9 0h5m63 0h5m87 0h5m29 0h5m240 0h5m41 0h5m56 0h5m3 0h5m113 0h5m-1 0h5m3 0h5m76 0h5m7 0h5m2 0h5m71 0h5m12 0h5m206 0h5m12 0h5m7 0h5m-1137 1h5m-4 0h5m91 0h5m65 0h5m269 0h5m-2 0h5m9 0h5m3 0h5m1 0h5m49 0h5m7 0h5m7 0h5m43 0h5m89 0h5m4 0h5m4 0h5m58 0h5m-2 0h5m82 0h5m7 0h5m132 0h5m-2 0h5m96 0h5m-4 0h5m18 0h5m-1152 1h5m2 0h5m2 0h5m1 0h5m1 0h5m-2 0h5m19 0h5m39 0h5m-2 0h5m4 0h5m60 0h5m20 0h5m46 0h5m15 0h5m67 0h5m306 0h5m1 0h5m49 0h5m53 0h5m18 0h5m80 0h5m127 0h5m25 0h5m105 0h5m-1135 1h5m50 0h5m0 0h5m10 0h5m19 0h5m20 0h5m12 0h5m247 0h5m17 0h5m71 0h5m15 0h5m72 0h5m34 0h5m8 0h5m30 0h5m-2 0h5m6 0h5m-4 0h5m0 0h5m59 0h5m2 0h5m7 0h5m74 0h5m82 0h5m39 0h5m-4 0h5m111 0h5m4 0h5m2 0h5m-1133 1h5m82 0h5m31 0h5m37 0h5m2 0h5m-3 0h5m358 0h5m68 0h5m0 0h5m54 0h5m22 0h5m-4 0h5m58 0h5m5 0h5m4 0h5m1 0h5m80 0h5m54 0h5m67 0h5m-1 0h5m14 0h5m2 0h5m83 0h5m4 0h5m-1151 1h5m1 0h5m1 0h5m7 0h5m2 0h5m37 0h5m-3 0h5m34 0h5m26 0h5m36 0h5m15 0h5m37 0h5m90 0h5m30 0h5m49 0h5m5 0h5m10 0h5m6 0h5m-1 0h5m25 0h5m14 0h5m29 0h5m52 0h5m12 0h5m82 0h5m79 0h5m14 0h5m21 0h5m43 0h5m122 0h5m10 0h5m1 0h5m8 0h5m-1061 1h5m4 0h5m4 0h5m-2 0h5m-3 0h5m1 0h5m84 0h5m47 0h5m11 0h5m30 0h5m24 0h5m111 0h5m85 0h5m-2 0h5m5 0h5m77 0h5m-1 0h5m47 0h5m18 0h5m57 0h5m-3 0h5m99 0h5m-1 0h5m67 0h5m24 0h5m41 0h5m92 0h5m89 0h5m-1142 1h5m3 0h5m13 0h5m226 0h5m82 0h5m15 0h5m-2 0h5m10 0h5m40 0h5m19 0h5m-3 0h5m142 0h5m10 0h5m11 0h5m8 0h5m41 0h5m86 0h5m5 0h5m-4 0h5m79 0h5m-3 0h5m75 0h5m39 0h5m30 0h5m77 0h5m-1 0h5m2 0h5m7 0h5m0 0h5m-1153 1h5m-1 0h5m15 0h5m74 0h5m68 0h5m1 0h5m2 0h5m57 0h5m42 0h5m62 0h5m97 0h5m3 0h5m82 0h5m27 0h5m25 0h5m67 0h5m-3 0h5m-2 0h5m8 0h5m-4 0h5m36 0h5m30 0h5m8 0h5m53 0h5m115 0h5m45 0h5m62 0h5m8 0h5m6 0h5m0 0h5m-3 0h5m-1112 1h5m53 0h5m15 0h5m6 0h5m62 0h5m40 0h5m7 0h5m39 0h5m77 0h5m33 0h5m220 0h5m5 0h5m55 0h5m-4 0h5m0 0h5m2 0h5m-1 0h5m30 0h5m23 0h5m-3 0h5m17 0h5m0 0h5m35 0h5m0 0h5m167 0h5m97 0h5m7 0h5m6 0h5m-1150 1h5m0 0h5m-3 0h5m11 0h5m49 0h5m14 0h5m-3 0h5m-3 0h5m58 0h5m28 0h5m489 0h5m4 0h5m7 0h5m-1 0h5m32 0h5m20 0h5m91 0h5m239 0h5m5 0h5m15 0h5m-1150 1h5m153 0h5m176 0h5m22 0h5m47 0h5m27 0h5m-3 0h5m85 0h5m0 0h5m53 0h5m4 0h5m-3 0h5m77 0h5m-4 0h5m34 0h5m31 0h5m-2 0h5m165 0h5m8 0h5m63 0h5m-1027 1h5m15 0h5m-4 0h5m49 0h5m-3 0h5m71 0h5m-3 0h5m169 0h5m51 0h5m1 0h5m4 0h5m8 0h5m-1 0h5m26 0h5m5 0h5m146 0h5m26 0h5m37 0h5m9 0h5m-4 0h5m-2 0h5m-3 0h5m-4 0h5m-3 0h5m19 0h5m17 0h5m18 0h5m2 0h5m-1 0h5m21 0h5m53 0h5m56 0h5m46 0h5m36 0h5m84 0h5m3 0h5m-1116 1h5m-2 0h5m67 0h5m-2 0h5m12 0h5m43 0h5m5 0h5m-4 0h5m1 0h5m39 0h5m37 0h5m77 0h5m-4 0h5m102 0h5m5 0h5m-1 0h5m19 0h5m63 0h5m51 0h5m19 0h5m28 0h5m22 0h5m-4 0h5m6 0h5m30 0h5m21 0h5m-2 0h5m2 0h5m14 0h5m24 0h5m206 0h5m73 0h5m-1 0h5m1 0h5m-1135 1h5m1 0h5m3 0h5m-4 0h5m-4 0h5m63 0h5m7 0h5m67 0h5m55 0h5m48 0h5m-2 0h5m340 0h5m19 0h5m41 0h5m-3 0h5m0 0h5m0 0h5m-4 0h5m-3 0h5m59 0h5m0 0h5m-1 0h5m-3 0h5m-2 0h5m-4 0h5m88 0h5m131 0h5m-3 0h5m-4 0h5m93 0h5m4 0h5m-1137 1h5m1 0h5m2 0h5m0 0h5m81 0h5m24 0h5m30 0h5m-4 0h5m-2 0h5m176 0h5m0 0h5m89 0h5m49 0h5m37 0h5m78 0h5m7 0h5m144 0h5m8 0h5m63 0h5m1 0h5m24 0h5m173 0h5m53 0h5m-3 0h5m-1140 1h5m12 0h5m48 0h5m0 0h5m-4 0h5m0 0h5m10 0h5m-2 0h5m6 0h5m21 0h5m0 0h5m36 0h5m70 0h5m61 0h5m103 0h5m3 0h5m103 0h5m65 0h5m34 0h5m-2 0h5m22 0h5m-4 0h5m-4 0h5m-3 0h5m1 0h5m1 0h5m1 0h5m-1 0h5m67 0h5m11 0h5m74 0h5m19 0h5m-4 0h5m5 0h5m185 0h5m20 0h5m-1137 1h5m-4 0h5m-3 0h5m7 0h5m60 0h5m12 0h5m269 0h5m18 0h5m12 0h5m20 0h5m161 0h5m73 0h5m6 0h5m-3 0h5m11 0h5m-2 0h5m-4 0h5m18 0h5m31 0h5m0 0h5m150 0h5m23 0h5m145 0h5m4 0h5m14 0h5m-3 0h5m-1145 1h5m4 0h5m3 0h5m-2 0h5m49 0h5m4 0h5m12 0h5m56 0h5m228 0h5m48 0h5m5 0h5m120 0h5m2 0h5m25 0h5m74 0h5m-4 0h5m72 0h5m11 0h5m228 0h5m82 0h5m-3 0h5m8 0h5m0 0h5m-3 0h5m-1147 1h5m83 0h5m-3 0h5m1 0h5m63 0h5m2 0h5m7 0h5m3 0h5m65 0h5m-1 0h5m-2 0h5m-4 0h5m79 0h5m98 0h5m5 0h5m0 0h5m23 0h5m51 0h5m47 0h5m9 0h5m11 0h5m50 0h5m-1 0h5m-1 0h5m4 0h5m34 0h5m37 0h5m70 0h5m10 0h5m30 0h5m12 0h5m208 0h5m-1141 1h5m5 0h5m-4 0h5m-4 0h5m0 0h5m56 0h5m32 0h5m134 0h5m4 0h5m25 0h5m78 0h5m0 0h5m6 0h5m32 0h5m41 0h5m111 0h5m16 0h5m74 0h5m-2 0h5m-4 0h5m-1 0h5m-4 0h5m2 0h5m56 0h5m5 0h5m-3 0h5m-4 0h5m4 0h5m-794 1h5m-2 0h5m-4 0h5m37 0h5m99 0h5m5 0h5m58 0h5m101 0h5m21 0h5m33 0h5m48 0h5m88 0h5m3 0h5m1 0h5m29 0h5m9 0h5m-4 0h5m-2 0h5m13 0h5m22 0h5m33 0h5m1 0h5m-2 0h5m-3 0h5m4 0h5m226 0h5m166 0h5m-1 0h5m1 0h5m-3 0h5m2 0h5m-1133 1h5m11 0h5m51 0h5m-1 0h5m83 0h5m150 0h5m10 0h5m-1 0h5m123 0h5m50 0h5m13 0h5m55 0h5m2 0h5m68 0h5m-3 0h5m5 0h5m2 0h5m4 0h5m1 0h5m336 0h5m65 0h5m-1127 1h5m-3 0h5m6 0h5m56 0h5m7 0h5m3 0h5m33 0h5m35 0h5m122 0h5m17 0h5m14 0h5m-3 0h5m2 0h5m107 0h5m146 0h5m70 0h5m72 0h5m-3 0h5m130 0h5m126 0h5m77 0h5m-4 0h5m-1 0h5m-4 0h5m-2 0h5m-1124 1h5m4 0h5m81 0h5m2 0h5m45 0h5m78 0h5m3 0h5m79 0h5m-2 0h5m7 0h5m95 0h5m-1 0h5m24 0h5m64 0h5m34 0h5m21 0h5m-2 0h5m65 0h5m97 0h5m132 0h5m168 0h5m0 0h5m5 0h5m-3 0h5m5 0h5m-2 0h5m-1140 1h5m6 0h5m27 0h5m18 0h5m10 0h5m8 0h5m232 0h5m9 0h5m9 0h5m57 0h5m15 0h5m2 0h5m-3 0h5m-1 0h5m122 0h5m76 0h5m22 0h5m-2 0h5m-3 0h5m-2 0h5m6 0h5m4 0h5m50 0h5m-4 0h5m-4 0h5m-2 0h5m-3 0h5m38 0h5m31 0h5m1 0h5m146 0h5m118 0h5m0 0h5m1 0h5m-1146 1h5m4 0h5m8 0h5m66 0h5m58 0h5m207 0h5m62 0h5m17 0h5m56 0h5m21 0h5m10 0h5m48 0h5m66 0h5m9 0h5m0 0h5m58 0h5m8 0h5m2 0h5m1 0h5m68 0h5m6 0h5m129 0h5m109 0h5m-1139 1h5m6 0h5m7 0h5m87 0h5m-4 0h5m135 0h5m68 0h5m26 0h5m84 0h5m7 0h5m87 0h5m51 0h5m-1 0h5m72 0h5m10 0h5m-2 0h5m0 0h5m53 0h5m2 0h5m70 0h5m15 0h5m99 0h5m146 0h5m5 0h5m-1145 1h5m-2 0h5m11 0h5m2 0h5m64 0h5m65 0h5m86 0h5m37 0h5m43 0h5m2 0h5m63 0h5m22 0h5m28 0h5m1 0h5m9 0h5m52 0h5m52 0h5m72 0h5m4 0h5m-3 0h5m11 0h5m157 0h5m129 0h5m7 0h5m11 0h5m71 0h5m7 0h5m1 0h5m-4 0h5m0 0h5m-1142 1h5m5 0h5m-2 0h5m143 0h5m111 0h5m31 0h5m34 0h5m66 0h5m4 0h5m18 0h5m53 0h5m15 0h5m53 0h5m13 0h5m15 0h5m34 0h5m19 0h5m-4 0h5m9 0h5m-4 0h5m29 0h5m46 0h5m207 0h5m8 0h5m5 0h5m33 0h5m63 0h5m-3 0h5m0 0h5m-1153 1h5m-4 0h5m9 0h5m2 0h5m20 0h5m46 0h5m5 0h5m53 0h5m40 0h5m102 0h5m14 0h5m8 0h5m-4 0h5m70 0h5m28 0h5m27 0h5m35 0h5m21 0h5m8 0h5m61 0h5m61 0h5m68 0h5m-2 0h5m2 0h5m-2 0h5m3 0h5m6 0h5m82 0h5m41 0h5m19 0h5m33 0h5m29 0h5m2 0h5m-4 0h5m95 0h5m-1151 1h5m6 0h5m11 0h5m1 0h5m48 0h5m9 0h5m2 0h5m160 0h5m91 0h5m61 0h5m3 0h5m8 0h5m2 0h5m-4 0h5m154 0h5m12 0h5m55 0h5m15 0h5m55 0h5m83 0h5m10 0h5m0 0h5m65 0h5m85 0h5m69 0h5m0 0h5m-3 0h5m0 0h5m-3 0h5m3 0h5m-1073 1h5m6 0h5m62 0h5m7 0h5m-2 0h5m26 0h5m29 0h5m2 0h5m23 0h5m-3 0h5m95 0h5m83 0h5m81 0h5m3 0h5m67 0h5m69 0h5m4 0h5m-1 0h5m-3 0h5m-3 0h5m26 0h5m26 0h5m31 0h5m57 0h5m9 0h5m57 0h5m55 0h5m6 0h5m46 0h5m-1066 1h5m13 0h5m100 0h5m26 0h5m9 0h5m58 0h5m116 0h5m12 0h5m63 0h5m2 0h5m35 0h5m8 0h5m-4 0h5m1 0h5m34 0h5m9 0h5m119 0h5m1 0h5m0 0h5m-1 0h5m-1 0h5m5 0h5m60 0h5m3 0h5m79 0h5m-4 0h5m-1 0h5m123 0h5m21 0h5m-3 0h5m2 0h5m-1033 1h5m-4 0h5m1 0h5m72 0h5m0 0h5m41 0h5m9 0h5m-1 0h5m0 0h5m185 0h5m124 0h5m70 0h5m54 0h5m59 0h5m18 0h5m20 0h5m28 0h5m121 0h5m59 0h5m11 0h5m35 0h5m7 0h5m39 0h5m49 0h5m5 0h5m-1148 1h5m3 0h5m-4 0h5m1 0h5m24 0h5m52 0h5m71 0h5m1 0h5m35 0h5m148 0h5m55 0h5m-4 0h5m60 0h5m57 0h5m10 0h5m75 0h5m37 0h5m-4 0h5m1 0h5m-3 0h5m-4 0h5m2 0h5m1 0h5m51 0h5m-4 0h5m12 0h5m-1 0h5m50 0h5m14 0h5m157 0h5m-3 0h5m31 0h5m54 0h5m-3 0h5m0 0h5m1 0h5m-4 0h5m-4 0h5m-1151 1h5m-4 0h5m13 0h5m-4 0h5m6 0h5m3 0h5m45 0h5m9 0h5m33 0h5m31 0h5m22 0h5m21 0h5m102 0h5m6 0h5m100 0h5m11 0h5m140 0h5m19 0h5m50 0h5m65 0h5m10 0h5m-2 0h5m19 0h5m5 0h5m57 0h5m108 0h5m20 0h5m-1012 1h5m16 0h5m6 0h5m47 0h5m7 0h5m-4 0h5m81 0h5m46 0h5m147 0h5m58 0h5m15 0h5m-2 0h5m116 0h5m-1 0h5m3 0h5m-1 0h5m18 0h5m27 0h5m17 0h5m-3 0h5m-2 0h5m-1 0h5m-2 0h5m-4 0h5m-2 0h5m34 0h5m22 0h5m-3 0h5m-2 0h5m0 0h5m8 0h5m-4 0h5m-4 0h5m7 0h5m207 0h5m4 0h5m85 0h5m-2 0h5m-1 0h5m2 0h5m-3 0h5m-1143 1h5m3 0h5m14 0h5m45 0h5m18 0h5m-3 0h5m88 0h5m61 0h5m61 0h5m27 0h5m-2 0h5m26 0h5m22 0h5m95 0h5m37 0h5m27 0h5m93 0h5m-1 0h5m5 0h5m1 0h5m28 0h5m19 0h5m15 0h5m0 0h5m89 0h5m-1 0h5m43 0h5m84 0h5m4 0h5m76 0h5m18 0h5m-3 0h5m-3 0h5m-1154 1h5m6 0h5m-4 0h5m7 0h5m77 0h5m60 0h5m63 0h5m59 0h5m44 0h5m111 0h5m-1 0h5m67 0h5m-4 0h5m13 0h5m17 0h5m16 0h5m85 0h5m-2 0h5m2 0h5m6 0h5m75 0h5m1 0h5m74 0h5m5 0h5m18 0h5m113 0h5m42 0h5m24 0h5m27 0h5m-4 0h5m-1132 1h5m4 0h5m66 0h5m31 0h5m12 0h5m19 0h5m17 0h5m29 0h5m7 0h5m21 0h5m69 0h5m3 0h5m21 0h5m67 0h5m-3 0h5m84 0h5m65 0h5m9 0h5m51 0h5m20 0h5m1 0h5m59 0h5m6 0h5m-4 0h5m10 0h5m3 0h5m64 0h5m1 0h5m152 0h5m101 0h5m-2 0h5m-1131 1h5m63 0h5m20 0h5m67 0h5m144 0h5m4 0h5m153 0h5m46 0h5m35 0h5m10 0h5m15 0h5m27 0h5m30 0h5m-3 0h5m6 0h5m1 0h5m25 0h5m37 0h5m35 0h5m286 0h5m2 0h5m10 0h5m-4 0h5m-1149 1h5m0 0h5m2 0h5m6 0h5m5 0h5m37 0h5m17 0h5m3 0h5m65 0h5m82 0h5m4 0h5m4 0h5m69 0h5m9 0h5m-2 0h5m81 0h5m-2 0h5m4 0h5m5 0h5m73 0h5m65 0h5m-3 0h5m3 0h5m72 0h5m157 0h5m15 0h5m97 0h5m57 0h5m60 0h5m0 0h5m23 0h5m-1146 1h5m6 0h5m-2 0h5m11 0h5m42 0h5m5 0h5m5 0h5m38 0h5m4 0h5m36 0h5m124 0h5m8 0h5m-3 0h5m48 0h5m2 0h5m16 0h5m74 0h5m45 0h5m-3 0h5m79 0h5m2 0h5m26 0h5m11 0h5m-3 0h5m7 0h5m2 0h5m65 0h5m89 0h5m-3 0h5m89 0h5m19 0h5m28 0h5m6 0h5m27 0h5m6 0h5m22 0h5m21 0h5m-4 0h5m-1143 1h5m-4 0h5m0 0h5m-4 0h5m0 0h5m78 0h5m4 0h5m79 0h5m20 0h5m11 0h5m28 0h5m72 0h5m9 0h5m68 0h5m23 0h5m-2 0h5m-2 0h5m1 0h5m5 0h5m62 0h5m30 0h5m126 0h5m-4 0h5m-2 0h5m43 0h5m10 0h5m13 0h5m87 0h5m40 0h5m133 0h5m47 0h5m-1 0h5m-3 0h5m-3 0h5m-1137 1h5m82 0h5m-1 0h5m4 0h5m85 0h5m118 0h5m9 0h5m31 0h5m183 0h5m1 0h5m23 0h5m47 0h5m-3 0h5m50 0h5m-1 0h5m3 0h5m6 0h5m68 0h5m-4 0h5m2 0h5m-2 0h5m67 0h5m149 0h5m-2 0h5m0 0h5m30 0h5m40 0h5m3 0h5m9 0h5m-3 0h5m-1135 1h5m-4 0h5m1 0h5m-3 0h5m-3 0h5m61 0h5m-4 0h5m6 0h5m13 0h5m51 0h5m-2 0h5m-4 0h5m14 0h5m53 0h5m-2 0h5m2 0h5m24 0h5m42 0h5m25 0h5m81 0h5m14 0h5m42 0h5m26 0h5m25 0h5m38 0h5m63 0h5m-1 0h5m0 0h5m0 0h5m0 0h5m-4 0h5m57 0h5m14 0h5m-4 0h5m-1 0h5m52 0h5m6 0h5m176 0h5m41 0h5m-1099 1h5m1 0h5m0 0h5m3 0h5m-4 0h5m-3 0h5m-2 0h5m55 0h5m4 0h5m23 0h5m-2 0h5m7 0h5m15 0h5m1 0h5m5 0h5m4 0h5m14 0h5m72 0h5m81 0h5m81 0h5m15 0h5m16 0h5m34 0h5m46 0h5m106 0h5m8 0h5m-4 0h5m4 0h5m60 0h5m237 0h5m-1 0h5m-4 0h5m-2 0h5m65 0h5m17 0h5m0 0h5m9 0h5m-1146 1h5m-3 0h5m-4 0h5m-4 0h5m1 0h5m-4 0h5m-3 0h5m0 0h5m0 0h5m-3 0h5m21 0h5m42 0h5m27 0h5m15 0h5m153 0h5m17 0h5m19 0h5m-4 0h5m12 0h5m75 0h5m13 0h5m-4 0h5m80 0h5m30 0h5m28 0h5m31 0h5m28 0h5m4 0h5m6 0h5m-2 0h5m31 0h5m3 0h5m0 0h5m109 0h5m8 0h5m56 0h5m38 0h5m21 0h5m25 0h5m6 0h5m6 0h5m33 0h5m-2 0h5m6 0h5m-1136 1h5m-2 0h5m3 0h5m-3 0h5m-4 0h5m43 0h5m43 0h5m24 0h5m28 0h5m2 0h5m39 0h5m31 0h5m50 0h5m30 0h5m43 0h5m53 0h5m9 0h5m90 0h5m37 0h5m6 0h5m23 0h5m54 0h5m-3 0h5m4 0h5m75 0h5m7 0h5m65 0h5m-2 0h5m20 0h5m54 0h5m66 0h5m3 0h5m7 0h5m64 0h5m5 0h5m-1 0h5m-1141 1h5m-2 0h5m5 0h5m-3 0h5m-2 0h5m-2 0h5m3 0h5m56 0h5m-4 0h5m-2 0h5m-4 0h5m92 0h5m59 0h5m9 0h5m34 0h5m150 0h5m125 0h5m15 0h5m-3 0h5m-1 0h5m76 0h5m2 0h5m68 0h5m5 0h5m-1 0h5m-4 0h5m0 0h5m40 0h5m13 0h5m44 0h5m4 0h5m70 0h5m37 0h5m84 0h5m8 0h5m-4 0h5m-2 0h5m-2 0h5m-1135 1h5m-3 0h5m-1 0h5m58 0h5m1 0h5m0 0h5m0 0h5m5 0h5m96 0h5m-2 0h5m23 0h5m54 0h5m47 0h5m-1 0h5m0 0h5m198 0h5m49 0h5m-2 0h5m42 0h5m19 0h5m-4 0h5m0 0h5m-4 0h5m-1 0h5m-2 0h5m-4 0h5m-4 0h5m0 0h5m-3 0h5m59 0h5m5 0h5m-4 0h5m76 0h5m237 0h5m14 0h5m3 0h5m-1140 1h5m58 0h5m37 0h5m51 0h5m-3 0h5m9 0h5m2 0h5m55 0h5m33 0h5m71 0h5m31 0h5m32 0h5m7 0h5m2 0h5m1 0h5m99 0h5m12 0h5m26 0h5m28 0h5m7 0h5m27 0h5m0 0h5m3 0h5m-4 0h5m1 0h5m58 0h5m9 0h5m5 0h5m228 0h5m16 0h5m62 0h5m21 0h5m-1126 1h5m-3 0h5m-1 0h5m10 0h5m43 0h5m1 0h5m60 0h5m-1 0h5m-3 0h5m18 0h5m17 0h5m34 0h5m11 0h5m56 0h5m29 0h5m8 0h5m73 0h5m24 0h5m45 0h5m20 0h5m14 0h5m42 0h5m72 0h5m11 0h5m50 0h5m13 0h5m3 0h5m0 0h5m8 0h5m35 0h5m127 0h5m-1 0h5m131 0h5m5 0h5m-2 0h5m-3 0h5m-1150 1h5m1 0h5m0 0h5m0 0h5m-3 0h5m0 0h5m-2 0h5m78 0h5m70 0h5m71 0h5m26 0h5m42 0h5m9 0h5m25 0h5m208 0h5m20 0h5m129 0h5m17 0h5m12 0h5m125 0h5m1 0h5m20 0h5m27 0h5m35 0h5m3 0h5m72 0h5m6 0h5m1 0h5m0 0h5m-4 0h5m1 0h5m2 0h5m-1156 1h5m-4 0h5m-2 0h5m1 0h5m5 0h5m-4 0h5m2 0h5m63 0h5m13 0h5m9 0h5m3 0h5m44 0h5m-2 0h5m-4 0h5m-1 0h5m58 0h5m10 0h5m32 0h5m40 0h5m2 0h5m40 0h5m49 0h5m-1 0h5m-3 0h5m106 0h5m14 0h5m114 0h5m1 0h5m72 0h5m72 0h5m244 0h5m4 0h5m3 0h5m-1129 1h5m4 0h5m-4 0h5m11 0h5m36 0h5m5 0h5m2 0h5m55 0h5m117 0h5m49 0h5m-3 0h5m15 0h5m4 0h5m41 0h5m24 0h5m26 0h5m-4 0h5m-4 0h5m32 0h5m45 0h5m55 0h5m73 0h5m0 0h5m-4 0h5m4 0h5m58 0h5m-2 0h5m4 0h5m-3 0h5m9 0h5m80 0h5m237 0h5m-1 0h5m-1131 1h5m-4 0h5m-3 0h5m3 0h5m-2 0h5m0 0h5m22 0h5m2 0h5m18 0h5m15 0h5m0 0h5m13 0h5m30 0h5m2 0h5m3 0h5m-2 0h5m123 0h5m-1 0h5m16 0h5m1 0h5m8 0h5m33 0h5m8 0h5m33 0h5m30 0h5m22 0h5m2 0h5m-1 0h5m12 0h5m1 0h5m16 0h5m-3 0h5m56 0h5m-1 0h5m-3 0h5m48 0h5m29 0h5m7 0h5m1 0h5m56 0h5m-4 0h5m173 0h5m10 0h5m37 0h5m0 0h5m1 0h5m44 0h5m23 0h5m0 0h5m-2 0h5m16 0h5m-4 0h5m3 0h5m-1153 1h5m6 0h5m60 0h5m5 0h5m7 0h5m69 0h5m102 0h5m-2 0h5m41 0h5m109 0h5m13 0h5m147 0h5m-3 0h5m55 0h5m4 0h5m-2 0h5m15 0h5m-3 0h5m3 0h5m-3 0h5m24 0h5m33 0h5m8 0h5m17 0h5m24 0h5m46 0h5m10 0h5m15 0h5m75 0h5m15 0h5m14 0h5m66 0h5m-1138 1h5m-4 0h5m-1 0h5m-1 0h5m-2 0h5m1 0h5m-3 0h5m-3 0h5m-3 0h5m-4 0h5m0 0h5m7 0h5m16 0h5m1 0h5m52 0h5m13 0h5m137 0h5m78 0h5m30 0h5m17 0h5m35 0h5m0 0h5m4 0h5m9 0h5m149 0h5m29 0h5m8 0h5m-4 0h5m1 0h5m-2 0h5m-2 0h5m6 0h5m7 0h5m39 0h5m18 0h5m0 0h5m12 0h5m28 0h5m32 0h5m22 0h5m24 0h5m146 0h5m15 0h5m-1119 1h5m-3 0h5m-4 0h5m9 0h5m-4 0h5m-1 0h5m25 0h5m22 0h5m0 0h5m25 0h5m-2 0h5m93 0h5m33 0h5m93 0h5m-1 0h5m36 0h5m56 0h5m64 0h5m13 0h5m18 0h5m-2 0h5m33 0h5m22 0h5m5 0h5m56 0h5m37 0h5m23 0h5m94 0h5m-3 0h5m18 0h5m0 0h5m58 0h5m37 0h5m86 0h5m11 0h5m-4 0h5m6 0h5m1 0h5m1 0h5m-1149 1h5m6 0h5m1 0h5m55 0h5m-2 0h5m20 0h5m5 0h5m7 0h5m45 0h5m78 0h5m33 0h5m30 0h5m73 0h5m37 0h5m-4 0h5m0 0h5m9 0h5m3 0h5m2 0h5m115 0h5m14 0h5m1 0h5m0 0h5m5 0h5m41 0h5m9 0h5m-2 0h5m7 0h5m12 0h5m34 0h5m4 0h5m-4 0h5m6 0h5m24 0h5m23 0h5m41 0h5m68 0h5m38 0h5m5 0h5m94 0h5m-3 0h5m7 0h5m-1146 1h5m-3 0h5m-3 0h5m-2 0h5m85 0h5m15 0h5m-3 0h5m-1 0h5m29 0h5m3 0h5m10 0h5m-4 0h5m69 0h5m0 0h5m50 0h5m79 0h5m78 0h5m57 0h5m7 0h5m-1 0h5m4 0h5m56 0h5m35 0h5m21 0h5m-4 0h5m6 0h5m-4 0h5m-4 0h5m47 0h5m0 0h5m5 0h5m-2 0h5m33 0h5m182 0h5m103 0h5m1 0h5m3 0h5m-1 0h5m4 0h5m-1134 1h5m-2 0h5m0 0h5m-2 0h5m49 0h5m5 0h5m1 0h5m-2 0h5m48 0h5m47 0h5m0 0h5m14 0h5m63 0h5m13 0h5m29 0h5m10 0h5m87 0h5m40 0h5m39 0h5m0 0h5m2 0h5m35 0h5m41 0h5m47 0h5m6 0h5m44 0h5m24 0h5m3 0h5m0 0h5m35 0h5m16 0h5m68 0h5m106 0h5m89 0h5m2 0h5m-1137 1h5m0 0h5m1 0h5m4 0h5m-4 0h5m15 0h5m43 0h5m16 0h5m16 0h5m18 0h5m6 0h5m84 0h5m27 0h5m7 0h5m37 0h5m219 0h5m6 0h5m114 0h5m35 0h5m33 0h5m-3 0h5m92 0h5m157 0h5m22 0h5m46 0h5m0 0h5m1 0h5m-1129 1h5m1 0h5m1 0h5m-4 0h5m90 0h5m53 0h5m9 0h5m13 0h5m132 0h5m3 0h5m27 0h5m58 0h5m-1 0h5m1 0h5m24 0h5m92 0h5m0 0h5m9 0h5m-1 0h5m65 0h5m-2 0h5m14 0h5m4 0h5m-3 0h5m-4 0h5m20 0h5m36 0h5m4 0h5m5 0h5m-3 0h5m-1 0h5m15 0h5m24 0h5m140 0h5m4 0h5m3 0h5m22 0h5m55 0h5m0 0h5m17 0h5m11 0h5m-1142 1h5m-3 0h5m4 0h5m-4 0h5m-1 0h5m4 0h5m-4 0h5m39 0h5m37 0h5m6 0h5m5 0h5m22 0h5m8 0h5m-4 0h5m-4 0h5m2 0h5m11 0h5m222 0h5m-2 0h5m19 0h5m1 0h5m101 0h5m127 0h5m-4 0h5m0 0h5m68 0h5m17 0h5m-1 0h5m29 0h5m11 0h5m30 0h5m50 0h5m29 0h5m11 0h5m7 0h5m6 0h5m48 0h5m36 0h5m6 0h5m10 0h5m-1 0h5m-3 0h5m-3 0h5m-1141 1h5m9 0h5m0 0h5m57 0h5m165 0h5m23 0h5m20 0h5m38 0h5m27 0h5m12 0h5m44 0h5m18 0h5m64 0h5m7 0h5m27 0h5m23 0h5m84 0h5m0 0h5m47 0h5m12 0h5m9 0h5m2 0h5m2 0h5m6 0h5m69 0h5m5 0h5m63 0h5m5 0h5m16 0h5m34 0h5m1 0h5m68 0h5m21 0h5m0 0h5m-1143 1h5m11 0h5m27 0h5m32 0h5m-4 0h5m85 0h5m16 0h5m30 0h5m6 0h5m141 0h5m45 0h5m2 0h5m1 0h5m6 0h5m26 0h5m85 0h5m0 0h5m14 0h5m69 0h5m8 0h5m2 0h5m21 0h5m37 0h5m3 0h5m28 0h5m39 0h5m6 0h5m4 0h5m-1 0h5m31 0h5m89 0h5m22 0h5m11 0h5m84 0h5m-1147 1h5m-4 0h5m3 0h5m-4 0h5m-2 0h5m80 0h5m-4 0h5m47 0h5m7 0h5m47 0h5m78 0h5m43 0h5m78 0h5m3 0h5m67 0h5m26 0h5m7 0h5m-3 0h5m39 0h5m1 0h5m-2 0h5m69 0h5m-4 0h5m1 0h5m5 0h5m-3 0h5m-2 0h5m16 0h5m41 0h5m-3 0h5m1 0h5m3 0h5m0 0h5m-4 0h5m10 0h5m5 0h5m-1 0h5m35 0h5m2 0h5m50 0h5m74 0h5m0 0h5m74 0h5m25 0h5m0 0h5m-1142 1h5m-3 0h5m0 0h5m-1 0h5m1 0h5m-1 0h5m27 0h5m35 0h5m0 0h5m-2 0h5m12 0h5m45 0h5m7 0h5m37 0h5m18 0h5m24 0h5m102 0h5m71 0h5m35 0h5m17 0h5m-2 0h5m31 0h5m13 0h5m17 0h5m19 0h5m-2 0h5m6 0h5m23 0h5m20 0h5m12 0h5m-1 0h5m-4 0h5m-1 0h5m-4 0h5m1 0h5m45 0h5m-2 0h5m11 0h5m93 0h5m4 0h5m13 0h5m15 0h5m19 0h5m11 0h5m154 0h5m-4 0h5m1 0h5m-3 0h5m-1142 1h5m0 0h5m4 0h5m3 0h5m-2 0h5m0 0h5m23 0h5m-1 0h5m22 0h5m3 0h5m0 0h5m-2 0h5m70 0h5m1 0h5m4 0h5m43 0h5m-1 0h5m17 0h5m57 0h5m6 0h5m6 0h5m9 0h5m40 0h5m22 0h5m26 0h5m-1 0h5m11 0h5m13 0h5m1 0h5m20 0h5m26 0h5m122 0h5m-2 0h5m3 0h5m59 0h5m2 0h5m10 0h5m3 0h5m41 0h5m9 0h5m101 0h5m133 0h5m20 0h5m7 0h5m-1152 1h5m6 0h5m8 0h5m-2 0h5m-3 0h5m22 0h5m24 0h5m4 0h5m-2 0h5m20 0h5m38 0h5m-1 0h5m5 0h5m2 0h5m-3 0h5m11 0h5m55 0h5m-2 0h5m19 0h5m-2 0h5m47 0h5m10 0h5m93 0h5m12 0h5m110 0h5m-2 0h5m32 0h5m0 0h5m1 0h5m-1 0h5m44 0h5m1 0h5m1 0h5m0 0h5m4 0h5m-4 0h5m60 0h5m2 0h5m1 0h5m-4 0h5m60 0h5m19 0h5m68 0h5m32 0h5m1 0h5m81 0h5m3 0h5m0 0h5m19 0h5m-1 0h5m0 0h5m-1141 1h5m0 0h5m1 0h5m-2 0h5m26 0h5m17 0h5m26 0h5m59 0h5m47 0h5m17 0h5m10 0h5m1 0h5m1 0h5m5 0h5m5 0h5m40 0h5m39 0h5m40 0h5m-4 0h5m2 0h5m28 0h5m-3 0h5m8 0h5m57 0h5m-2 0h5m49 0h5m2 0h5m53 0h5m22 0h5m5 0h5m-1 0h5m-2 0h5m-1 0h5m-3 0h5m-1 0h5m0 0h5m-3 0h5m33 0h5m0 0h5m10 0h5m-3 0h5m3 0h5m37 0h5m22 0h5m40 0h5m50 0h5m-952 1h5m-2 0h5m87 0h5m-3 0h5m0 0h5m52 0h5m9 0h5m55 0h5m56 0h5m64 0h5m29 0h5m45 0h5m8 0h5m25 0h5m41 0h5m3 0h5m10 0h5m2 0h5m-3 0h5m-1 0h5m0 0h5m37 0h5m3 0h5m52 0h5m3 0h5m-3 0h5m3 0h5m62 0h5m15 0h5m-4 0h5m76 0h5m24 0h5m31 0h5m2 0h5m186 0h5m-1141 1h5m3 0h5m-2 0h5m-1 0h5m58 0h5m-2 0h5m59 0h5m9 0h5m25 0h5m14 0h5m1 0h5m0 0h5m-1 0h5m33 0h5m44 0h5m3 0h5m-2 0h5m17 0h5m4 0h5m3 0h5m3 0h5m52 0h5m27 0h5m8 0h5m2 0h5m108 0h5m32 0h5m13 0h5m5 0h5m35 0h5m-4 0h5m54 0h5m12 0h5m0 0h5m11 0h5m-2 0h5m-3 0h5m-4 0h5m36 0h5m13 0h5m-2 0h5m27 0h5m131 0h5m11 0h5m24 0h5m19 0h5m8 0h5m-3 0h5m14 0h5m-1137 1h5m-2 0h5m7 0h5m-2 0h5m-1 0h5m11 0h5m23 0h5m19 0h5m61 0h5m154 0h5m28 0h5m-1 0h5m-3 0h5m80 0h5m20 0h5m47 0h5m17 0h5m79 0h5m4 0h5m-1 0h5m55 0h5m-3 0h5m7 0h5m0 0h5m33 0h5m-4 0h5m10 0h5m0 0h5m10 0h5m45 0h5m25 0h5m-4 0h5m1 0h5m18 0h5m43 0h5m37 0h5m49 0h5m67 0h5m-2 0h5m-4 0h5m-1127 1h5m8 0h5m4 0h5m-3 0h5m-3 0h5m5 0h5m-1 0h5m36 0h5m-2 0h5m7 0h5m70 0h5m-3 0h5m67 0h5m8 0h5m22 0h5m29 0h5m20 0h5m4 0h5m57 0h5m55 0h5m3 0h5m62 0h5m16 0h5m5 0h5m22 0h5m-3 0h5m-2 0h5m35 0h5m13 0h5m24 0h5m3 0h5m6 0h5m44 0h5m3 0h5m3 0h5m85 0h5m83 0h5m74 0h5m66 0h5m8 0h5m2 0h5m4 0h5m-2 0h5m-1144 1h5m-4 0h5m-3 0h5m101 0h5m38 0h5m7 0h5m7 0h5m5 0h5m38 0h5m67 0h5m10 0h5m-2 0h5m75 0h5m31 0h5m-2 0h5m19 0h5m25 0h5m20 0h5m86 0h5m-2 0h5m17 0h5m48 0h5m3 0h5m-4 0h5m-1 0h5m-2 0h5m2 0h5m9 0h5m61 0h5m6 0h5m166 0h5m-3 0h5m39 0h5m27 0h5m2 0h5m50 0h5m16 0h5m0 0h5m-1144 1h5m-3 0h5m6 0h5m49 0h5m19 0h5m-3 0h5m58 0h5m1 0h5m5 0h5m27 0h5m30 0h5m35 0h5m17 0h5m13 0h5m38 0h5m68 0h5m2 0h5m6 0h5m3 0h5m142 0h5m-3 0h5m74 0h5m-4 0h5m-3 0h5m3 0h5m7 0h5m39 0h5m7 0h5m5 0h5m34 0h5m10 0h5m42 0h5m6 0h5m15 0h5m16 0h5m10 0h5m7 0h5m43 0h5m1 0h5m-1 0h5m-4 0h5m8 0h5m4 0h5m11 0h5m72 0h5m-4 0h5m-1127 1h5m-3 0h5m3 0h5m0 0h5m50 0h5m6 0h5m102 0h5m16 0h5m19 0h5m15 0h5m12 0h5m-1 0h5m0 0h5m-3 0h5m16 0h5m70 0h5m48 0h5m42 0h5m51 0h5m17 0h5m51 0h5m8 0h5m10 0h5m4 0h5m11 0h5m17 0h5m-3 0h5m6 0h5m54 0h5m12 0h5m0 0h5m7 0h5m6 0h5m15 0h5m35 0h5m60 0h5m30 0h5m2 0h5m3 0h5m11 0h5m1 0h5m54 0h5m59 0h5m-2 0h5m-1144 1h5m-4 0h5m-4 0h5m-4 0h5m10 0h5m66 0h5m-2 0h5m-2 0h5m-1 0h5m-4 0h5m2 0h5m4 0h5m36 0h5m3 0h5m1 0h5m-4 0h5m20 0h5m-4 0h5m12 0h5m33 0h5m46 0h5m24 0h5m15 0h5m3 0h5m78 0h5m18 0h5m-3 0h5m16 0h5m25 0h5m63 0h5m20 0h5m77 0h5m-3 0h5m-3 0h5m-2 0h5m1 0h5m-4 0h5m0 0h5m-3 0h5m57 0h5m-4 0h5m0 0h5m-4 0h5m8 0h5m63 0h5m42 0h5m8 0h5m28 0h5m19 0h5m-2 0h5m-2 0h5m26 0h5m8 0h5m61 0h5m2 0h5m1 0h5m14 0h5m-1130 1h5m-2 0h5m-3 0h5m-4 0h5m1 0h5m-2 0h5m37 0h5m13 0h5m-3 0h5m2 0h5m114 0h5m74 0h5m14 0h5m4 0h5m-4 0h5m7 0h5m26 0h5m15 0h5m7 0h5m4 0h5m10 0h5m1 0h5m20 0h5m32 0h5m9 0h5m0 0h5m51 0h5m14 0h5m23 0h5m11 0h5m53 0h5m14 0h5m6 0h5m70 0h5m1 0h5m37 0h5m40 0h5m7 0h5m3 0h5m68 0h5m-1 0h5m47 0h5m42 0h5m3 0h5m55 0h5"/>
<path transform="scale(0.25)" fill="none" stroke="#828282" stroke-width="4.4" d="M1908 942h5m108 0h5m59 0h5m60 0h5m116 0h5m-3 0h5m107 0h5m98 0h5m42 0h5m70 0h5m83 0h5m10 0h5m319 0h5m-1 0h5m-1133 1h5m-1 0h5m38 0h5m37 0h5m-1 0h5m6 0h5m257 0h5m-3 0h5m95 0h5m54 0h5m30 0h5m71 0h5m-4 0h5m62 0h5m-3 0h5m1 0h5m85 0h5m0 0h5m-1 0h5m225 0h5m0 0h5m73 0h5m9 0h5m-969 1h5m97 0h5m179 0h5m70 0h5m103 0h5m9 0h5m53 0h5m58 0h5m96 0h5m170 0h5m60 0h5m5 0h5m0 0h5m3 0h5m-1147 1h5m-2 0h5m0 0h5m-1 0h5m-1 0h5m66 0h5m-1 0h5m-4 0h5m4 0h5m69 0h5m4 0h5m282 0h5m-4 0h5m-3 0h5m179 0h5m31 0h5m6 0h5m5 0h5m331 0h5m63 0h5m-1129 1h5m12 0h5m68 0h5m2 0h5m7 0h5m0 0h5m48 0h5m199 0h5m91 0h5m161 0h5m0 0h5m45 0h5m24 0h5m-4 0h5m-4 0h5m105 0h5m64 0h5m233 0h5m-1 0h5m-1140 1h5m-4 0h5m15 0h5m68 0h5m-4 0h5m-4 0h5m31 0h5m2 0h5m84 0h5m23 0h5m4 0h5m-4 0h5m90 0h5m-3 0h5m1 0h5m87 0h5m165 0h5m3 0h5m2 0h5m51 0h5m81 0h5m79 0h5m4 0h5m5 0h5m143 0h5m5 0h5m2 0h5m-2 0h5m55 0h5m9 0h5m2 0h5m-1149 1h5m3 0h5m3 0h5m-4 0h5m3 0h5m234 0h5m202 0h5m79 0h5m79 0h5m1 0h5m33 0h5m0 0h5m14 0h5m-1 0h5m78 0h5m-4 0h5m-4 0h5m36 0h5m54 0h5m43 0h5m90 0h5m5 0h5m66 0h5m8 0h5m-2 0h5m-3 0h5m-3 0h5m-3 0h5m-4 0h5m-1146 1h5m2 0h5m2 0h5m6 0h5m61 0h5m48 0h5m39 0h5m61 0h5m98 0h5m106 0h5m3 0h5m80 0h5m87 0h5m56 0h5m76 0h5m72 0h5m11 0h5m35 0h5m12 0h5m30 0h5m60 0h5m71 0h5m-1125 1h5m-2 0h5m10 0h5m-4 0h5m-1 0h5m65 0h5m-4 0h5m5 0h5m-4 0h5m64 0h5m74 0h5m97 0h5m-2 0h5m90 0h5m6 0h5m-3 0h5m-2 0h5m13 0h5m67 0h5m137 0h5m0 0h5m6 0h5m37 0h5m21 0h5m330 0h5m10 0h5m-2 0h5m-1138 1h5m1 0h5m0 0h5m65 0h5m2 0h5m31 0h5m13 0h5m115 0h5m78 0h5m104 0h5m86 0h5m-4 0h5m99 0h5m48 0h5m82 0h5m23 0h5m19 0h5m201 0h5m57 0h5m6 0h5m-1130 1h5m0 0h5m-3 0h5m80 0h5m85 0h5m36 0h5m46 0h5m8 0h5m59 0h5m22 0h5m85 0h5m138 0h5m24 0h5m52 0h5m2 0h5m3 0h5m25 0h5m16 0h5m26 0h5m83 0h5m231 0h5m-4 0h5m4 0h5m-4 0h5m-2 0h5m1 0h5m-1096 1h5m33 0h5m13 0h5m3 0h5m48 0h5m10 0h5m2 0h5m49 0h5m29 0h5m180 0h5m7 0h5m-2 0h5m-4 0h5m61 0h5m156 0h5m-2 0h5m2 0h5m66 0h5m4 0h5m112 0h5m217 0h5m-1132 1h5m-3 0h5m71 0h5m18 0h5m63 0h5m2 0h5m30 0h5m187 0h5m19 0h5m22 0h5m147 0h5m20 0h5m58 0h5m-3 0h5m3 0h5m2 0h5m21 0h5m35 0h5m98 0h5m7 0h5m221 0h5m6 0h5m-1140 1h5m-1 0h5m0 0h5m-4 0h5m0 0h5m73 0h5m-3 0h5m-4 0h5m3 0h5m0 0h5m150 0h5m197 0h5m66 0h5m4 0h5m26 0h5m52 0h5m6 0h5m45 0h5m-2 0h5m8 0h5m173 0h5m32 0h5m164 0h5m34 0h5m-2 0h5m-1136 1h5m83 0h5m240 0h5m5 0h5m226 0h5m61 0h5m48 0h5m-1 0h5m82 0h5m205 0h5m75 0h5m29 0h5m-3 0h5m-2 0h5m0 0h5m-2 0h5m-1129 1h5m15 0h5m57 0h5m1 0h5m11 0h5m50 0h5m272 0h5m18 0h5m147 0h5m94 0h5m-2 0h5m64 0h5m0 0h5m8 0h5m78 0h5m54 0h5m56 0h5m45 0h5m42 0h5m-3 0h5m4 0h5m15 0h5m-1047 1h5m0 0h5m7 0h5m62 0h5m-2 0h5m17 0h5m115 0h5m26 0h5m177 0h5m18 0h5m-4 0h5m68 0h5m63 0h5m-1 0h5m-3 0h5m4 0h5m-4 0h5m75 0h5m2 0h5m201 0h5m104 0h5m0 0h5m1 0h5m8 0h5m-1147 1h5m-2 0h5m89 0h5m-4 0h5m-1 0h5m-4 0h5m53 0h5m14 0h5m2 0h5m-3 0h5m3 0h5m74 0h5m41 0h5m149 0h5m39 0h5m176 0h5m-3 0h5m-1 0h5m4 0h5m76 0h5m101 0h5m130 0h5m62 0h5m-2 0h5m-1111 1h5m0 0h5m-3 0h5m7 0h5m64 0h5m7 0h5m3 0h5m143 0h5m41 0h5m43 0h5m0 0h5m87 0h5m17 0h5m124 0h5m17 0h5m83 0h5m3 0h5m36 0h5m272 0h5m74 0h5m1 0h5m7 0h5m-2 0h5m-3 0h5m-1134 1h5m4 0h5m-3 0h5m69 0h5m-3 0h5m6 0h5m-4 0h5m-1 0h5m68 0h5m84 0h5m84 0h5m73 0h5m251 0h5m5 0h5m1 0h5m70 0h5m90 0h5m-3 0h5m-4 0h5m250 0h5m-1141 1h5m76 0h5m8 0h5m5 0h5m172 0h5m57 0h5m7 0h5m106 0h5m-2 0h5m86 0h5m62 0h5m5 0h5m254 0h5m19 0h5m73 0h5m30 0h5m0 0h5m75 0h5m11 0h5m-1148 1h5m8 0h5m79 0h5m0 0h5m-1 0h5m-4 0h5m83 0h5m156 0h5m94 0h5m5 0h5m66 0h5m12 0h5m88 0h5m52 0h5m-2 0h5m-1 0h5m-1 0h5m7 0h5m57 0h5m5 0h5m6 0h5m90 0h5m195 0h5m13 0h5m15 0h5m-3 0h5m-4 0h5m-1137 1h5m8 0h5m0 0h5m58 0h5m-1 0h5m-4 0h5m0 0h5m69 0h5m2 0h5m174 0h5m105 0h5m130 0h5m22 0h5m-4 0h5m79 0h5m67 0h5m9 0h5m75 0h5m1 0h5m103 0h5m36 0h5m74 0h5m-1123 1h5m7 0h5m2 0h5m-2 0h5m69 0h5m94 0h5m8 0h5m58 0h5m7 0h5m74 0h5m-1 0h5m65 0h5m188 0h5m8 0h5m2 0h5m6 0h5m38 0h5m-4 0h5m-3 0h5m-4 0h5m0 0h5m-4 0h5m-1 0h5m79 0h5m2 0h5m76 0h5m136 0h5m2 0h5m55 0h5m-1091 1h5m76 0h5m-3 0h5m3 0h5m-4 0h5m2 0h5m60 0h5m85 0h5m25 0h5m146 0h5m29 0h5m7 0h5m4 0h5m32 0h5m10 0h5m79 0h5m57 0h5m-4 0h5m8 0h5m0 0h5m32 0h5m30 0h5m94 0h5m4 0h5m73 0h5m134 0h5m8 0h5m1 0h5m-1126 1h5m63 0h5m16 0h5m-2 0h5m-3 0h5m-2 0h5m53 0h5m11 0h5m68 0h5m10 0h5m82 0h5m35 0h5m38 0h5m33 0h5m14 0h5m60 0h5m65 0h5m-4 0h5m73 0h5m82 0h5m82 0h5m156 0h5m75 0h5m1 0h5m-3 0h5m-1141 1h5m12 0h5m163 0h5m0 0h5m77 0h5m264 0h5m8 0h5m79 0h5m2 0h5m39 0h5m13 0h5m-4 0h5m59 0h5m336 0h5m-3 0h5m1 0h5m-1122 1h5m3 0h5m12 0h5m54 0h5m3 0h5m3 0h5m0 0h5m155 0h5m172 0h5m12 0h5m-1 0h5m5 0h5m1 0h5m59 0h5m14 0h5m-2 0h5m139 0h5m81 0h5m78 0h5m149 0h5m9 0h5m-4 0h5m64 0h5m3 0h5m5 0h5m-2 0h5m-1131 1h5m4 0h5m47 0h5m32 0h5m44 0h5m180 0h5m7 0h5m1 0h5m-4 0h5m86 0h5m24 0h5m104 0h5m101 0h5m4 0h5m0 0h5m-4 0h5m-3 0h5m-3 0h5m62 0h5m12 0h5m90 0h5m25 0h5m0 0h5m155 0h5m34 0h5m-1120 1h5m1 0h5m66 0h5m0 0h5m8 0h5m-3 0h5m75 0h5m84 0h5m-1 0h5m55 0h5m123 0h5m0 0h5m151 0h5m8 0h5m44 0h5m5 0h5m181 0h5m9 0h5m201 0h5m7 0h5m1 0h5m-3 0h5m-3 0h5m-1 0h5m-3 0h5m-3 0h5m-1145 1h5m-2 0h5m8 0h5m0 0h5m6 0h5m7 0h5m1 0h5m4 0h5m19 0h5m7 0h5m29 0h5m240 0h5m82 0h5m3 0h5m12 0h5m60 0h5m151 0h5m-3 0h5m-2 0h5m1 0h5m69 0h5m4 0h5m9 0h5m179 0h5m32 0h5m-2 0h5m15 0h5m66 0h5m-4 0h5m-1127 1h5m-4 0h5m73 0h5m170 0h5m14 0h5m23 0h5m136 0h5m11 0h5m-3 0h5m0 0h5m10 0h5m74 0h5m41 0h5m24 0h5m-4 0h5m-3 0h5m43 0h5m4 0h5m-4 0h5m23 0h5m50 0h5m129 0h5m107 0h5m71 0h5m18 0h5m-1137 1h5m76 0h5m-2 0h5m9 0h5m43 0h5m85 0h5m148 0h5m84 0h5m16 0h5m149 0h5m50 0h5m0 0h5m79 0h5m77 0h5m47 0h5m89 0h5m12 0h5m69 0h5m-1129 1h5m2 0h5m79 0h5m7 0h5m5 0h5m-2 0h5m91 0h5m48 0h5m204 0h5m-3 0h5m58 0h5m-2 0h5m157 0h5m2 0h5m-1 0h5m1 0h5m61 0h5m1 0h5m12 0h5m-3 0h5m154 0h5m143 0h5m-1130 1h5m27 0h5m74 0h5m3 0h5m-3 0h5m63 0h5m141 0h5m27 0h5m110 0h5m68 0h5m96 0h5m-4 0h5m-1 0h5m41 0h5m102 0h5m-1 0h5m102 0h5m99 0h5m17 0h5m36 0h5m32 0h5m-1125 1h5m-3 0h5m-3 0h5m-1 0h5m84 0h5m4 0h5m-1 0h5m70 0h5m1 0h5m261 0h5m0 0h5m85 0h5m79 0h5m65 0h5m4 0h5m65 0h5m11 0h5m88 0h5m89 0h5m17 0h5m27 0h5m98 0h5m-3 0h5m-1134 1h5m-2 0h5m0 0h5m58 0h5m102 0h5m264 0h5m-1 0h5m8 0h5m55 0h5m92 0h5m8 0h5m46 0h5m4 0h5m-3 0h5m0 0h5m111 0h5m40 0h5m1 0h5m46 0h5m65 0h5m26 0h5m37 0h5m-818 1h5m84 0h5m71 0h5m-1 0h5m19 0h5m6 0h5m6 0h5m155 0h5m54 0h5m-2 0h5m7 0h5m68 0h5m104 0h5m142 0h5m87 0h5m-3 0h5m-1136 1h5m-4 0h5m73 0h5m232 0h5m49 0h5m84 0h5m166 0h5m54 0h5m6 0h5m0 0h5m75 0h5m94 0h5m229 0h5m3 0h5m2 0h5m-4 0h5m-1131 1h5m1 0h5m0 0h5m62 0h5m-4 0h5m3 0h5m14 0h5m262 0h5m162 0h5m19 0h5m46 0h5m-2 0h5m51 0h5m101 0h5m74 0h5m10 0h5m-4 0h5m-4 0h5m13 0h5m51 0h5m67 0h5m5 0h5m62 0h5m6 0h5m-4 0h5m-1132 1h5m17 0h5m70 0h5m96 0h5m254 0h5m-2 0h5m2 0h5m232 0h5m18 0h5m49 0h5m335 0h5m7 0h5m-1081 1h5m46 0h5m115 0h5m19 0h5m16 0h5m67 0h5m111 0h5m-4 0h5m11 0h5m57 0h5m91 0h5m56 0h5m0 0h5m11 0h5m81 0h5m75 0h5m35 0h5m115 0h5m82 0h5m-1 0h5m-1 0h5m-1139 1h5m-4 0h5m2 0h5m86 0h5m49 0h5m77 0h5m49 0h5m63 0h5m330 0h5m2 0h5m-3 0h5m6 0h5m74 0h5m8 0h5m73 0h5m-4 0h5m150 0h5m0 0h5m70 0h5m-4 0h5m-1108 1h5m-1 0h5m58 0h5m0 0h5m3 0h5m9 0h5m55 0h5m4 0h5m69 0h5m93 0h5m82 0h5m10 0h5m2 0h5m85 0h5m72 0h5m-2 0h5m9 0h5m48 0h5m-2 0h5m83 0h5m88 0h5m56 0h5m94 0h5m-4 0h5m12 0h5m-1064 1h5m80 0h5m8 0h5m69 0h5m8 0h5m87 0h5m177 0h5m-3 0h5m-3 0h5m5 0h5m69 0h5m52 0h5m29 0h5m32 0h5m29 0h5m67 0h5m9 0h5m88 0h5m-2 0h5m34 0h5m197 0h5m5 0h5m-1151 1h5m5 0h5m6 0h5m36 0h5m20 0h5m15 0h5m0 0h5m51 0h5m-4 0h5m-3 0h5m1 0h5m182 0h5m89 0h5m1 0h5m158 0h5m15 0h5m52 0h5m3 0h5m2 0h5m38 0h5m234 0h5m10 0h5m39 0h5m61 0h5m2 0h5m-1126 1h5m-4 0h5m-4 0h5m-2 0h5m68 0h5m2 0h5m158 0h5m6 0h5m-4 0h5m88 0h5m86 0h5m9 0h5m71 0h5m7 0h5m82 0h5m46 0h5m3 0h5m-3 0h5m11 0h5m24 0h5m40 0h5m1 0h5m244 0h5m17 0h5m21 0h5m28 0h5m0 0h5m-1135 1h5m7 0h5m2 0h5m60 0h5m-4 0h5m-2 0h5m8 0h5m0 0h5m40 0h5m28 0h5m171 0h5m77 0h5m27 0h5m151 0h5m-4 0h5m1 0h5m56 0h5m0 0h5m1 0h5m-2 0h5m111 0h5m44 0h5m157 0h5m8 0h5m-1066 1h5m18 0h5m-2 0h5m70 0h5m67 0h5m-1 0h5m375 0h5m9 0h5m78 0h5m4 0h5m39 0h5m18 0h5m184 0h5m114 0h5m3 0h5m74 0h5m-2 0h5m-1121 1h5m83 0h5m4 0h5m-1 0h5m62 0h5m-3 0h5m81 0h5m2 0h5m113 0h5m51 0h5m27 0h5m116 0h5m3 0h5m29 0h5m5 0h5m47 0h5m-4 0h5m10 0h5m165 0h5m147 0h5m21 0h5m-1064 1h5m4 0h5m-3 0h5m61 0h5m64 0h5m192 0h5m109 0h5m35 0h5m112 0h5m14 0h5m49 0h5m-3 0h5m5 0h5m-2 0h5m63 0h5m5 0h5m18 0h5m30 0h5m83 0h5m100 0h5m0 0h5m-2 0h5m64 0h5m-2 0h5m-4 0h5m13 0h5m-1139 1h5m6 0h5m4 0h5m-3 0h5m51 0h5m6 0h5m39 0h5m37 0h5m7 0h5m0 0h5m259 0h5m117 0h5m49 0h5m58 0h5m11 0h5m68 0h5m3 0h5m332 0h5m-1151 1h5m26 0h5m71 0h5m0 0h5m-2 0h5m79 0h5m71 0h5m92 0h5m94 0h5m4 0h5m169 0h5m54 0h5m7 0h5m-4 0h5m104 0h5m219 0h5m71 0h5m7 0h5m-2 0h5m-4 0h5m-1134 1h5m4 0h5m0 0h5m69 0h5m-1 0h5m64 0h5m4 0h5m42 0h5m47 0h5m7 0h5m68 0h5m101 0h5m22 0h5m26 0h5m9 0h5m31 0h5m38 0h5m4 0h5m4 0h5m55 0h5m4 0h5m-1 0h5m-4 0h5m-4 0h5m44 0h5m33 0h5m-4 0h5m248 0h5m57 0h5m-1124 1h5m-3 0h5m9 0h5m68 0h5m80 0h5m96 0h5m193 0h5m5 0h5m60 0h5m5 0h5m84 0h5m50 0h5m0 0h5m-2 0h5m-1 0h5m74 0h5m36 0h5m143 0h5m10 0h5m44 0h5m83 0h5m-1111 1h5m77 0h5m-1 0h5m67 0h5m4 0h5m253 0h5m113 0h5m59 0h5m0 0h5m-1 0h5m39 0h5m15 0h5m0 0h5m87 0h5m6 0h5m62 0h5m10 0h5m-1 0h5m210 0h5m7 0h5m10 0h5m-1144 1h5m1 0h5m6 0h5m84 0h5m65 0h5m-2 0h5m5 0h5m14 0h5m117 0h5m0 0h5m12 0h5m130 0h5m107 0h5m43 0h5m46 0h5m-2 0h5m47 0h5m32 0h5m88 0h5m6 0h5m109 0h5m39 0h5m-1 0h5m32 0h5m26 0h5m-3 0h5m-1134 1h5m1 0h5m-3 0h5m-4 0h5m88 0h5m0 0h5m80 0h5m54 0h5m22 0h5m77 0h5m3 0h5m259 0h5m66 0h5m176 0h5m153 0h5m71 0h5m-1121 1h5m-2 0h5m15 0h5m-1 0h5m52 0h5m1 0h5m14 0h5m-4 0h5m68 0h5m3 0h5m159 0h5m-2 0h5m96 0h5m1 0h5m177 0h5m53 0h5m1 0h5m268 0h5m54 0h5m68 0h5m-2 0h5m-1 0h5m-1117 1h5m-4 0h5m6 0h5m42 0h5m20 0h5m7 0h5m146 0h5m0 0h5m45 0h5m166 0h5m18 0h5m41 0h5m88 0h5m51 0h5m6 0h5m1 0h5m39 0h5m94 0h5m35 0h5m137 0h5m-4 0h5m67 0h5m-3 0h5m5 0h5m2 0h5m-1147 1h5m-2 0h5m16 0h5m162 0h5m135 0h5m-1 0h5m25 0h5m122 0h5m53 0h5m8 0h5m60 0h5m1 0h5m8 0h5m62 0h5m-4 0h5m62 0h5m3 0h5m10 0h5m93 0h5m82 0h5m42 0h5m1 0h5m4 0h5m80 0h5m-1128 1h5m2 0h5m91 0h5m49 0h5m0 0h5m10 0h5m274 0h5m61 0h5m81 0h5m-3 0h5m4 0h5m6 0h5m59 0h5m1 0h5m297 0h5m12 0h5m2 0h5m2 0h5m70 0h5m12 0h5m-1138 1h5m12 0h5m49 0h5m22 0h5m70 0h5m0 0h5m85 0h5m142 0h5m83 0h5m144 0h5m38 0h5m-1 0h5m-3 0h5m8 0h5m165 0h5m147 0h5m0 0h5m66 0h5m-1 0h5m6 0h5m3 0h5m-3 0h5m-1141 1h5m-3 0h5m-2 0h5m163 0h5m37 0h5m106 0h5m137 0h5m-2 0h5m29 0h5m124 0h5m-4 0h5m7 0h5m52 0h5m-2 0h5m0 0h5m71 0h5m326 0h5m2 0h5m-2 0h5m-1127 1h5m3 0h5m0 0h5m72 0h5m-2 0h5m37 0h5m-2 0h5m24 0h5m2 0h5m149 0h5m63 0h5m53 0h5m6 0h5m148 0h5m2 0h5m58 0h5m-2 0h5m5 0h5m-3 0h5m4 0h5m47 0h5m26 0h5m71 0h5m9 0h5m59 0h5m147 0h5m9 0h5m2 0h5m4 0h5m-1161 1h5m7 0h5m104 0h5m87 0h5m121 0h5m118 0h5m3 0h5m9 0h5m79 0h5m3 0h5m51 0h5m1 0h5m15 0h5m42 0h5m102 0h5m-4 0h5m-1 0h5m171 0h5m133 0h5m2 0h5m2 0h5m-2 0h5m-3 0h5m-3 0h5m3 0h5m-1153 1h5m-2 0h5m-4 0h5m4 0h5m5 0h5m66 0h5m5 0h5m6 0h5m0 0h5m229 0h5m275 0h5m7 0h5m16 0h5m31 0h5m88 0h5m9 0h5m221 0h5m-2 0h5m4 0h5m64 0h5m6 0h5m4 0h5m-1137 1h5m4 0h5m-1 0h5m90 0h5m0 0h5m49 0h5m-2 0h5m379 0h5m80 0h5m52 0h5m-1 0h5m-2 0h5m2 0h5m4 0h5m56 0h5m262 0h5m72 0h5m-1044 1h5m0 0h5m0 0h5m1 0h5m73 0h5m3 0h5m248 0h5m24 0h5m53 0h5m21 0h5m56 0h5m20 0h5m-2 0h5m1 0h5m43 0h5m3 0h5m-2 0h5m1 0h5m11 0h5m61 0h5m1 0h5m226 0h5m78 0h5m-4 0h5m-1120 1h5m3 0h5m3 0h5m79 0h5m0 0h5m15 0h5m149 0h5m44 0h5m27 0h5m264 0h5m-3 0h5m0 0h5m63 0h5m-2 0h5m310 0h5m20 0h5m57 0h5m-4 0h5m12 0h5m-4 0h5m2 0h5m-1143 1h5m16 0h5m-4 0h5m-4 0h5m15 0h5m65 0h5m60 0h5m-4 0h5m120 0h5m52 0h5m-1 0h5m97 0h5m-1 0h5m4 0h5m157 0h5m11 0h5m51 0h5m397 0h5m10 0h5m-1 0h5m-1147 1h5m1 0h5m-1 0h5m53 0h5m3 0h5m24 0h5m100 0h5m55 0h5m95 0h5m3 0h5m73 0h5m15 0h5m51 0h5m137 0h5m26 0h5m10 0h5m-2 0h5m94 0h5m217 0h5m16 0h5m55 0h5m7 0h5m-1 0h5m0 0h5m-1157 1h5m100 0h5m-3 0h5m-1 0h5m40 0h5m15 0h5m304 0h5m182 0h5m40 0h5m8 0h5m71 0h5m4 0h5m56 0h5m251 0h5m-4 0h5m11 0h5m-1050 1h5m-2 0h5m9 0h5m86 0h5m52 0h5m4 0h5m196 0h5m104 0h5m56 0h5m-3 0h5m62 0h5m90 0h5m79 0h5m-1 0h5m149 0h5m3 0h5m61 0h5m-3 0h5m0 0h5m-2 0h5m9 0h5m-4 0h5m-1136 1h5m7 0h5m3 0h5m75 0h5m204 0h5m153 0h5m75 0h5m79 0h5m59 0h5m0 0h5m-1 0h5m-4 0h5m113 0h5m41 0h5m54 0h5m88 0h5m100 0h5m-4 0h5m-4 0h5m-1133 1h5m4 0h5m3 0h5m45 0h5m11 0h5m0 0h5m3 0h5m51 0h5m68 0h5m156 0h5m33 0h5m36 0h5m1 0h5m70 0h5m25 0h5m27 0h5m28 0h5m44 0h5m-2 0h5m5 0h5m-2 0h5m329 0h5m71 0h5m9 0h5m-3 0h5m-1128 1h5m5 0h5m71 0h5m1 0h5m53 0h5m-4 0h5m287 0h5m0 0h5m-4 0h5m-1 0h5m67 0h5m159 0h5m82 0h5m2 0h5m310 0h5m0 0h5m-3 0h5m6 0h5m-1135 1h5m58 0h5m114 0h5m-4 0h5m107 0h5m99 0h5m99 0h5m45 0h5m91 0h5m21 0h5m12 0h5m12 0h5m77 0h5m-3 0h5m81 0h5m138 0h5m31 0h5m52 0h5m14 0h5m-2 0h5m-1134 1h5m87 0h5m-2 0h5m67 0h5m167 0h5m110 0h5m54 0h5m101 0h5m83 0h5m61 0h5m103 0h5m29 0h5m86 0h5m19 0h5m76 0h5m1 0h5m-3 0h5m-1 0h5m-3 0h5m-1133 1h5m-4 0h5m-3 0h5m48 0h5m24 0h5m10 0h5m-3 0h5m160 0h5m28 0h5m31 0h5m15 0h5m27 0h5m234 0h5m2 0h5m55 0h5m66 0h5m107 0h5m1 0h5m89 0h5m70 0h5m-4 0h5m44 0h5m2 0h5m4 0h5m-3 0h5m4 0h5m-4 0h5m-1145 1h5m-4 0h5m3 0h5m4 0h5m1 0h5m65 0h5m4 0h5m3 0h5m70 0h5m79 0h5m199 0h5m167 0h5m42 0h5m7 0h5m1 0h5m-3 0h5m-2 0h5m79 0h5m34 0h5m38 0h5m51 0h5m187 0h5m-1137 1h5m3 0h5m1 0h5m0 0h5m66 0h5m20 0h5m-4 0h5m12 0h5m45 0h5m-3 0h5m2 0h5m74 0h5m3 0h5m98 0h5m56 0h5m23 0h5m-2 0h5m0 0h5m235 0h5m70 0h5m321 0h5m-1112 1h5m3 0h5m0 0h5m-3 0h5m68 0h5m-3 0h5m67 0h5m12 0h5m164 0h5m3 0h5m49 0h5m39 0h5m239 0h5m4 0h5m285 0h5m26 0h5m9 0h5m24 0h5m44 0h5m0 0h5m0 0h5m-1136 1h5m-4 0h5m-1 0h5m75 0h5m-2 0h5m-3 0h5m-2 0h5m2 0h5m55 0h5m4 0h5m5 0h5m268 0h5m7 0h5m15 0h5m39 0h5m34 0h5m69 0h5m45 0h5m-4 0h5m0 0h5m6 0h5m7 0h5m60 0h5m72 0h5m16 0h5m216 0h5m22 0h5m-1144 1h5m3 0h5m-3 0h5m-2 0h5m1 0h5m-4 0h5m64 0h5m11 0h5m67 0h5m7 0h5m31 0h5m5 0h5m27 0h5m82 0h5m0 0h5m97 0h5m11 0h5m54 0h5m6 0h5m70 0h5m13 0h5m54 0h5m2 0h5m-3 0h5m-4 0h5m2 0h5m163 0h5m95 0h5m126 0h5m-3 0h5m1 0h5m-2 0h5m-1 0h5m-1130 1h5m61 0h5m10 0h5m2 0h5m4 0h5m0 0h5m30 0h5m12 0h5m9 0h5m176 0h5m9 0h5m0 0h5m100 0h5m52 0h5m22 0h5m64 0h5m7 0h5m52 0h5m3 0h5m-4 0h5m1 0h5m166 0h5m150 0h5m1 0h5m64 0h5m9 0h5m-1140 1h5m-3 0h5m-4 0h5m97 0h5m120 0h5m24 0h5m21 0h5m111 0h5m68 0h5m216 0h5m6 0h5m7 0h5m176 0h5m20 0h5m40 0h5m53 0h5m21 0h5m86 0h5m-1144 1h5m25 0h5m56 0h5m12 0h5m-1 0h5m52 0h5m-3 0h5m17 0h5m8 0h5m59 0h5m91 0h5m96 0h5m3 0h5m72 0h5m6 0h5m-1 0h5m-4 0h5m100 0h5m7 0h5m8 0h5m1 0h5m64 0h5m113 0h5m147 0h5m46 0h5m26 0h5m6 0h5m-1140 1h5m79 0h5m4 0h5m1 0h5m71 0h5m127 0h5m47 0h5m98 0h5m193 0h5m29 0h5m0 0h5m170 0h5m148 0h5m14 0h5m-1053 1h5m5 0h5m0 0h5m83 0h5m76 0h5m-4 0h5m275 0h5m-1 0h5m160 0h5m-4 0h5m61 0h5m2 0h5m-1 0h5m77 0h5m8 0h5m19 0h5m42 0h5m58 0h5m3 0h5m107 0h5m-1062 1h5m5 0h5m9 0h5m48 0h5m6 0h5m10 0h5m-2 0h5m52 0h5m-4 0h5m16 0h5m76 0h5m112 0h5m67 0h5m2 0h5m163 0h5m6 0h5m63 0h5m23 0h5m140 0h5m0 0h5m-801 1h5m94 0h5m61 0h5m1 0h5m10 0h5m83 0h5m34 0h5m-4 0h5m226 0h5m57 0h5m1 0h5m7 0h5m4 0h5m278 0h5m21 0h5m83 0h5m-1133 1h5m-4 0h5m6 0h5m73 0h5m11 0h5m238 0h5m185 0h5m12 0h5m-1 0h5m-2 0h5m86 0h5m47 0h5m0 0h5m5 0h5m74 0h5m-809 1h5m2 0h5m-1 0h5m-4 0h5m-1 0h5m6 0h5m60 0h5m-3 0h5m11 0h5m-1 0h5m19 0h5m122 0h5m88 0h5m95 0h5m-2 0h5m241 0h5m87 0h5m67 0h5m6 0h5m7 0h5m101 0h5m36 0h5m94 0h5m-1153 1h5m24 0h5m76 0h5m0 0h5m19 0h5m143 0h5m75 0h5m97 0h5m64 0h5m2 0h5m106 0h5m39 0h5m18 0h5m7 0h5m204 0h5m16 0h5m32 0h5m28 0h5m2 0h5m4 0h5m73 0h5m-2 0h5m-2 0h5m4 0h5m-1 0h5m1 0h5m-1145 1h5m1 0h5m0 0h5m3 0h5m-4 0h5m-4 0h5m69 0h5m-2 0h5m3 0h5m71 0h5m97 0h5m20 0h5m59 0h5m54 0h5m93 0h5m28 0h5m147 0h5m80 0h5m143 0h5m93 0h5m62 0h5m-3 0h5m9 0h5m-1125 1h5m8 0h5m26 0h5m110 0h5m10 0h5m-1 0h5m5 0h5m42 0h5m22 0h5m180 0h5m4 0h5m6 0h5m137 0h5m76 0h5m84 0h5m87 0h5m146 0h5m4 0h5m5 0h5m28 0h5m43 0h5m-2 0h5m-1126 1h5m1 0h5m-2 0h5m62 0h5m-1 0h5m-1 0h5m4 0h5m26 0h5m37 0h5m-2 0h5m84 0h5m53 0h5m12 0h5m11 0h5m36 0h5m11 0h5m13 0h5m-1 0h5m12 0h5m-4 0h5m97 0h5m-4 0h5m73 0h5m41 0h5m8 0h5m3 0h5m-2 0h5m60 0h5m18 0h5m84 0h5m45 0h5m172 0h5m19 0h5m-1057 1h5m16 0h5m71 0h5m7 0h5m53 0h5m-1 0h5m93 0h5m99 0h5m109 0h5m-1 0h5m122 0h5m83 0h5m-3 0h5m-3 0h5m24 0h5m174 0h5m26 0h5m84 0h5m-1121 1h5m-1 0h5m8 0h5m-3 0h5m81 0h5m-3 0h5m207 0h5m24 0h5m110 0h5m-4 0h5m154 0h5m56 0h5m94 0h5m44 0h5m219 0h5m49 0h5m-2 0h5m19 0h5m-1131 1h5m2 0h5m81 0h5m61 0h5m58 0h5m238 0h5m30 0h5m46 0h5m24 0h5m93 0h5m88 0h5m-2 0h5m0 0h5m-2 0h5m84 0h5m-1 0h5m73 0h5m73 0h5m7 0h5m49 0h5m3 0h5m3 0h5m-1135 1h5m11 0h5m83 0h5m-3 0h5m38 0h5m26 0h5m11 0h5m102 0h5m16 0h5m-3 0h5m141 0h5m49 0h5m19 0h5m-4 0h5m85 0h5m54 0h5m-4 0h5m14 0h5m158 0h5m119 0h5m9 0h5m19 0h5m-2 0h5m36 0h5m26 0h5m5 0h5m3 0h5m-1132 1h5m3 0h5m40 0h5m24 0h5m0 0h5m-4 0h5m3 0h5m54 0h5m84 0h5m1 0h5m121 0h5m16 0h5m22 0h5m12 0h5m-3 0h5m-3 0h5m2 0h5m1 0h5m79 0h5m79 0h5m59 0h5m-1 0h5m5 0h5m144 0h5m134 0h5m30 0h5m75 0h5m-3 0h5m1 0h5m-1 0h5m3 0h5m-4 0h5m-1143 1h5m-4 0h5m-1 0h5m-1 0h5m-2 0h5m20 0h5m1 0h5m126 0h5m26 0h5m67 0h5m160 0h5m11 0h5m6 0h5m7 0h5m127 0h5m10 0h5m-2 0h5m-3 0h5m65 0h5m176 0h5m0 0h5m236 0h5m-1136 1h5m90 0h5m-1 0h5m6 0h5m51 0h5m132 0h5m72 0h5m57 0h5m-1 0h5m21 0h5m86 0h5m65 0h5m-3 0h5m56 0h5m-2 0h5m13 0h5m3 0h5m65 0h5m-3 0h5m-4 0h5m78 0h5m64 0h5m152 0h5m-1107 1h5m-4 0h5m-4 0h5m5 0h5m3 0h5m65 0h5m7 0h5m55 0h5m90 0h5m-4 0h5m67 0h5m119 0h5m86 0h5m89 0h5m51 0h5m10 0h5m-4 0h5m69 0h5m-3 0h5m90 0h5m-3 0h5m130 0h5m82 0h5m-1108 1h5m-1 0h5m76 0h5m-3 0h5m7 0h5m57 0h5m4 0h5m8 0h5m71 0h5m173 0h5m3 0h5m66 0h5m19 0h5m113 0h5m8 0h5m6 0h5m3 0h5m87 0h5m13 0h5m195 0h5m21 0h5m-3 0h5m27 0h5m50 0h5m9 0h5m-4 0h5m-4 0h5m-1054 1h5m11 0h5m-2 0h5m61 0h5m2 0h5m-1 0h5m77 0h5m92 0h5m9 0h5m72 0h5m3 0h5m2 0h5m126 0h5m29 0h5m70 0h5m-2 0h5m78 0h5m89 0h5m153 0h5m72 0h5m-1136 1h5m8 0h5m-3 0h5m20 0h5m10 0h5m41 0h5m172 0h5m426 0h5m59 0h5m34 0h5m174 0h5m45 0h5m4 0h5m-2 0h5m59 0h5m-1 0h5m-3 0h5m-1 0h5m-2 0h5m3 0h5m-1139 1h5m-2 0h5m5 0h5m90 0h5m46 0h5m16 0h5m8 0h5m75 0h5m-2 0h5m152 0h5m15 0h5m3 0h5m89 0h5m4 0h5m28 0h5m80 0h5m15 0h5m-4 0h5m31 0h5m44 0h5m79 0h5m20 0h5m-4 0h5m92 0h5m31 0h5m3 0h5m25 0h5m56 0h5m-1048 1h5m8 0h5m-3 0h5m0 0h5m3 0h5m82 0h5m55 0h5m89 0h5m0 0h5m91 0h5m12 0h5m-1 0h5m153 0h5m13 0h5m41 0h5m11 0h5m115 0h5m43 0h5m151 0h5m71 0h5m4 0h5m3 0h5m-3 0h5m-1140 1h5m-4 0h5m4 0h5m10 0h5m6 0h5m113 0h5m17 0h5m-4 0h5m-1 0h5m-4 0h5m1 0h5m149 0h5m15 0h5m228 0h5m30 0h5m0 0h5m56 0h5m185 0h5m-2 0h5m69 0h5m145 0h5m10 0h5m-3 0h5m1 0h5m-1128 1h5m-1 0h5m-3 0h5m1 0h5m52 0h5m9 0h5m-1 0h5m-4 0h5m73 0h5m146 0h5m78 0h5m3 0h5m18 0h5m87 0h5m11 0h5m89 0h5m55 0h5m1 0h5m0 0h5m36 0h5m24 0h5m0 0h5m6 0h5m1 0h5m123 0h5m182 0h5m7 0h5m-1057 1h5m12 0h5m93 0h5m251 0h5m9 0h5m18 0h5m130 0h5m1 0h5m57 0h5m0 0h5m86 0h5m-4 0h5m91 0h5m229 0h5m-1122 1h5m0 0h5m0 0h5m1 0h5m64 0h5m-2 0h5m0 0h5m16 0h5m336 0h5m-2 0h5m66 0h5m7 0h5m156 0h5m27 0h5m106 0h5m34 0h5m-4 0h5m17 0h5m3 0h5m46 0h5m154 0h5m-1136 1h5m3 0h5m-4 0h5m-1 0h5m94 0h5m238 0h5m0 0h5m220 0h5m42 0h5m2 0h5m7 0h5m56 0h5m70 0h5m3 0h5m3 0h5m-3 0h5m75 0h5m44 0h5m64 0h5m44 0h5m59 0h5m14 0h5m-1154 1h5m9 0h5m-1 0h5m17 0h5m64 0h5m12 0h5m2 0h5m30 0h5m7 0h5m21 0h5m55 0h5m1 0h5m15 0h5m76 0h5m96 0h5m0 0h5m67 0h5m0 0h5m-3 0h5m146 0h5m-1 0h5m4 0h5m-2 0h5m1 0h5m112 0h5m44 0h5m143 0h5m-3 0h5m4 0h5m-1048 1h5m4 0h5m2 0h5m13 0h5m49 0h5m-3 0h5m-2 0h5m6 0h5m-4 0h5m20 0h5m29 0h5m4 0h5m88 0h5m57 0h5m42 0h5m260 0h5m55 0h5m1 0h5m0 0h5m90 0h5m155 0h5m60 0h5m-1037 1h5m6 0h5m-4 0h5m-4 0h5m-4 0h5m7 0h5m54 0h5m9 0h5m3 0h5m24 0h5m24 0h5m4 0h5m6 0h5m78 0h5m56 0h5m17 0h5m33 0h5m57 0h5m14 0h5m12 0h5m39 0h5m161 0h5m2 0h5m-4 0h5m7 0h5m75 0h5m44 0h5m12 0h5m25 0h5m8 0h5m72 0h5m48 0h5m5 0h5m68 0h5m12 0h5m-1132 1h5m44 0h5m33 0h5m11 0h5m30 0h5m38 0h5m27 0h5m135 0h5m100 0h5m2 0h5m210 0h5m14 0h5m6 0h5m267 0h5m43 0h5m54 0h5m8 0h5m8 0h5m-2 0h5m6 0h5m-1144 1h5m1 0h5m38 0h5m35 0h5m52 0h5m66 0h5m120 0h5m41 0h5m69 0h5m14 0h5m103 0h5m50 0h5m49 0h5m-4 0h5m14 0h5m178 0h5m127 0h5m13 0h5m-3 0h5m20 0h5m51 0h5m5 0h5m-1140 1h5m20 0h5m57 0h5m2 0h5m24 0h5m132 0h5m1 0h5m4 0h5m68 0h5m7 0h5m18 0h5m30 0h5m9 0h5m30 0h5m-3 0h5m26 0h5m58 0h5m78 0h5m45 0h5m3 0h5m177 0h5m85 0h5m138 0h5m-1 0h5m5 0h5m-1154 1h5m6 0h5m2 0h5m82 0h5m6 0h5m147 0h5m206 0h5m47 0h5m45 0h5m20 0h5m92 0h5m7 0h5m5 0h5m24 0h5m56 0h5m237 0h5m0 0h5m32 0h5m3 0h5m7 0h5m0 0h5m-4 0h5m11 0h5m8 0h5m-1150 1h5m13 0h5m66 0h5m-3 0h5m7 0h5m157 0h5m42 0h5m14 0h5m29 0h5m98 0h5m65 0h5m83 0h5m4 0h5m10 0h5m42 0h5m2 0h5m5 0h5m-4 0h5m-3 0h5m86 0h5m218 0h5m67 0h5m14 0h5m9 0h5m-1143 1h5m15 0h5m11 0h5m50 0h5m8 0h5m0 0h5m2 0h5m58 0h5m10 0h5m11 0h5m54 0h5m5 0h5m27 0h5m45 0h5m78 0h5m18 0h5m22 0h5m43 0h5m3 0h5m149 0h5m-2 0h5m-3 0h5m0 0h5m33 0h5m47 0h5m108 0h5m63 0h5m10 0h5m41 0h5m4 0h5m59 0h5m9 0h5m-1118 1h5m64 0h5m5 0h5m65 0h5m7 0h5m2 0h5m-4 0h5m82 0h5m235 0h5m108 0h5m11 0h5m61 0h5m-3 0h5m-2 0h5m163 0h5m14 0h5m121 0h5m3 0h5m9 0h5m-3 0h5m-1056 1h5m4 0h5m2 0h5m83 0h5m1 0h5m78 0h5m12 0h5m56 0h5m9 0h5m117 0h5m65 0h5m83 0h5m57 0h5m23 0h5m41 0h5m-2 0h5m7 0h5m73 0h5m22 0h5m61 0h5m58 0h5m125 0h5m51 0h5m0 0h5m-3 0h5m-1134 1h5m41 0h5m14 0h5m0 0h5m0 0h5m0 0h5m5 0h5m0 0h5m-4 0h5m69 0h5m103 0h5m66 0h5m28 0h5m72 0h5m72 0h5m13 0h5m68 0h5m54 0h5m133 0h5m30 0h5m164 0h5m82 0h5m-1136 1h5m31 0h5m51 0h5m-1 0h5m20 0h5m68 0h5m31 0h5m71 0h5m31 0h5m95 0h5m5 0h5m17 0h5m-4 0h5m1 0h5m6 0h5m2 0h5m36 0h5m5 0h5m81 0h5m59 0h5m-3 0h5m3 0h5m-1 0h5m159 0h5m124 0h5m102 0h5m4 0h5m-4 0h5m10 0h5m-1139 1h5m5 0h5m7 0h5m-3 0h5m62 0h5m3 0h5m4 0h5m61 0h5m-4 0h5m191 0h5m94 0h5m5 0h5m6 0h5m7 0h5m25 0h5m91 0h5m64 0h5m74 0h5m49 0h5m29 0h5m18 0h5m109 0h5m107 0h5m-4 0h5m3 0h5m-1113 1h5m4 0h5m48 0h5m1 0h5m-1 0h5m-4 0h5m95 0h5m33 0h5m37 0h5m-3 0h5m90 0h5m114 0h5m5 0h5m47 0h5m90 0h5m58 0h5m-1 0h5m-3 0h5m82 0h5m90 0h5m138 0h5m-1 0h5m1 0h5m47 0h5m35 0h5m-1146 1h5m23 0h5m65 0h5m249 0h5m106 0h5m24 0h5m55 0h5m78 0h5m2 0h5m42 0h5m10 0h5m5 0h5m87 0h5m35 0h5m183 0h5m13 0h5m81 0h5m0 0h5m-1144 1h5m9 0h5m-3 0h5m90 0h5m76 0h5m67 0h5m11 0h5m71 0h5m41 0h5m62 0h5m2 0h5m156 0h5m45 0h5m6 0h5m1 0h5m-2 0h5m54 0h5m21 0h5m8 0h5m61 0h5m25 0h5m37 0h5m41 0h5m33 0h5m10 0h5m-1 0h5m10 0h5m3 0h5m42 0h5m-4 0h5m-1 0h5m3 0h5m-1127 1h5m1 0h5m-3 0h5m-3 0h5m131 0h5m188 0h5m2 0h5m5 0h5m-1 0h5m23 0h5m52 0h5m0 0h5m89 0h5m7 0h5m4 0h5m62 0h5m-4 0h5m4 0h5m47 0h5m3 0h5m-4 0h5m1 0h5m24 0h5m2 0h5m113 0h5m4 0h5m6 0h5m1 0h5m-1 0h5m135 0h5m75 0h5m14 0h5m-4 0h5m-1146 1h5m4 0h5m-3 0h5m1 0h5m3 0h5m35 0h5m29 0h5m5 0h5m-4 0h5m55 0h5m117 0h5m68 0h5m-3 0h5m82 0h5m-2 0h5m80 0h5m85 0h5m-1 0h5m2 0h5m57 0h5m41 0h5m29 0h5m17 0h5m71 0h5m-2 0h5m-2 0h5m139 0h5m69 0h5m16 0h5m-1 0h5m4 0h5m-1149 1h5m8 0h5m-3 0h5m-4 0h5m23 0h5m-4 0h5m55 0h5m-4 0h5m-1 0h5m24 0h5m5 0h5m41 0h5m266 0h5m71 0h5m24 0h5m80 0h5m33 0h5m6 0h5m1 0h5m-2 0h5m26 0h5m34 0h5m54 0h5m112 0h5m78 0h5m67 0h5m-1 0h5m3 0h5m-1115 1h5m2 0h5m26 0h5m38 0h5m1 0h5m59 0h5m-4 0h5m3 0h5m218 0h5m57 0h5m14 0h5m110 0h5m84 0h5m11 0h5m-2 0h5m7 0h5m40 0h5m355 0h5m4 0h5m-1117 1h5m27 0h5m19 0h5m21 0h5m-2 0h5m254 0h5m135 0h5m75 0h5m12 0h5m56 0h5m16 0h5m116 0h5m80 0h5m-1 0h5m26 0h5m20 0h5m70 0h5m49 0h5m39 0h5m-1 0h5m-1120 1h5m82 0h5m-1 0h5m2 0h5m2 0h5m53 0h5m103 0h5m171 0h5m10 0h5m62 0h5m107 0h5m8 0h5m35 0h5m5 0h5m-2 0h5m51 0h5m106 0h5m1 0h5m49 0h5m33 0h5m37 0h5m6 0h5m14 0h5m26 0h5m19 0h5m21 0h5m2 0h5m-1145 1h5m4 0h5m11 0h5m-3 0h5m62 0h5m-1 0h5m5 0h5m90 0h5m108 0h5m140 0h5m-4 0h5m3 0h5m48 0h5m21 0h5m142 0h5m1 0h5m2 0h5m20 0h5m40 0h5m9 0h5m77 0h5m12 0h5m29 0h5m108 0h5m1 0h5m64 0h5m-1120 1h5m89 0h5m-2 0h5m6 0h5m4 0h5m53 0h5m-3 0h5m59 0h5m396 0h5m8 0h5m12 0h5m9 0h5m16 0h5m4 0h5m3 0h5m59 0h5m17 0h5m29 0h5m15 0h5m51 0h5m155 0h5m39 0h5m-1140 1h5m5 0h5m84 0h5m9 0h5m6 0h5m71 0h5m70 0h5m93 0h5m39 0h5m10 0h5m54 0h5m13 0h5m46 0h5m109 0h5m60 0h5m26 0h5m85 0h5m197 0h5m67 0h5m4 0h5m4 0h5m-1146 1h5m18 0h5m-1 0h5m31 0h5m34 0h5m6 0h5m71 0h5m-4 0h5m8 0h5m205 0h5m48 0h5m2 0h5m-2 0h5m1 0h5m6 0h5m28 0h5m61 0h5m8 0h5m26 0h5m60 0h5m54 0h5m116 0h5m103 0h5m-1 0h5m-3 0h5m52 0h5m-4 0h5m24 0h5m-1089 1h5m3 0h5m10 0h5m70 0h5m0 0h5m68 0h5m6 0h5m6 0h5m45 0h5m93 0h5m124 0h5m32 0h5m27 0h5m9 0h5m105 0h5m10 0h5m9 0h5m54 0h5m25 0h5m5 0h5m6 0h5m75 0h5m0 0h5m22 0h5m27 0h5m61 0h5m17 0h5m84 0h5m13 0h5m-1145 1h5m92 0h5m97 0h5m-1 0h5m53 0h5m1 0h5m9 0h5m2 0h5m27 0h5m36 0h5m100 0h5m5 0h5m42 0h5m26 0h5m16 0h5m28 0h5m26 0h5m54 0h5m0 0h5m3 0h5m183 0h5m196 0h5m8 0h5m-1 0h5m0 0h5m-1 0h5m6 0h5m-1134 1h5m-3 0h5m3 0h5m64 0h5m10 0h5m-2 0h5m67 0h5m4 0h5m3 0h5m5 0h5m30 0h5m12 0h5m23 0h5m67 0h5m98 0h5m177 0h5m-3 0h5m8 0h5m33 0h5m4 0h5m4 0h5m23 0h5m106 0h5m26 0h5m-3 0h5m-4 0h5m42 0h5m95 0h5m14 0h5m10 0h5m68 0h5m-1146 1h5m2 0h5m-3 0h5m11 0h5m5 0h5m3 0h5m36 0h5m12 0h5m-3 0h5m2 0h5m12 0h5m16 0h5m16 0h5m27 0h5m91 0h5m64 0h5m55 0h5m34 0h5m70 0h5m25 0h5m69 0h5m18 0h5m14 0h5m11 0h5m-4 0h5m23 0h5m40 0h5m46 0h5m11 0h5m122 0h5m72 0h5m4 0h5m65 0h5m-1107 1h5m44 0h5m7 0h5m0 0h5m42 0h5m29 0h5m-1 0h5m16 0h5m-3 0h5m0 0h5m-3 0h5m155 0h5m6 0h5m78 0h5m19 0h5m58 0h5m-3 0h5m49 0h5m32 0h5m40 0h5m9 0h5m2 0h5m77 0h5m1 0h5m3 0h5m4 0h5m53 0h5m47 0h5m134 0h5m23 0h5m23 0h5m1 0h5m-1113 1h5m-2 0h5m65 0h5m2 0h5m14 0h5m-3 0h5m26 0h5m15 0h5m9 0h5m-1 0h5m79 0h5m84 0h5m4 0h5m88 0h5m102 0h5m69 0h5m5 0h5m8 0h5m34 0h5m6 0h5m-4 0h5m117 0h5m10 0h5m184 0h5m69 0h5m10 0h5m0 0h5m-4 0h5m-1144 1h5m5 0h5m12 0h5m57 0h5m11 0h5m-2 0h5m0 0h5m77 0h5m54 0h5m81 0h5m27 0h5m49 0h5m69 0h5m88 0h5m20 0h5m6 0h5m79 0h5m1 0h5m-1 0h5m167 0h5m38 0h5m26 0h5m134 0h5m15 0h5m2 0h5m-2 0h5m-1146 1h5m2 0h5m12 0h5m7 0h5m56 0h5m-2 0h5m19 0h5m44 0h5m10 0h5m36 0h5m41 0h5m7 0h5m7 0h5m168 0h5m0 0h5m68 0h5m19 0h5m-2 0h5m10 0h5m34 0h5m1 0h5m4 0h5m-4 0h5m4 0h5m46 0h5m4 0h5m0 0h5m-1 0h5m38 0h5m111 0h5m27 0h5m63 0h5m16 0h5m46 0h5m-4 0h5m84 0h5m-1072 1h5m12 0h5m-3 0h5m-1 0h5m11 0h5m43 0h5m6 0h5m0 0h5m15 0h5m69 0h5m2 0h5m89 0h5m0 0h5m10 0h5m23 0h5m2 0h5m34 0h5m1 0h5m101 0h5m59 0h5m67 0h5m4 0h5m47 0h5m27 0h5m92 0h5m103 0h5m13 0h5m5 0h5m69 0h5m-3 0h5m14 0h5m-1131 1h5m43 0h5m36 0h5m9 0h5m-4 0h5m-2 0h5m68 0h5m41 0h5m24 0h5m92 0h5m58 0h5m13 0h5m15 0h5m24 0h5m-3 0h5m37 0h5m84 0h5m5 0h5m-4 0h5m66 0h5m-4 0h5m-3 0h5m-3 0h5m0 0h5m18 0h5m49 0h5m-4 0h5m38 0h5m33 0h5m0 0h5m76 0h5m5 0h5m18 0h5m119 0h5m-1119 1h5m0 0h5m2 0h5m66 0h5m7 0h5m-2 0h5m66 0h5m22 0h5m75 0h5m2 0h5m47 0h5m3 0h5m29 0h5m77 0h5m20 0h5m53 0h5m47 0h5m98 0h5m-1 0h5m4 0h5m76 0h5m3 0h5m50 0h5m0 0h5m17 0h5m-3 0h5m150 0h5m-4 0h5m71 0h5m9 0h5m1 0h5m-1151 1h5m-3 0h5m10 0h5m-2 0h5m44 0h5m23 0h5m7 0h5m3 0h5m15 0h5m32 0h5m-2 0h5m58 0h5m32 0h5m-3 0h5m41 0h5m-4 0h5m17 0h5m11 0h5m53 0h5m43 0h5m11 0h5m55 0h5m2 0h5m23 0h5m128 0h5m7 0h5m44 0h5m15 0h5m49 0h5m81 0h5m52 0h5m40 0h5m33 0h5m0 0h5m52 0h5m-1124 1h5m45 0h5m36 0h5m-2 0h5m1 0h5m55 0h5m-1 0h5m1 0h5m0 0h5m0 0h5m32 0h5m-2 0h5m19 0h5m36 0h5m78 0h5m26 0h5m53 0h5m12 0h5m21 0h5m7 0h5m22 0h5m2 0h5m53 0h5m23 0h5m22 0h5m35 0h5m16 0h5m149 0h5m4 0h5m229 0h5m6 0h5m-1125 1h5m-1 0h5m-3 0h5m-4 0h5m-4 0h5m64 0h5m0 0h5m9 0h5m-1 0h5m-3 0h5m0 0h5m102 0h5m12 0h5m104 0h5m4 0h5m42 0h5m48 0h5m9 0h5m33 0h5m18 0h5m3 0h5m77 0h5m1 0h5m-1 0h5m-4 0h5m53 0h5m4 0h5m4 0h5m72 0h5m10 0h5m4 0h5m75 0h5m34 0h5m57 0h5m13 0h5m94 0h5m17 0h5m-1 0h5m-1155 1h5m10 0h5m-1 0h5m95 0h5m0 0h5m4 0h5m73 0h5m62 0h5m7 0h5m96 0h5m12 0h5m63 0h5m1 0h5m25 0h5m65 0h5m59 0h5m52 0h5m10 0h5m53 0h5m15 0h5m3 0h5m52 0h5m13 0h5m10 0h5m0 0h5m3 0h5m19 0h5m32 0h5m57 0h5m5 0h5m82 0h5m6 0h5m-1134 1h5m-2 0h5m8 0h5m3 0h5m17 0h5m32 0h5m8 0h5m-2 0h5m-4 0h5m5 0h5m58 0h5m8 0h5m80 0h5m42 0h5m77 0h5m61 0h5m-1 0h5m-1 0h5m115 0h5m2 0h5m8 0h5m83 0h5m1 0h5m1 0h5m19 0h5m-4 0h5m16 0h5m-4 0h5m65 0h5m48 0h5m-3 0h5m-1 0h5m51 0h5m49 0h5m-3 0h5m91 0h5m34 0h5m-2 0h5m-1161 1h5m10 0h5m74 0h5m14 0h5m1 0h5m0 0h5m9 0h5m48 0h5m0 0h5m11 0h5m54 0h5m68 0h5m6 0h5m130 0h5m40 0h5m173 0h5m5 0h5m1 0h5m-4 0h5m15 0h5m154 0h5m54 0h5m25 0h5m45 0h5m74 0h5m5 0h5m-1125 1h5m-2 0h5m14 0h5m60 0h5m-4 0h5m9 0h5m1 0h5m8 0h5m15 0h5m8 0h5m19 0h5m-1 0h5m89 0h5m22 0h5m142 0h5m13 0h5m44 0h5m20 0h5m2 0h5m86 0h5m-2 0h5m-4 0h5m29 0h5m11 0h5m5 0h5m-4 0h5m2 0h5m2 0h5m1 0h5m51 0h5m48 0h5m49 0h5m30 0h5m10 0h5m28 0h5m-3 0h5m57 0h5m-1 0h5m67 0h5m19 0h5m0 0h5m-1139 1h5m72 0h5m13 0h5m54 0h5m22 0h5m19 0h5m61 0h5m73 0h5m46 0h5m-2 0h5m142 0h5m32 0h5m7 0h5m1 0h5m23 0h5m53 0h5m-1 0h5m-4 0h5m-4 0h5m-2 0h5m-2 0h5m-3 0h5m-1 0h5m29 0h5m13 0h5m9 0h5m0 0h5m140 0h5m46 0h5m52 0h5m17 0h5m45 0h5m-4 0h5m13 0h5m-4 0h5m4 0h5m-1145 1h5m1 0h5m2 0h5m38 0h5m32 0h5m5 0h5m-2 0h5m-2 0h5m-4 0h5m-1 0h5m28 0h5m86 0h5m102 0h5m10 0h5m-3 0h5m3 0h5m12 0h5m45 0h5m-1 0h5m10 0h5m0 0h5m19 0h5m34 0h5m30 0h5m70 0h5m0 0h5m60 0h5m-2 0h5m-1 0h5m33 0h5m27 0h5m0 0h5m91 0h5m-2 0h5m0 0h5m100 0h5m37 0h5m68 0h5m17 0h5m-1126 1h5m11 0h5m7 0h5m30 0h5m13 0h5m1 0h5m49 0h5m158 0h5m141 0h5m3 0h5m93 0h5m52 0h5m13 0h5m65 0h5m33 0h5m38 0h5m23 0h5m53 0h5m-2 0h5m-1 0h5m-2 0h5m39 0h5m6 0h5m16 0h5m1 0h5m18 0h5m31 0h5m19 0h5m-2 0h5m62 0h5m10 0h5m-1160 1h5m15 0h5m-4 0h5m3 0h5m-4 0h5m-1 0h5m22 0h5m35 0h5m11 0h5m48 0h5m20 0h5m-3 0h5m10 0h5m62 0h5m25 0h5m9 0h5m11 0h5m41 0h5m87 0h5m15 0h5m17 0h5m119 0h5m3 0h5m-3 0h5m61 0h5m-4 0h5m-1 0h5m-3 0h5m164 0h5m103 0h5m35 0h5m2 0h5m10 0h5m30 0h5m33 0h5m1 0h5m-3 0h5m-1153 1h5m13 0h5m1 0h5m1 0h5m70 0h5m10 0h5m-3 0h5m-1 0h5m-1 0h5m113 0h5m4 0h5m22 0h5m1 0h5m37 0h5m14 0h5m21 0h5m48 0h5m22 0h5m35 0h5m45 0h5m18 0h5m101 0h5m12 0h5m22 0h5m0 0h5m4 0h5m7 0h5m26 0h5m31 0h5m2 0h5m42 0h5m27 0h5m12 0h5m66 0h5m26 0h5m-1 0h5m30 0h5m67 0h5m20 0h5m-4 0h5m-2 0h5m-1146 1h5m0 0h5m9 0h5m21 0h5m11 0h5m-3 0h5m8 0h5m-4 0h5m5 0h5m0 0h5m-4 0h5m48 0h5m14 0h5m12 0h5m35 0h5m1 0h5m37 0h5m60 0h5m15 0h5m17 0h5m10 0h5m1 0h5m47 0h5m-1 0h5m51 0h5m5 0h5m3 0h5m22 0h5m40 0h5m42 0h5m5 0h5m10 0h5m25 0h5m77 0h5m24 0h5m65 0h5m-1 0h5m80 0h5m42 0h5m0 0h5m5 0h5m81 0h5m-1 0h5m3 0h5m-1138 1h5m-3 0h5m9 0h5m0 0h5m-3 0h5m-2 0h5m1 0h5m53 0h5m7 0h5m-1 0h5m56 0h5m3 0h5m0 0h5m16 0h5m85 0h5m82 0h5m16 0h5m69 0h5m7 0h5m-4 0h5m5 0h5m52 0h5m10 0h5m23 0h5m39 0h5m5 0h5m48 0h5m-4 0h5m61 0h5m18 0h5m27 0h5m3 0h5m-3 0h5m43 0h5m161 0h5m0 0h5m72 0h5m3 0h5m-1135 1h5m-4 0h5m0 0h5m0 0h5m-1 0h5m13 0h5m22 0h5m12 0h5m3 0h5m24 0h5m68 0h5m0 0h5m57 0h5m4 0h5m89 0h5m2 0h5m82 0h5m31 0h5m64 0h5m2 0h5m140 0h5m16 0h5m57 0h5m18 0h5m87 0h5m3 0h5m16 0h5m118 0h5m49 0h5m9 0h5m-1126 1h5m6 0h5m56 0h5m2 0h5m-3 0h5m33 0h5m29 0h5m16 0h5m9 0h5m109 0h5m10 0h5m32 0h5m34 0h5m26 0h5m26 0h5m72 0h5m-2 0h5m48 0h5m17 0h5m-3 0h5m7 0h5m-3 0h5m18 0h5m9 0h5m17 0h5m3 0h5m-4 0h5m-2 0h5m29 0h5m32 0h5m-2 0h5m88 0h5m1 0h5m15 0h5m44 0h5m71 0h5m1 0h5m33 0h5m40 0h5m-1 0h5m5 0h5m-1133 1h5m-4 0h5m-3 0h5m-4 0h5m19 0h5m28 0h5m2 0h5m16 0h5m1 0h5m78 0h5m46 0h5m76 0h5m1 0h5m11 0h5m87 0h5m16 0h5m26 0h5m37 0h5m16 0h5m68 0h5m30 0h5m27 0h5m9 0h5m4 0h5m3 0h5m31 0h5m49 0h5m18 0h5m17 0h5m0 0h5m30 0h5m72 0h5m54 0h5m-4 0h5m5 0h5m1 0h5m-2 0h5m63 0h5m13 0h5m-1131 1h5m-4 0h5m-2 0h5m44 0h5m3 0h5m27 0h5m0 0h5m1 0h5m-3 0h5m54 0h5m25 0h5m14 0h5m-3 0h5m51 0h5m26 0h5m11 0h5m14 0h5m2 0h5m-2 0h5m69 0h5m29 0h5m6 0h5m3 0h5m86 0h5m5 0h5m-1 0h5m53 0h5m2 0h5m15 0h5m0 0h5m27 0h5m37 0h5m35 0h5m3 0h5m36 0h5m31 0h5m5 0h5m62 0h5m17 0h5m21 0h5m25 0h5m11 0h5m0 0h5m6 0h5m38 0h5m3 0h5m0 0h5m-1 0h5m-3 0h5m-1129 1h5m3 0h5m0 0h5m5 0h5m-4 0h5m65 0h5m5 0h5m115 0h5m34 0h5m1 0h5m0 0h5m8 0h5m18 0h5m28 0h5m10 0h5m100 0h5m-3 0h5m16 0h5m42 0h5m116 0h5m-1 0h5m-1 0h5m32 0h5m5 0h5m4 0h5m52 0h5m18 0h5m52 0h5m8 0h5m14 0h5m1 0h5m6 0h5m72 0h5m46 0h5m-3 0h5m18 0h5m35 0h5m15 0h5m-1120 1h5m7 0h5m19 0h5m8 0h5m7 0h5m29 0h5m1 0h5m9 0h5m98 0h5m21 0h5m5 0h5m25 0h5m18 0h5m118 0h5m3 0h5m18 0h5m-3 0h5m11 0h5m-4 0h5m21 0h5m23 0h5m-4 0h5m93 0h5m24 0h5m5 0h5m26 0h5m-2 0h5m-3 0h5m-2 0h5m9 0h5m33 0h5m18 0h5m4 0h5m132 0h5m1 0h5m99 0h5m13 0h5m46 0h5m2 0h5m-2 0h5m-2 0h5m-1132 1h5m14 0h5m82 0h5m0 0h5m0 0h5m0 0h5m23 0h5m4 0h5m17 0h5m37 0h5m42 0h5m17 0h5m15 0h5m151 0h5m94 0h5m64 0h5m4 0h5m23 0h5m23 0h5m1 0h5m-4 0h5m1 0h5m87 0h5m14 0h5m6 0h5m11 0h5m109 0h5m40 0h5m47 0h5m55 0h5m17 0h5m-1063 1h5m12 0h5m48 0h5m22 0h5m-1 0h5m1 0h5m42 0h5m-4 0h5m107 0h5m-2 0h5m-4 0h5m5 0h5m18 0h5m17 0h5m36 0h5m10 0h5m13 0h5m-4 0h5m-3 0h5m55 0h5m13 0h5m12 0h5m10 0h5m44 0h5m-2 0h5m19 0h5m23 0h5m3 0h5m8 0h5m10 0h5m45 0h5m9 0h5m14 0h5m82 0h5m13 0h5m12 0h5m49 0h5m68 0h5m23 0h5m23 0h5m2 0h5m-3 0h5m-1151 1h5m12 0h5m15 0h5m-4 0h5m0 0h5m6 0h5m7 0h5m13 0h5m6 0h5m11 0h5m1 0h5m-4 0h5m32 0h5m19 0h5m8 0h5m98 0h5m11 0h5m45 0h5m22 0h5m56 0h5m45 0h5m39 0h5m-4 0h5m3 0h5m-1 0h5m21 0h5m6 0h5m-4 0h5m59 0h5m-1 0h5m27 0h5m12 0h5m0 0h5m-3 0h5m8 0h5m21 0h5m49 0h5m45 0h5m24 0h5m-4 0h5m5 0h5m3 0h5m-4 0h5m0 0h5m132 0h5m11 0h5m29 0h5m-3 0h5m21 0h5m-4 0h5m-2 0h5m3 0h5m0 0h5m-1151 1h5m25 0h5m-4 0h5m18 0h5m-3 0h5m43 0h5m80 0h5m8 0h5m-2 0h5m1 0h5m41 0h5m22 0h5m26 0h5m9 0h5m8 0h5m-3 0h5m92 0h5m9 0h5m33 0h5m58 0h5m9 0h5m76 0h5m13 0h5m37 0h5m-4 0h5m-3 0h5m8 0h5m9 0h5m42 0h5m43 0h5m-2 0h5m95 0h5m5 0h5m18 0h5m43 0h5m7 0h5m17 0h5m67 0h5m-4 0h5m-1 0h5m-2 0h5m3 0h5m-3 0h5m3 0h5m-1129 1h5m89 0h5m140 0h5m29 0h5m115 0h5m18 0h5m372 0h5m282 0h5m35 0h5"/>
<line x1="474" y1="182" x2="474" y2="227.5" stroke="#777" stroke-width="1.2"/>
<line x1="474" y1="234.5" x2="474" y2="281" stroke="#777" stroke-width="1.2"/>
<line x1="473.4" y1="280.5" x2="766" y2="280.5" stroke="#666" stroke-width="1.2"/>
<text x="466.90" y="214.04" font-size="13.40" text-anchor="start" fill="#222" transform="rotate(-90 466.90 214.04)">C1</text>
<text x="466.90" y="266.54" font-size="13.40" text-anchor="start" fill="#222" transform="rotate(-90 466.90 266.54)">C2</text>
<text x="470.67" y="296.80" font-size="12.00" text-anchor="start" fill="#222">0</text>
<text x="524.12" y="296.80" font-size="12.00" text-anchor="start" fill="#222">0.2</text>
<text x="582.40" y="296.80" font-size="12.00" text-anchor="start" fill="#222">0.4</text>
<text x="640.89" y="296.80" font-size="12.00" text-anchor="start" fill="#222">0.6</text>
<text x="699.26" y="296.80" font-size="12.00" text-anchor="start" fill="#222">0.8</text>
<text x="762.52" y="296.80" font-size="12.00" text-anchor="start" fill="#222">1</text>
<text x="595.08" y="314.20" font-size="13.90" text-anchor="start" fill="#222">Time (s)</text>
<line x1="484.3" y1="322.6" x2="484.3" y2="379.7" stroke="#999" stroke-width="1"/>
<line x1="484" y1="379.4" x2="764" y2="379.4" stroke="#999" stroke-width="1"/>
<line x1="577.6" y1="379" x2="577.6" y2="376.5" stroke="#999" stroke-width="1"/>
<line x1="670.9" y1="379" x2="670.9" y2="376.5" stroke="#999" stroke-width="1"/>
<line x1="764.2" y1="379" x2="764.2" y2="376.5" stroke="#999" stroke-width="1"/>
<line x1="484.3" y1="341.2" x2="487" y2="341.2" stroke="#999" stroke-width="1"/>
<polyline fill="none" stroke="#444" stroke-width="1.9" stroke-linejoin="round" points="484.3,372.3 485.6,360.8 487.5,353.0 489.5,356.9 491.4,364.0 493.3,366.9 495.2,365.3 497.2,365.9 499.1,364.3 501.7,358.2 505.6,349.1 509.1,344.0 511.4,349.1 514.0,358.2 516.4,362.7 518.4,367.2 522.2,369.8 527.4,373.0 533.9,375.5 539.0,376.4 544.2,377.5 550.5,378.8 563.4,379.2 596.3,379.4 710.1,379.4"/>
<text x="463.39" y="346.55" font-size="12.30" text-anchor="start" fill="#222">0.5</text>
<text x="473.67" y="383.80" font-size="12.30" text-anchor="start" fill="#222">0</text>
<text x="480.97" y="396.00" font-size="12.00" text-anchor="start" fill="#222">0</text>
<text x="570.94" y="396.00" font-size="12.00" text-anchor="start" fill="#222">50</text>
<text x="660.70" y="396.00" font-size="12.00" text-anchor="start" fill="#222">100</text>
<text x="754.00" y="396.00" font-size="12.00" text-anchor="start" fill="#222">150</text>
<text x="458.50" y="365.11" font-size="13.50" text-anchor="start" fill="#222" transform="rotate(-90 458.50 365.11)">PSD</text>
<text x="577.49" y="413.50" font-size="13.80" text-anchor="start" fill="#222">Frequency (hz)</text>
<text x="554.01" y="436.70" font-size="14.60" text-anchor="start" fill="#000">Correlation = 0.75</text>
<text x="547.29" y="454.10" font-size="14.60" text-anchor="start" fill="#000">Magnitude = 0.0855</text>
<text x="478.78" y="471.50" font-size="14.60" text-anchor="start" fill="#000">Excitatory firing rate of Cluster 1 = 6.4 Hz</text>
<text x="478.78" y="488.90" font-size="14.60" text-anchor="start" fill="#000">Excitatory firing rate of Cluster 2 = 3.4 Hz</text>
<text x="0.41" y="559.60" font-size="17.20" text-anchor="start" font-weight="bold" fill="#000">C</text>
<text x="190.92" y="576.40" font-size="19.60" text-anchor="start" font-weight="bold" fill="#000">Correlation</text>
<polygon points="346.4,629.4 341.1,626.4 341.1,632.4" fill="#cfcfcf"/>
<polygon points="346.7,623.6 341.5,620.6 341.5,626.6" fill="#cfcfcf"/>
<polygon points="252.8,652.1 247.6,649.1 247.6,655.1" fill="#cfcfcf"/>
<polygon points="253.7,646.2 248.4,643.2 248.4,649.2" fill="#cfcfcf"/>
<polygon points="253.0,640.4 247.7,637.4 247.7,643.4" fill="#cfcfcf"/>
<polygon points="244.7,649.4 239.5,646.4 239.5,652.4" fill="#cfcfcf"/>
<polygon points="243.9,643.6 238.6,640.6 238.6,646.6" fill="#cfcfcf"/>
<polygon points="244.1,637.7 238.8,634.7 238.8,640.7" fill="#cfcfcf"/>
<polygon points="205.4,658.8 200.1,655.8 200.1,661.8" fill="#cfcfcf"/>
<polygon points="205.5,652.9 200.3,649.9 200.3,655.9" fill="#cfcfcf"/>
<polygon points="205.8,647.0 200.6,644.0 200.6,650.0" fill="#cfcfcf"/>
<polygon points="159.2,684.1 153.9,681.1 153.9,687.1" fill="#cfcfcf"/>
<polygon points="159.6,678.2 154.3,675.2 154.3,681.2" fill="#cfcfcf"/>
<polygon points="158.8,672.3 153.6,669.3 153.6,675.3" fill="#cfcfcf"/>
<polygon points="158.6,666.5 153.4,663.5 153.4,669.5" fill="#cfcfcf"/>
<polygon points="137.7,682.7 132.5,679.7 132.5,685.7" fill="#cfcfcf"/>
<polygon points="137.6,676.9 132.3,673.9 132.3,679.9" fill="#cfcfcf"/>
<polygon points="137.3,671.0 132.0,668.0 132.0,674.0" fill="#cfcfcf"/>
<polygon points="121.9,696.1 116.6,693.1 116.6,699.1" fill="#cfcfcf"/>
<polygon points="121.4,690.2 116.1,687.2 116.1,693.2" fill="#cfcfcf"/>
<polygon points="122.1,684.3 116.8,681.3 116.8,687.3" fill="#cfcfcf"/>
<polygon points="122.3,678.5 117.0,675.5 117.0,681.5" fill="#cfcfcf"/>
<polygon points="112.3,705.4 107.0,702.4 107.0,708.4" fill="#cfcfcf"/>
<polygon points="111.8,699.5 106.6,696.5 106.6,702.5" fill="#cfcfcf"/>
<polygon points="112.6,693.7 107.4,690.7 107.4,696.7" fill="#cfcfcf"/>
<polygon points="102.6,729.4 97.3,726.4 97.3,732.4" fill="#cfcfcf"/>
<polygon points="102.5,723.5 97.3,720.5 97.3,726.5" fill="#cfcfcf"/>
<polygon points="102.0,717.6 96.7,714.6 96.7,720.6" fill="#cfcfcf"/>
<polygon points="102.6,711.8 97.3,708.8 97.3,714.8" fill="#cfcfcf"/>
<polygon points="101.7,705.9 96.4,702.9 96.4,708.9" fill="#cfcfcf"/>
<polygon points="101.8,700.1 96.5,697.1 96.5,703.1" fill="#cfcfcf"/>
<polygon points="102.1,694.2 96.8,691.2 96.8,697.2" fill="#cfcfcf"/>
<polygon points="94.2,742.7 89.0,739.7 89.0,745.7" fill="#cfcfcf"/>
<polygon points="93.7,736.8 88.5,733.8 88.5,739.8" fill="#cfcfcf"/>
<polygon points="93.9,731.0 88.7,728.0 88.7,734.0" fill="#cfcfcf"/>
<polygon points="94.2,725.1 88.9,722.1 88.9,728.1" fill="#cfcfcf"/>
<polygon points="94.1,719.2 88.9,716.2 88.9,722.2" fill="#cfcfcf"/>
<polygon points="93.6,713.4 88.3,710.4 88.3,716.4" fill="#cfcfcf"/>
<polygon points="93.2,707.5 88.0,704.5 88.0,710.5" fill="#cfcfcf"/>
<polygon points="93.2,701.7 87.9,698.7 87.9,704.7" fill="#cfcfcf"/>
<polygon points="83.7,796.0 78.4,793.0 78.4,799.0" fill="#cfcfcf"/>
<polygon points="83.9,790.1 78.7,787.1 78.7,793.1" fill="#cfcfcf"/>
<polygon points="84.5,784.3 79.3,781.3 79.3,787.3" fill="#cfcfcf"/>
<polygon points="83.7,778.4 78.4,775.4 78.4,781.4" fill="#cfcfcf"/>
<polygon points="83.9,772.5 78.7,769.5 78.7,775.5" fill="#cfcfcf"/>
<polygon points="83.6,766.7 78.4,763.7 78.4,769.7" fill="#cfcfcf"/>
<polygon points="84.7,760.8 79.4,757.8 79.4,763.8" fill="#cfcfcf"/>
<polygon points="84.1,755.0 78.8,752.0 78.8,758.0" fill="#cfcfcf"/>
<polygon points="83.6,749.1 78.4,746.1 78.4,752.1" fill="#cfcfcf"/>
<polygon points="83.8,743.2 78.6,740.2 78.6,746.2" fill="#cfcfcf"/>
<polygon points="83.7,737.4 78.4,734.4 78.4,740.4" fill="#cfcfcf"/>
<polygon points="84.6,731.5 79.4,728.5 79.4,734.5" fill="#cfcfcf"/>
<polygon points="83.7,725.6 78.4,722.6 78.4,728.6" fill="#cfcfcf"/>
<polygon points="83.5,719.8 78.3,716.8 78.3,722.8" fill="#cfcfcf"/>
<polygon points="84.7,713.9 79.4,710.9 79.4,716.9" fill="#cfcfcf"/>
<polygon points="74.7,838.6 69.5,835.6 69.5,841.6" fill="#cfcfcf"/>
<polygon points="74.5,832.8 69.2,829.8 69.2,835.8" fill="#cfcfcf"/>
<polygon points="75.1,826.9 69.8,823.9 69.8,829.9" fill="#cfcfcf"/>
<polygon points="75.1,821.1 69.9,818.1 69.9,824.1" fill="#cfcfcf"/>
<polygon points="75.1,815.2 69.8,812.2 69.8,818.2" fill="#cfcfcf"/>
<polygon points="74.4,809.3 69.1,806.3 69.1,812.3" fill="#cfcfcf"/>
<polygon points="74.5,803.5 69.3,800.5 69.3,806.5" fill="#cfcfcf"/>
<polygon points="74.1,797.6 68.9,794.6 68.9,800.6" fill="#cfcfcf"/>
<polygon points="74.4,791.7 69.1,788.7 69.1,794.7" fill="#cfcfcf"/>
<polygon points="75.2,785.9 70.0,782.9 70.0,788.9" fill="#cfcfcf"/>
<polygon points="75.2,780.0 70.0,777.0 70.0,783.0" fill="#cfcfcf"/>
<polygon points="75.2,774.1 70.0,771.1 70.0,777.1" fill="#cfcfcf"/>
<polygon points="74.3,768.3 69.1,765.3 69.1,771.3" fill="#cfcfcf"/>
<polygon points="74.3,762.4 69.1,759.4 69.1,765.4" fill="#cfcfcf"/>
<polygon points="74.8,756.6 69.6,753.6 69.6,759.6" fill="#cfcfcf"/>
<polygon points="75.1,750.7 69.8,747.7 69.8,753.7" fill="#cfcfcf"/>
<polygon points="74.9,744.8 69.6,741.8 69.6,747.8" fill="#cfcfcf"/>
<polygon points="74.2,739.0 68.9,736.0 68.9,742.0" fill="#cfcfcf"/>
<polygon points="75.8,782.4 70.6,779.4 70.6,785.4" fill="#cfcfcf"/>
<polygon points="77.2,806.9 72.0,803.9 72.0,809.9" fill="#cfcfcf"/>
<polygon points="66.6,817.5 61.4,814.5 61.4,820.5" fill="#cfcfcf"/>
<polygon points="75.1,834.9 69.8,831.9 69.8,837.9" fill="#cfcfcf"/>
<polygon points="65.9,832.3 60.6,829.3 60.6,835.3" fill="#cfcfcf"/>
<polygon points="76.1,836.0 70.9,833.0 70.9,839.0" fill="#cfcfcf"/>
<polygon points="74.2,821.5 68.9,818.5 68.9,824.5" fill="#cfcfcf"/>
<polygon points="72.5,785.1 67.2,782.1 67.2,788.1" fill="#cfcfcf"/>
<polygon points="78.5,828.7 73.3,825.7 73.3,831.7" fill="#cfcfcf"/>
<polygon points="65.9,843.2 60.6,840.2 60.6,846.2" fill="#cfcfcf"/>
<polygon points="75.6,820.7 70.3,817.7 70.3,823.7" fill="#cfcfcf"/>
<polygon points="76.5,843.6 71.3,840.6 71.3,846.6" fill="#cfcfcf"/>
<polygon points="77.3,784.1 72.1,781.1 72.1,787.1" fill="#cfcfcf"/>
<polygon points="75.7,836.0 70.5,833.0 70.5,839.0" fill="#cfcfcf"/>
<polygon points="69.8,822.0 64.6,819.0 64.6,825.0" fill="#cfcfcf"/>
<polygon points="71.4,811.3 66.1,808.3 66.1,814.3" fill="#cfcfcf"/>
<polygon points="74.6,812.2 69.4,809.2 69.4,815.2" fill="#cfcfcf"/>
<polygon points="72.2,832.6 67.0,829.6 67.0,835.6" fill="#cfcfcf"/>
<polygon points="77.7,759.6 72.4,756.6 72.4,762.6" fill="#cfcfcf"/>
<polygon points="70.7,831.0 65.4,828.0 65.4,834.0" fill="#cfcfcf"/>
<polygon points="71.2,836.3 65.9,833.3 65.9,839.3" fill="#cfcfcf"/>
<polygon points="67.5,821.4 62.3,818.4 62.3,824.4" fill="#cfcfcf"/>
<polygon points="67.4,815.7 62.1,812.7 62.1,818.7" fill="#cfcfcf"/>
<polygon points="68.4,807.2 63.1,804.2 63.1,810.2" fill="#cfcfcf"/>
<polygon points="77.2,833.4 71.9,830.4 71.9,836.4" fill="#cfcfcf"/>
<polygon points="67.6,832.2 62.4,829.2 62.4,835.2" fill="#cfcfcf"/>
<polygon points="70.0,838.8 64.7,835.8 64.7,841.8" fill="#cfcfcf"/>
<polygon points="66.7,836.8 61.5,833.8 61.5,839.8" fill="#cfcfcf"/>
<polygon points="70.6,819.6 65.3,816.6 65.3,822.6" fill="#cfcfcf"/>
<polygon points="72.3,845.0 67.0,842.0 67.0,848.0" fill="#cfcfcf"/>
<polygon points="78.3,838.4 73.1,835.4 73.1,841.4" fill="#cfcfcf"/>
<polygon points="69.1,805.5 63.8,802.5 63.8,808.5" fill="#cfcfcf"/>
<polygon points="69.1,843.0 63.8,840.0 63.8,846.0" fill="#cfcfcf"/>
<polygon points="76.7,785.4 71.5,782.4 71.5,788.4" fill="#cfcfcf"/>
<polygon points="70.9,817.6 65.6,814.6 65.6,820.6" fill="#cfcfcf"/>
<polygon points="66.3,827.8 61.0,824.8 61.0,830.8" fill="#cfcfcf"/>
<polygon points="73.5,832.6 68.3,829.6 68.3,835.6" fill="#cfcfcf"/>
<polygon points="76.9,805.9 71.6,802.9 71.6,808.9" fill="#cfcfcf"/>
<polygon points="78.6,805.0 73.4,802.0 73.4,808.0" fill="#cfcfcf"/>
<polygon points="73.7,846.0 68.5,843.0 68.5,849.0" fill="#cfcfcf"/>
<polygon points="77.9,750.8 72.6,747.8 72.6,753.8" fill="#cfcfcf"/>
<polygon points="66.2,843.1 60.9,840.1 60.9,846.1" fill="#cfcfcf"/>
<polygon points="73.8,808.5 68.5,805.5 68.5,811.5" fill="#cfcfcf"/>
<polygon points="69.3,824.4 64.1,821.4 64.1,827.4" fill="#cfcfcf"/>
<polygon points="69.1,810.5 63.8,807.5 63.8,813.5" fill="#cfcfcf"/>
<polygon points="66.0,848.8 60.7,845.8 60.7,851.8" fill="#cfcfcf"/>
<polygon points="72.3,832.7 67.0,829.7 67.0,835.7" fill="#cfcfcf"/>
<polygon points="66.9,820.5 61.7,817.5 61.7,823.5" fill="#cfcfcf"/>
<polygon points="77.2,754.5 72.0,751.5 72.0,757.5" fill="#cfcfcf"/>
<polygon points="74.6,769.1 69.3,766.1 69.3,772.1" fill="#cfcfcf"/>
<polygon points="68.1,811.8 62.9,808.8 62.9,814.8" fill="#cfcfcf"/>
<polygon points="76.5,848.0 71.3,845.0 71.3,851.0" fill="#cfcfcf"/>
<polygon points="71.2,845.9 65.9,842.9 65.9,848.9" fill="#cfcfcf"/>
<polygon points="77.0,784.8 71.7,781.8 71.7,787.8" fill="#cfcfcf"/>
<polygon points="71.6,839.3 66.3,836.3 66.3,842.3" fill="#cfcfcf"/>
<polygon points="65.5,839.5 60.3,836.5 60.3,842.5" fill="#cfcfcf"/>
<polygon points="78.3,792.2 73.1,789.2 73.1,795.2" fill="#cfcfcf"/>
<polygon points="66.0,823.4 60.7,820.4 60.7,826.4" fill="#cfcfcf"/>
<polygon points="70.2,849.2 65.0,846.2 65.0,852.2" fill="#cfcfcf"/>
<polygon points="66.6,840.0 61.4,837.0 61.4,843.0" fill="#cfcfcf"/>
<polygon points="73.2,810.4 68.0,807.4 68.0,813.4" fill="#cfcfcf"/>
<polygon points="74.2,792.6 68.9,789.6 68.9,795.6" fill="#cfcfcf"/>
<polygon points="75.6,786.1 70.3,783.1 70.3,789.1" fill="#cfcfcf"/>
<polygon points="67.5,821.3 62.2,818.3 62.2,824.3" fill="#cfcfcf"/>
<polygon points="66.1,824.1 60.8,821.1 60.8,827.1" fill="#cfcfcf"/>
<polygon points="75.2,780.0 69.9,777.0 69.9,783.0" fill="#cfcfcf"/>
<polygon points="76.4,795.1 71.2,792.1 71.2,798.1" fill="#cfcfcf"/>
<polygon points="66.6,847.9 61.4,844.9 61.4,850.9" fill="#cfcfcf"/>
<polygon points="78.2,810.4 72.9,807.4 72.9,813.4" fill="#cfcfcf"/>
<polygon points="72.9,804.5 67.6,801.5 67.6,807.5" fill="#cfcfcf"/>
<polygon points="76.7,827.2 71.4,824.2 71.4,830.2" fill="#cfcfcf"/>
<polygon points="68.5,820.0 63.3,817.0 63.3,823.0" fill="#cfcfcf"/>
<polygon points="72.0,824.0 66.8,821.0 66.8,827.0" fill="#cfcfcf"/>
<polygon points="73.4,824.6 68.2,821.6 68.2,827.6" fill="#cfcfcf"/>
<polygon points="73.7,839.1 68.4,836.1 68.4,842.1" fill="#cfcfcf"/>
<polygon points="74.6,793.9 69.4,790.9 69.4,796.9" fill="#cfcfcf"/>
<polygon points="74.9,825.5 69.6,822.5 69.6,828.5" fill="#cfcfcf"/>
<polygon points="71.7,841.7 66.4,838.7 66.4,844.7" fill="#cfcfcf"/>
<polygon points="69.6,844.9 64.4,841.9 64.4,847.9" fill="#cfcfcf"/>
<polygon points="65.7,836.4 60.5,833.4 60.5,839.4" fill="#cfcfcf"/>
<polygon points="78.6,808.2 73.4,805.2 73.4,811.2" fill="#cfcfcf"/>
<polygon points="75.4,826.7 70.1,823.7 70.1,829.7" fill="#cfcfcf"/>
<polygon points="67.3,818.7 62.0,815.7 62.0,821.7" fill="#cfcfcf"/>
<polygon points="77.2,780.7 72.0,777.7 72.0,783.7" fill="#cfcfcf"/>
<polygon points="72.1,791.1 66.8,788.1 66.8,794.1" fill="#cfcfcf"/>
<polygon points="65.8,849.2 60.6,846.2 60.6,852.2" fill="#cfcfcf"/>
<polygon points="74.5,816.4 69.2,813.4 69.2,819.4" fill="#cfcfcf"/>
<polygon points="76.6,849.1 71.3,846.1 71.3,852.1" fill="#cfcfcf"/>
<polygon points="76.6,838.0 71.3,835.0 71.3,841.0" fill="#cfcfcf"/>
<polygon points="74.9,773.9 69.7,770.9 69.7,776.9" fill="#cfcfcf"/>
<polygon points="68.8,846.3 63.6,843.3 63.6,849.3" fill="#cfcfcf"/>
<polygon points="78.7,786.6 73.4,783.6 73.4,789.6" fill="#cfcfcf"/>
<polygon points="69.2,846.8 64.0,843.8 64.0,849.8" fill="#cfcfcf"/>
<polygon points="73.9,837.8 68.6,834.8 68.6,840.8" fill="#cfcfcf"/>
<polygon points="75.7,779.8 70.5,776.8 70.5,782.8" fill="#cfcfcf"/>
<polygon points="77.2,770.3 71.9,767.3 71.9,773.3" fill="#cfcfcf"/>
<polygon points="77.6,755.5 72.3,752.5 72.3,758.5" fill="#cfcfcf"/>
<polygon points="75.0,845.1 69.7,842.1 69.7,848.1" fill="#cfcfcf"/>
<polygon points="71.5,802.1 66.2,799.1 66.2,805.1" fill="#cfcfcf"/>
<polygon points="71.9,789.6 66.7,786.6 66.7,792.6" fill="#cfcfcf"/>
<polygon points="67.8,832.6 62.5,829.6 62.5,835.6" fill="#cfcfcf"/>
<polygon points="69.4,812.0 64.2,809.0 64.2,815.0" fill="#cfcfcf"/>
<polygon points="70.9,835.2 65.6,832.2 65.6,838.2" fill="#cfcfcf"/>
<polygon points="72.9,821.2 67.6,818.2 67.6,824.2" fill="#cfcfcf"/>
<polygon points="74.0,843.4 68.7,840.4 68.7,846.4" fill="#cfcfcf"/>
<polygon points="72.8,817.3 67.5,814.3 67.5,820.3" fill="#cfcfcf"/>
<polygon points="78.7,801.5 73.4,798.5 73.4,804.5" fill="#cfcfcf"/>
<polygon points="72.7,832.1 67.5,829.1 67.5,835.1" fill="#cfcfcf"/>
<polygon points="70.0,844.4 64.8,841.4 64.8,847.4" fill="#cfcfcf"/>
<polygon points="68.2,848.4 62.9,845.4 62.9,851.4" fill="#cfcfcf"/>
<polygon points="70.6,806.6 65.3,803.6 65.3,809.6" fill="#cfcfcf"/>
<polygon points="72.1,811.1 66.8,808.1 66.8,814.1" fill="#cfcfcf"/>
<polygon points="67.2,830.8 61.9,827.8 61.9,833.8" fill="#cfcfcf"/>
<polygon points="66.7,818.8 61.5,815.8 61.5,821.8" fill="#cfcfcf"/>
<polygon points="70.8,823.2 65.5,820.2 65.5,826.2" fill="#cfcfcf"/>
<polygon points="67.2,833.6 61.9,830.6 61.9,836.6" fill="#cfcfcf"/>
<polygon points="70.7,795.6 65.4,792.6 65.4,798.6" fill="#cfcfcf"/>
<polygon points="77.9,775.7 72.7,772.7 72.7,778.7" fill="#cfcfcf"/>
<polygon points="343.9,623.5 346.9,628.8 340.9,628.8" fill="#9a9a9a"/>
<polygon points="250.2,646.2 253.2,651.4 247.2,651.4" fill="#9a9a9a"/>
<polygon points="249.8,640.3 252.8,645.5 246.8,645.5" fill="#9a9a9a"/>
<polygon points="250.5,634.4 253.5,639.7 247.5,639.7" fill="#9a9a9a"/>
<polygon points="241.0,643.5 244.0,648.7 238.0,648.7" fill="#9a9a9a"/>
<polygon points="240.8,637.6 243.8,642.9 237.8,642.9" fill="#9a9a9a"/>
<polygon points="241.7,631.8 244.7,637.0 238.7,637.0" fill="#9a9a9a"/>
<polygon points="202.4,652.8 205.4,658.1 199.4,658.1" fill="#9a9a9a"/>
<polygon points="203.1,647.0 206.1,652.2 200.1,652.2" fill="#9a9a9a"/>
<polygon points="202.7,641.1 205.7,646.3 199.7,646.3" fill="#9a9a9a"/>
<polygon points="156.1,678.1 159.1,683.4 153.1,683.4" fill="#9a9a9a"/>
<polygon points="156.4,672.3 159.4,677.5 153.4,677.5" fill="#9a9a9a"/>
<polygon points="156.7,666.4 159.7,671.7 153.7,671.7" fill="#9a9a9a"/>
<polygon points="156.0,660.5 159.0,665.8 153.0,665.8" fill="#9a9a9a"/>
<polygon points="134.8,676.8 137.8,682.1 131.8,682.1" fill="#9a9a9a"/>
<polygon points="135.0,670.9 138.0,676.2 132.0,676.2" fill="#9a9a9a"/>
<polygon points="134.7,665.1 137.7,670.3 131.7,670.3" fill="#9a9a9a"/>
<polygon points="119.1,690.1 122.1,695.4 116.1,695.4" fill="#9a9a9a"/>
<polygon points="119.1,684.3 122.1,689.5 116.1,689.5" fill="#9a9a9a"/>
<polygon points="119.5,678.4 122.5,683.7 116.5,683.7" fill="#9a9a9a"/>
<polygon points="108.9,699.5 111.9,704.7 105.9,704.7" fill="#9a9a9a"/>
<polygon points="108.8,693.6 111.8,698.8 105.8,698.8" fill="#9a9a9a"/>
<polygon points="99.5,723.4 102.5,728.7 96.5,728.7" fill="#9a9a9a"/>
<polygon points="98.8,717.6 101.8,722.8 95.8,722.8" fill="#9a9a9a"/>
<polygon points="98.9,711.7 101.9,717.0 95.9,717.0" fill="#9a9a9a"/>
<polygon points="99.6,705.9 102.6,711.1 96.6,711.1" fill="#9a9a9a"/>
<polygon points="98.7,700.0 101.7,705.2 95.7,705.2" fill="#9a9a9a"/>
<polygon points="98.8,694.1 101.8,699.4 95.8,699.4" fill="#9a9a9a"/>
<polygon points="90.9,736.8 93.9,742.0 87.9,742.0" fill="#9a9a9a"/>
<polygon points="90.8,730.9 93.8,736.2 87.8,736.2" fill="#9a9a9a"/>
<polygon points="90.2,725.0 93.2,730.3 87.2,730.3" fill="#9a9a9a"/>
<polygon points="91.0,719.2 94.0,724.4 88.0,724.4" fill="#9a9a9a"/>
<polygon points="91.1,713.3 94.1,718.6 88.1,718.6" fill="#9a9a9a"/>
<polygon points="90.6,707.5 93.6,712.7 87.6,712.7" fill="#9a9a9a"/>
<polygon points="90.9,701.6 93.9,706.8 87.9,706.8" fill="#9a9a9a"/>
<polygon points="80.6,790.1 83.6,795.3 77.6,795.3" fill="#9a9a9a"/>
<polygon points="80.5,784.2 83.5,789.5 77.5,789.5" fill="#9a9a9a"/>
<polygon points="81.2,778.3 84.2,783.6 78.2,783.6" fill="#9a9a9a"/>
<polygon points="80.8,772.5 83.8,777.7 77.8,777.7" fill="#9a9a9a"/>
<polygon points="80.9,766.6 83.9,771.9 77.9,771.9" fill="#9a9a9a"/>
<polygon points="81.5,760.8 84.5,766.0 78.5,766.0" fill="#9a9a9a"/>
<polygon points="81.1,754.9 84.1,760.1 78.1,760.1" fill="#9a9a9a"/>
<polygon points="80.6,749.0 83.6,754.3 77.6,754.3" fill="#9a9a9a"/>
<polygon points="80.9,743.2 83.9,748.4 77.9,748.4" fill="#9a9a9a"/>
<polygon points="81.5,737.3 84.5,742.6 78.5,742.6" fill="#9a9a9a"/>
<polygon points="80.5,731.4 83.5,736.7 77.5,736.7" fill="#9a9a9a"/>
<polygon points="81.1,725.6 84.1,730.8 78.1,730.8" fill="#9a9a9a"/>
<polygon points="81.2,719.7 84.2,725.0 78.2,725.0" fill="#9a9a9a"/>
<polygon points="81.1,713.8 84.1,719.1 78.1,719.1" fill="#9a9a9a"/>
<polygon points="72.0,832.7 75.0,838.0 69.0,838.0" fill="#9a9a9a"/>
<polygon points="71.3,826.8 74.3,832.1 68.3,832.1" fill="#9a9a9a"/>
<polygon points="72.3,821.0 75.3,826.2 69.3,826.2" fill="#9a9a9a"/>
<polygon points="72.0,815.1 75.0,820.4 69.0,820.4" fill="#9a9a9a"/>
<polygon points="72.0,809.3 75.0,814.5 69.0,814.5" fill="#9a9a9a"/>
<polygon points="71.7,803.4 74.7,808.6 68.7,808.6" fill="#9a9a9a"/>
<polygon points="71.1,797.5 74.1,802.8 68.1,802.8" fill="#9a9a9a"/>
<polygon points="71.4,791.7 74.4,796.9 68.4,796.9" fill="#9a9a9a"/>
<polygon points="71.9,785.8 74.9,791.1 68.9,791.1" fill="#9a9a9a"/>
<polygon points="71.6,779.9 74.6,785.2 68.6,785.2" fill="#9a9a9a"/>
<polygon points="72.3,774.1 75.3,779.3 69.3,779.3" fill="#9a9a9a"/>
<polygon points="71.5,768.2 74.5,773.5 68.5,773.5" fill="#9a9a9a"/>
<polygon points="71.4,762.4 74.4,767.6 68.4,767.6" fill="#9a9a9a"/>
<polygon points="71.3,756.5 74.3,761.7 68.3,761.7" fill="#9a9a9a"/>
<polygon points="72.2,750.6 75.2,755.9 69.2,755.9" fill="#9a9a9a"/>
<polygon points="71.7,744.8 74.7,750.0 68.7,750.0" fill="#9a9a9a"/>
<polygon points="72.0,738.9 75.0,744.2 69.0,744.2" fill="#9a9a9a"/>
<polygon points="68.6,799.0 71.6,804.2 65.6,804.2" fill="#9a9a9a"/>
<polygon points="62.8,823.6 65.8,828.9 59.8,828.9" fill="#9a9a9a"/>
<polygon points="64.2,840.7 67.2,845.9 61.2,845.9" fill="#9a9a9a"/>
<polygon points="74.0,771.4 77.0,776.7 71.0,776.7" fill="#9a9a9a"/>
<polygon points="68.8,799.5 71.8,804.8 65.8,804.8" fill="#9a9a9a"/>
<polygon points="72.9,836.8 75.9,842.1 69.9,842.1" fill="#9a9a9a"/>
<polygon points="65.8,833.4 68.8,838.7 62.8,838.7" fill="#9a9a9a"/>
<polygon points="69.2,808.5 72.2,813.8 66.2,813.8" fill="#9a9a9a"/>
<polygon points="73.6,833.4 76.6,838.7 70.6,838.7" fill="#9a9a9a"/>
<polygon points="69.8,815.1 72.8,820.3 66.8,820.3" fill="#9a9a9a"/>
<polygon points="74.3,819.9 77.3,825.1 71.3,825.1" fill="#9a9a9a"/>
<polygon points="70.9,784.3 73.9,789.5 67.9,789.5" fill="#9a9a9a"/>
<polygon points="67.8,825.8 70.8,831.0 64.8,831.0" fill="#9a9a9a"/>
<polygon points="70.4,794.7 73.4,799.9 67.4,799.9" fill="#9a9a9a"/>
<polygon points="65.8,810.2 68.8,815.5 62.8,815.5" fill="#9a9a9a"/>
<polygon points="67.8,843.9 70.8,849.1 64.8,849.1" fill="#9a9a9a"/>
<polygon points="66.5,814.4 69.5,819.7 63.5,819.7" fill="#9a9a9a"/>
<polygon points="74.5,771.5 77.5,776.7 71.5,776.7" fill="#9a9a9a"/>
<polygon points="69.0,846.1 72.0,851.3 66.0,851.3" fill="#9a9a9a"/>
<polygon points="72.4,802.8 75.4,808.1 69.4,808.1" fill="#9a9a9a"/>
<polygon points="72.2,824.7 75.2,830.0 69.2,830.0" fill="#9a9a9a"/>
<polygon points="74.5,817.7 77.5,823.0 71.5,823.0" fill="#9a9a9a"/>
<polygon points="70.6,797.5 73.6,802.7 67.6,802.7" fill="#9a9a9a"/>
<polygon points="63.3,837.8 66.3,843.1 60.3,843.1" fill="#9a9a9a"/>
<polygon points="68.0,823.8 71.0,829.0 65.0,829.0" fill="#9a9a9a"/>
<polygon points="74.7,770.3 77.7,775.5 71.7,775.5" fill="#9a9a9a"/>
<polygon points="67.5,827.1 70.5,832.3 64.5,832.3" fill="#9a9a9a"/>
<polygon points="73.7,763.8 76.7,769.1 70.7,769.1" fill="#9a9a9a"/>
<polygon points="75.3,795.3 78.3,800.6 72.3,800.6" fill="#9a9a9a"/>
<polygon points="75.3,820.4 78.3,825.6 72.3,825.6" fill="#9a9a9a"/>
<polygon points="65.5,839.5 68.5,844.8 62.5,844.8" fill="#9a9a9a"/>
<polygon points="63.6,820.3 66.6,825.6 60.6,825.6" fill="#9a9a9a"/>
<polygon points="344.1,621.1 346.5,624.1 344.1,627.1 341.7,624.1" fill="#6a6a6a"/>
<polygon points="249.8,649.1 252.2,652.1 249.8,655.1 247.4,652.1" fill="#6a6a6a"/>
<polygon points="240.8,643.8 243.2,646.8 240.8,649.8 238.4,646.8" fill="#6a6a6a"/>
<polygon points="203.0,654.4 205.4,657.4 203.0,660.4 200.6,657.4" fill="#6a6a6a"/>
<polygon points="155.8,679.7 158.2,682.7 155.8,685.7 153.4,682.7" fill="#6a6a6a"/>
<polygon points="133.9,677.1 136.3,680.1 133.9,683.1 131.5,680.1" fill="#6a6a6a"/>
<polygon points="119.4,690.4 121.8,693.4 119.4,696.4 117.0,693.4" fill="#6a6a6a"/>
<polygon points="108.7,701.1 111.1,704.1 108.7,707.1 106.3,704.1" fill="#6a6a6a"/>
<polygon points="99.2,721.0 101.6,724.0 99.2,727.0 96.8,724.0" fill="#6a6a6a"/>
<polygon points="90.5,739.7 92.9,742.7 90.5,745.7 88.1,742.7" fill="#6a6a6a"/>
<polygon points="90.8,731.7 93.2,734.7 90.8,737.7 88.4,734.7" fill="#6a6a6a"/>
<polygon points="80.6,785.0 83.0,788.0 80.6,791.0 78.2,788.0" fill="#6a6a6a"/>
<polygon points="80.5,777.0 82.9,780.0 80.5,783.0 78.1,780.0" fill="#6a6a6a"/>
<polygon points="71.5,771.7 73.9,774.7 71.5,777.7 69.1,774.7" fill="#6a6a6a"/>
<polygon points="71.3,793.0 73.7,796.0 71.3,799.0 68.9,796.0" fill="#6a6a6a"/>
<polygon points="72.0,814.3 74.4,817.3 72.0,820.3 69.6,817.3" fill="#6a6a6a"/>
<polygon points="71.2,774.0 73.6,777.0 71.2,780.0 68.8,777.0" fill="#6a6a6a"/>
<polygon points="73.4,764.8 75.8,767.8 73.4,770.8 71.0,767.8" fill="#6a6a6a"/>
<polygon points="72.8,766.2 75.2,769.2 72.8,772.2 70.4,769.2" fill="#6a6a6a"/>
<polygon points="71.7,838.9 74.1,841.9 71.7,844.9 69.3,841.9" fill="#6a6a6a"/>
<polygon points="71.2,803.1 73.6,806.1 71.2,809.1 68.8,806.1" fill="#6a6a6a"/>
<polygon points="66.0,842.0 68.4,845.0 66.0,848.0 63.6,845.0" fill="#6a6a6a"/>
<polygon points="71.2,841.1 73.6,844.1 71.2,847.1 68.8,844.1" fill="#6a6a6a"/>
<polygon points="63.5,843.4 65.9,846.4 63.5,849.4 61.1,846.4" fill="#6a6a6a"/>
<polygon points="68.3,826.9 70.7,829.9 68.3,832.9 65.9,829.9" fill="#6a6a6a"/>
<polygon points="67.4,800.9 69.8,803.9 67.4,806.9 65.0,803.9" fill="#6a6a6a"/>
<rect x="341.2" y="619.9" width="4.6" height="4.6" fill="#3a3a3a"/>
<rect x="247.9" y="636.5" width="4.6" height="4.6" fill="#3a3a3a"/>
<rect x="239.6" y="631.1" width="4.6" height="4.6" fill="#3a3a3a"/>
<rect x="200.4" y="641.8" width="4.6" height="4.6" fill="#3a3a3a"/>
<rect x="154.0" y="663.1" width="4.6" height="4.6" fill="#3a3a3a"/>
<rect x="132.2" y="667.1" width="4.6" height="4.6" fill="#3a3a3a"/>
<rect x="117.0" y="676.4" width="4.6" height="4.6" fill="#3a3a3a"/>
<rect x="107.2" y="689.8" width="4.6" height="4.6" fill="#3a3a3a"/>
<rect x="96.7" y="695.1" width="4.6" height="4.6" fill="#3a3a3a"/>
<rect x="88.3" y="703.1" width="4.6" height="4.6" fill="#3a3a3a"/>
<rect x="78.6" y="719.1" width="4.6" height="4.6" fill="#3a3a3a"/>
<rect x="69.1" y="745.7" width="4.6" height="4.6" fill="#3a3a3a"/>
<circle cx="343.7" cy="613.4" r="2.7" fill="#0a0a0a"/>
<circle cx="249.8" cy="628.1" r="2.7" fill="#0a0a0a"/>
<circle cx="250.3" cy="630.8" r="2.7" fill="#0a0a0a"/>
<circle cx="249.7" cy="633.4" r="2.7" fill="#0a0a0a"/>
<circle cx="241.8" cy="621.4" r="2.7" fill="#0a0a0a"/>
<circle cx="241.4" cy="625.4" r="2.7" fill="#0a0a0a"/>
<circle cx="241.2" cy="628.1" r="2.7" fill="#0a0a0a"/>
<circle cx="202.5" cy="630.8" r="2.7" fill="#0a0a0a"/>
<circle cx="203.0" cy="636.1" r="2.7" fill="#0a0a0a"/>
<circle cx="203.1" cy="638.8" r="2.7" fill="#0a0a0a"/>
<circle cx="156.2" cy="644.1" r="2.7" fill="#0a0a0a"/>
<circle cx="156.0" cy="646.8" r="2.7" fill="#0a0a0a"/>
<circle cx="155.9" cy="652.1" r="2.7" fill="#0a0a0a"/>
<circle cx="156.5" cy="657.4" r="2.7" fill="#0a0a0a"/>
<circle cx="134.8" cy="652.1" r="2.7" fill="#0a0a0a"/>
<circle cx="134.1" cy="657.4" r="2.7" fill="#0a0a0a"/>
<circle cx="119.0" cy="662.8" r="2.7" fill="#0a0a0a"/>
<circle cx="119.0" cy="666.7" r="2.7" fill="#0a0a0a"/>
<circle cx="118.8" cy="670.7" r="2.7" fill="#0a0a0a"/>
<circle cx="109.0" cy="673.4" r="2.7" fill="#0a0a0a"/>
<circle cx="109.2" cy="676.1" r="2.7" fill="#0a0a0a"/>
<circle cx="98.7" cy="671.5" r="2.7" fill="#0a0a0a"/>
<circle cx="98.8" cy="676.6" r="2.7" fill="#0a0a0a"/>
<circle cx="99.0" cy="681.4" r="2.7" fill="#0a0a0a"/>
<circle cx="99.5" cy="686.7" r="2.7" fill="#0a0a0a"/>
<circle cx="98.6" cy="692.1" r="2.7" fill="#0a0a0a"/>
<circle cx="90.8" cy="681.4" r="2.7" fill="#0a0a0a"/>
<circle cx="90.4" cy="687.5" r="2.7" fill="#0a0a0a"/>
<circle cx="90.1" cy="698.2" r="2.7" fill="#0a0a0a"/>
<circle cx="80.6" cy="698.7" r="2.7" fill="#0a0a0a"/>
<circle cx="80.8" cy="704.1" r="2.7" fill="#0a0a0a"/>
<circle cx="80.7" cy="710.7" r="2.7" fill="#0a0a0a"/>
<circle cx="72.1" cy="729.4" r="2.7" fill="#0a0a0a"/>
<circle cx="71.9" cy="733.4" r="2.7" fill="#0a0a0a"/>
<line x1="62.0" y1="821.9" x2="110.8" y2="662.0" stroke="#000" stroke-width="3.4"/>
<line x1="116.8" y1="678.7" x2="343.9" y2="612.1" stroke="#000" stroke-width="3.2"/>
<circle cx="343.9" cy="612.1" r="2.7" fill="#000"/>
<line x1="116.6" y1="581.3" x2="116.6" y2="849.3" stroke="#000" stroke-width="3.1" stroke-dasharray="3.3 3.3"/>
<line x1="62.5" y1="581.8" x2="62.5" y2="850" stroke="#222" stroke-width="1.4"/>
<line x1="62" y1="849.3" x2="424.5" y2="849.3" stroke="#222" stroke-width="1.4"/>
<line x1="62.5" y1="849" x2="62.5" y2="845.5" stroke="#222" stroke-width="1"/>
<line x1="122.5" y1="849" x2="122.5" y2="845.5" stroke="#222" stroke-width="1"/>
<line x1="182.5" y1="849" x2="182.5" y2="845.5" stroke="#222" stroke-width="1"/>
<line x1="242.5" y1="849" x2="242.5" y2="845.5" stroke="#222" stroke-width="1"/>
<line x1="302.5" y1="849" x2="302.5" y2="845.5" stroke="#222" stroke-width="1"/>
<line x1="362.5" y1="849" x2="362.5" y2="845.5" stroke="#222" stroke-width="1"/>
<line x1="422.5" y1="849" x2="422.5" y2="845.5" stroke="#222" stroke-width="1"/>
<line x1="62.5" y1="849.3" x2="66" y2="849.3" stroke="#222" stroke-width="1"/>
<line x1="62.5" y1="796.0" x2="66" y2="796.0" stroke="#222" stroke-width="1"/>
<line x1="62.5" y1="742.7" x2="66" y2="742.7" stroke="#222" stroke-width="1"/>
<line x1="62.5" y1="689.4" x2="66" y2="689.4" stroke="#222" stroke-width="1"/>
<line x1="62.5" y1="636.1" x2="66" y2="636.1" stroke="#222" stroke-width="1"/>
<line x1="62.5" y1="582.8" x2="66" y2="582.8" stroke="#222" stroke-width="1"/>
<rect x="62.5" y="581.8" width="373.3" height="94.5" fill="#006d00" fill-opacity="0.275"/><rect x="62.5" y="676.3" width="373.3" height="52.5" fill="#77077a" fill-opacity="0.33"/><rect x="62.5" y="728.8" width="373.3" height="120.5" fill="#00067b" fill-opacity="0.325"/><line x1="62.5" y1="676.2" x2="435.8" y2="676.2" stroke="#707070" stroke-opacity="0.3" stroke-width="1"/>
<rect x="327.2" y="724.5" width="102.5" height="122.2" fill="#fff"/>
<circle cx="340.9" cy="744.2" r="4.1" fill="#0a0a0a"/>
<text x="355.45" y="750.20" font-size="17.00" text-anchor="start" fill="#000">6 to 4 hz</text>
<rect x="337.4" y="762.6" width="6.9" height="6.9" fill="#3a3a3a"/>
<text x="355.62" y="772.10" font-size="17.00" text-anchor="start" fill="#000">5 to 5 hz</text>
<polygon points="340.9,783.5 344.5,788.0 340.9,792.5 337.3,788.0" fill="#6a6a6a"/>
<text x="355.62" y="794.00" font-size="17.00" text-anchor="start" fill="#000">5 to 4 hz</text>
<polygon points="340.9,805.4 345.4,813.3 336.4,813.3" fill="#9a9a9a"/>
<text x="355.88" y="815.90" font-size="17.00" text-anchor="start" fill="#000">4 to 5 hz</text>
<polygon points="345.4,831.8 337.5,827.3 337.5,836.3" fill="#cfcfcf"/>
<text x="355.88" y="837.80" font-size="17.00" text-anchor="start" fill="#000">4 to 6 hz</text>
<text x="46.93" y="855.70" font-size="18.00" text-anchor="start" fill="#222">0</text>
<text x="32.08" y="802.40" font-size="18.00" text-anchor="start" fill="#222">0.2</text>
<text x="31.72" y="749.10" font-size="18.00" text-anchor="start" fill="#222">0.4</text>
<text x="31.99" y="695.80" font-size="18.00" text-anchor="start" fill="#222">0.6</text>
<text x="31.90" y="642.50" font-size="18.00" text-anchor="start" fill="#222">0.8</text>
<text x="47.11" y="589.20" font-size="18.00" text-anchor="start" fill="#222">1</text>
<text x="57.51" y="872.80" font-size="18.00" text-anchor="start" fill="#222">0</text>
<text x="110.08" y="872.80" font-size="18.00" text-anchor="start" fill="#222">0.1</text>
<text x="170.08" y="872.80" font-size="18.00" text-anchor="start" fill="#222">0.2</text>
<text x="230.04" y="872.80" font-size="18.00" text-anchor="start" fill="#222">0.3</text>
<text x="289.90" y="872.80" font-size="18.00" text-anchor="start" fill="#222">0.4</text>
<text x="349.99" y="872.80" font-size="18.00" text-anchor="start" fill="#222">0.5</text>
<text x="410.04" y="872.80" font-size="18.00" text-anchor="start" fill="#222">0.6</text>
<text x="24.70" y="762.77" font-size="19.60" text-anchor="start" fill="#222" transform="rotate(-90 24.70 762.77)">Correlation</text>
<text x="112.83" y="897.80" font-size="19.57" text-anchor="start" fill="#222">Proportion of excitatory inputs</text>
<text x="482.08" y="559.80" font-size="17.20" text-anchor="start" font-weight="bold" fill="#000">D</text>
<line x1="533.5" y1="558" x2="533.5" y2="713.6" stroke="#555" stroke-width="1.1"/>
<line x1="533" y1="713.1" x2="750" y2="713.1" stroke="#555" stroke-width="1.1"/>
<line x1="533.5" y1="713.1" x2="536.5" y2="713.1" stroke="#555" stroke-width="1"/>
<text x="522.65" y="717.80" font-size="13.30" text-anchor="start" fill="#222">0</text>
<line x1="533.5" y1="674.4" x2="536.5" y2="674.4" stroke="#555" stroke-width="1"/>
<text x="522.78" y="679.14" font-size="13.30" text-anchor="start" fill="#222">2</text>
<line x1="533.5" y1="635.8" x2="536.5" y2="635.8" stroke="#555" stroke-width="1"/>
<text x="522.52" y="640.48" font-size="13.30" text-anchor="start" fill="#222">4</text>
<line x1="533.5" y1="597.1" x2="536.5" y2="597.1" stroke="#555" stroke-width="1"/>
<text x="522.72" y="601.82" font-size="13.30" text-anchor="start" fill="#222">6</text>
<line x1="533.5" y1="558.5" x2="536.5" y2="558.5" stroke="#555" stroke-width="1"/>
<text x="522.65" y="563.16" font-size="13.30" text-anchor="start" fill="#222">8</text>
<line x1="533.5" y1="713" x2="533.5" y2="710" stroke="#555" stroke-width="1"/>
<text x="529.81" y="731.20" font-size="13.30" text-anchor="start" fill="#222">0</text>
<line x1="605.6" y1="713" x2="605.6" y2="710" stroke="#555" stroke-width="1"/>
<text x="596.42" y="731.20" font-size="13.30" text-anchor="start" fill="#222">0.2</text>
<line x1="677.7" y1="713" x2="677.7" y2="710" stroke="#555" stroke-width="1"/>
<text x="668.39" y="731.20" font-size="13.30" text-anchor="start" fill="#222">0.4</text>
<line x1="749.8" y1="713" x2="749.8" y2="710" stroke="#555" stroke-width="1"/>
<text x="740.59" y="731.20" font-size="13.30" text-anchor="start" fill="#222">0.6</text>
<text x="517.00" y="684.95" font-size="14.75" text-anchor="start" fill="#222" transform="rotate(-90 517.00 684.95)">Firing rate (Hz)</text>
<text x="544.12" y="749.90" font-size="14.71" text-anchor="start" fill="#222">Proportion of excitatory inputs</text>
<circle cx="534.9" cy="637.7" r="3.3" fill="#b3b3b3"/>
<circle cx="537.1" cy="636.7" r="3.3" fill="#b3b3b3"/>
<circle cx="539.6" cy="637.7" r="3.3" fill="#b3b3b3"/>
<circle cx="542.5" cy="638.7" r="3.3" fill="#b3b3b3"/>
<circle cx="545.4" cy="637.7" r="3.3" fill="#b3b3b3"/>
<circle cx="547.9" cy="639.6" r="3.3" fill="#b3b3b3"/>
<circle cx="551.5" cy="640.6" r="3.3" fill="#b3b3b3"/>
<circle cx="555.1" cy="642.5" r="3.3" fill="#b3b3b3"/>
<circle cx="535.3" cy="640.6" r="3.3" fill="#b3b3b3"/>
<circle cx="538.9" cy="641.6" r="3.3" fill="#b3b3b3"/>
<circle cx="544.3" cy="643.5" r="3.3" fill="#b3b3b3"/>
<circle cx="549.7" cy="645.4" r="3.3" fill="#b3b3b3"/>
<circle cx="553.3" cy="644.5" r="3.3" fill="#b3b3b3"/>
<circle cx="556.9" cy="646.4" r="3.3" fill="#b3b3b3"/>
<circle cx="560.5" cy="647.4" r="3.3" fill="#b3b3b3"/>
<circle cx="564.1" cy="647.4" r="3.3" fill="#b3b3b3"/>
<circle cx="537.8" cy="648.3" r="3.3" fill="#b3b3b3"/>
<circle cx="540.7" cy="647.4" r="3.3" fill="#b3b3b3"/>
<circle cx="544.3" cy="649.3" r="3.3" fill="#b3b3b3"/>
<circle cx="547.9" cy="648.3" r="3.3" fill="#b3b3b3"/>
<circle cx="551.5" cy="649.3" r="3.3" fill="#b3b3b3"/>
<circle cx="555.1" cy="650.3" r="3.3" fill="#b3b3b3"/>
<circle cx="544.3" cy="654.1" r="3.3" fill="#b3b3b3"/>
<circle cx="547.9" cy="656.1" r="3.3" fill="#b3b3b3"/>
<circle cx="551.5" cy="657.0" r="3.3" fill="#b3b3b3"/>
<circle cx="555.1" cy="658.0" r="3.3" fill="#b3b3b3"/>
<circle cx="558.7" cy="659.0" r="3.3" fill="#b3b3b3"/>
<circle cx="562.3" cy="658.0" r="3.3" fill="#b3b3b3"/>
<circle cx="544.3" cy="659.9" r="3.3" fill="#b3b3b3"/>
<circle cx="540.7" cy="657.0" r="3.3" fill="#b3b3b3"/>
<circle cx="537.1" cy="662.8" r="3.3" fill="#b3b3b3"/>
<circle cx="544.3" cy="661.9" r="3.3" fill="#b3b3b3"/>
<circle cx="549.7" cy="659.0" r="3.3" fill="#b3b3b3"/>
<circle cx="556.9" cy="660.9" r="3.3" fill="#b3b3b3"/>
<circle cx="562.3" cy="659.9" r="3.3" fill="#b3b3b3"/>
<circle cx="566.7" cy="643.5" r="3.3" fill="#b3b3b3"/>
<circle cx="566.7" cy="651.2" r="3.3" fill="#b3b3b3"/>
<circle cx="575.7" cy="646.4" r="3.3" fill="#b3b3b3"/>
<circle cx="575.7" cy="654.1" r="3.3" fill="#b3b3b3"/>
<circle cx="576.4" cy="656.1" r="3.3" fill="#b3b3b3"/>
<circle cx="588.7" cy="653.2" r="3.3" fill="#b3b3b3"/>
<circle cx="590.1" cy="655.1" r="3.3" fill="#b3b3b3"/>
<circle cx="589.4" cy="656.1" r="3.3" fill="#b3b3b3"/>
<circle cx="617.9" cy="646.4" r="3.3" fill="#b3b3b3"/>
<circle cx="617.9" cy="648.3" r="3.3" fill="#b3b3b3"/>
<circle cx="617.9" cy="651.2" r="3.3" fill="#b3b3b3"/>
<circle cx="640.6" cy="647.4" r="3.3" fill="#b3b3b3"/>
<circle cx="646.3" cy="649.3" r="3.3" fill="#b3b3b3"/>
<circle cx="702.6" cy="649.3" r="3.3" fill="#b3b3b3"/>
<circle cx="544.3" cy="640.6" r="3.3" fill="#b3b3b3"/>
<circle cx="536.8" cy="589.9" r="3.0" fill="#333"/>
<circle cx="540.2" cy="590.6" r="3.0" fill="#333"/>
<circle cx="537.2" cy="589.7" r="3.0" fill="#333"/>
<circle cx="534.8" cy="590.3" r="3.0" fill="#333"/>
<circle cx="538.0" cy="588.1" r="3.0" fill="#333"/>
<circle cx="534.2" cy="591.9" r="3.0" fill="#333"/>
<circle cx="534.2" cy="588.0" r="3.0" fill="#333"/>
<circle cx="538.5" cy="593.9" r="3.0" fill="#333"/>
<circle cx="540.6" cy="586.8" r="3.0" fill="#333"/>
<circle cx="538.2" cy="589.5" r="3.0" fill="#333"/>
<circle cx="534.6" cy="594.1" r="3.0" fill="#333"/>
<circle cx="537.3" cy="593.8" r="3.0" fill="#333"/>
<circle cx="534.9" cy="592.3" r="3.0" fill="#333"/>
<circle cx="533.7" cy="590.6" r="3.0" fill="#333"/>
<circle cx="544.7" cy="589.4" r="3.0" fill="#333"/>
<circle cx="544.7" cy="591.3" r="3.0" fill="#333"/>
<circle cx="550.4" cy="590.4" r="3.0" fill="#333"/>
<circle cx="550.4" cy="592.3" r="3.0" fill="#333"/>
<circle cx="555.1" cy="589.4" r="3.0" fill="#333"/>
<circle cx="555.1" cy="591.3" r="3.0" fill="#333"/>
<circle cx="558.7" cy="589.0" r="3.0" fill="#333"/>
<circle cx="561.6" cy="588.4" r="3.0" fill="#333"/>
<circle cx="561.6" cy="590.4" r="3.0" fill="#333"/>
<circle cx="567.0" cy="588.4" r="3.0" fill="#333"/>
<circle cx="567.0" cy="590.0" r="3.0" fill="#333"/>
<circle cx="575.7" cy="591.3" r="3.0" fill="#333"/>
<circle cx="575.7" cy="593.3" r="3.0" fill="#333"/>
<circle cx="589.4" cy="589.0" r="3.0" fill="#333"/>
<circle cx="589.4" cy="590.9" r="3.0" fill="#333"/>
<circle cx="589.4" cy="593.3" r="3.0" fill="#333"/>
<circle cx="617.9" cy="590.4" r="3.0" fill="#333"/>
<circle cx="617.9" cy="592.3" r="3.0" fill="#333"/>
<circle cx="640.6" cy="590.4" r="3.0" fill="#333"/>
<circle cx="640.6" cy="591.7" r="3.0" fill="#333"/>
<circle cx="646.3" cy="589.4" r="3.0" fill="#333"/>
<circle cx="646.3" cy="590.4" r="3.0" fill="#333"/>
<circle cx="702.6" cy="591.3" r="3.0" fill="#333"/>
<line x1="718.5" y1="579.7" x2="718.5" y2="660.9" stroke="#000" stroke-width="2.3"/>
<text x="722.70" y="625.20" font-size="19.00" text-anchor="start" font-weight="bold" fill="#000">*</text>
<circle cx="684.1" cy="681.3" r="2.4" fill="#333"/>
<circle cx="684.1" cy="696.8" r="2.4" fill="#b3b3b3"/>
<text x="693.21" y="686.00" font-size="11.85" text-anchor="start" fill="#222">Cluster 1</text>
<text x="693.21" y="701.50" font-size="11.85" text-anchor="start" fill="#222">Cluster 2</text>
<text x="481.88" y="825.00" font-size="17.20" text-anchor="start" font-weight="bold" fill="#000">E</text>
<line x1="552.9" y1="828.4" x2="552.9" y2="983.6" stroke="#888" stroke-width="1.1"/>
<line x1="552.5" y1="983.1" x2="756" y2="983.1" stroke="#888" stroke-width="1.1"/>
<line x1="552.9" y1="983.3" x2="556" y2="983.3" stroke="#888" stroke-width="1"/>
<text x="522.30" y="988.00" font-size="13.30" text-anchor="start" fill="#222">0.07</text>
<line x1="552.9" y1="944.5" x2="556" y2="944.5" stroke="#888" stroke-width="1"/>
<text x="522.16" y="949.25" font-size="13.30" text-anchor="start" fill="#222">0.08</text>
<line x1="552.9" y1="905.8" x2="556" y2="905.8" stroke="#888" stroke-width="1"/>
<text x="522.23" y="910.50" font-size="13.30" text-anchor="start" fill="#222">0.09</text>
<line x1="552.9" y1="867.0" x2="556" y2="867.0" stroke="#888" stroke-width="1"/>
<text x="529.68" y="871.75" font-size="13.30" text-anchor="start" fill="#222">0.1</text>
<line x1="552.9" y1="828.3" x2="556" y2="828.3" stroke="#888" stroke-width="1"/>
<text x="523.29" y="833.00" font-size="13.30" text-anchor="start" fill="#222">0.11</text>
<line x1="552.9" y1="983" x2="552.9" y2="980" stroke="#888" stroke-width="1"/>
<text x="549.21" y="999.50" font-size="13.30" text-anchor="start" fill="#222">0</text>
<line x1="620.8" y1="983" x2="620.8" y2="980" stroke="#888" stroke-width="1"/>
<text x="611.62" y="999.50" font-size="13.30" text-anchor="start" fill="#222">0.2</text>
<line x1="688.7" y1="983" x2="688.7" y2="980" stroke="#888" stroke-width="1"/>
<text x="679.39" y="999.50" font-size="13.30" text-anchor="start" fill="#222">0.4</text>
<line x1="756.6" y1="983" x2="756.6" y2="980" stroke="#888" stroke-width="1"/>
<text x="747.39" y="999.50" font-size="13.30" text-anchor="start" fill="#222">0.6</text>
<text x="517.70" y="971.39" font-size="14.70" text-anchor="start" fill="#222" transform="rotate(-90 517.70 971.39)">Magnitude (fraction)</text>
<text x="557.13" y="1018.70" font-size="14.66" text-anchor="start" fill="#222">Proportion of excitatory inputs</text>
<circle cx="558.0" cy="939.9" r="3.4" fill="#b3b3b3"/>
<circle cx="563.4" cy="941.5" r="3.4" fill="#b3b3b3"/>
<circle cx="568.9" cy="941.5" r="3.4" fill="#b3b3b3"/>
<circle cx="573.6" cy="939.9" r="3.4" fill="#b3b3b3"/>
<circle cx="574.3" cy="921.7" r="3.4" fill="#b3b3b3"/>
<circle cx="579.7" cy="927.1" r="3.4" fill="#b3b3b3"/>
<circle cx="579.7" cy="933.7" r="3.4" fill="#b3b3b3"/>
<circle cx="584.1" cy="938.3" r="3.4" fill="#b3b3b3"/>
<circle cx="585.2" cy="952.3" r="3.4" fill="#b3b3b3"/>
<circle cx="579.7" cy="958.5" r="3.4" fill="#b3b3b3"/>
<circle cx="592.6" cy="936.8" r="3.4" fill="#b3b3b3"/>
<circle cx="592.6" cy="940.3" r="3.4" fill="#b3b3b3"/>
<circle cx="592.6" cy="943.4" r="3.4" fill="#b3b3b3"/>
<circle cx="606.5" cy="909.3" r="3.4" fill="#b3b3b3"/>
<circle cx="605.9" cy="921.3" r="3.4" fill="#b3b3b3"/>
<circle cx="605.9" cy="925.2" r="3.4" fill="#b3b3b3"/>
<circle cx="605.9" cy="929.0" r="3.4" fill="#b3b3b3"/>
<circle cx="605.9" cy="932.9" r="3.4" fill="#b3b3b3"/>
<circle cx="605.2" cy="942.6" r="3.4" fill="#b3b3b3"/>
<circle cx="631.3" cy="908.9" r="3.4" fill="#b3b3b3"/>
<circle cx="631.3" cy="913.9" r="3.4" fill="#b3b3b3"/>
<circle cx="653.1" cy="899.2" r="3.4" fill="#b3b3b3"/>
<circle cx="653.7" cy="904.6" r="3.4" fill="#b3b3b3"/>
<circle cx="653.7" cy="911.6" r="3.4" fill="#b3b3b3"/>
<circle cx="658.5" cy="900.0" r="3.4" fill="#b3b3b3"/>
<circle cx="712.1" cy="889.1" r="3.4" fill="#b3b3b3"/>
<circle cx="553.9" cy="950.4" r="3.4" fill="#b3b3b3"/>
<circle cx="554.9" cy="954.2" r="3.4" fill="#b3b3b3"/>
<circle cx="553.6" cy="958.1" r="3.4" fill="#b3b3b3"/>
<circle cx="554.6" cy="962.0" r="3.4" fill="#b3b3b3"/>
<circle cx="553.2" cy="965.9" r="3.4" fill="#b3b3b3"/>
<circle cx="555.6" cy="968.6" r="3.4" fill="#b3b3b3"/>
<circle cx="557.0" cy="971.7" r="3.4" fill="#b3b3b3"/>
<circle cx="559.0" cy="974.8" r="3.4" fill="#b3b3b3"/>
<circle cx="561.0" cy="972.4" r="3.4" fill="#b3b3b3"/>
<circle cx="563.1" cy="969.7" r="3.4" fill="#b3b3b3"/>
<circle cx="564.8" cy="967.0" r="3.4" fill="#b3b3b3"/>
<circle cx="557.0" cy="963.1" r="3.4" fill="#b3b3b3"/>
<circle cx="559.7" cy="964.7" r="3.4" fill="#b3b3b3"/>
<circle cx="562.4" cy="961.6" r="3.4" fill="#b3b3b3"/>
<circle cx="565.1" cy="959.3" r="3.4" fill="#b3b3b3"/>
<circle cx="567.2" cy="956.2" r="3.4" fill="#b3b3b3"/>
<circle cx="569.9" cy="958.1" r="3.4" fill="#b3b3b3"/>
<circle cx="571.9" cy="954.2" r="3.4" fill="#b3b3b3"/>
<circle cx="568.2" cy="963.1" r="3.4" fill="#b3b3b3"/>
<circle cx="571.6" cy="965.9" r="3.4" fill="#b3b3b3"/>
<circle cx="575.0" cy="955.4" r="3.4" fill="#b3b3b3"/>
<circle cx="576.7" cy="950.4" r="3.4" fill="#b3b3b3"/>
<circle cx="566.5" cy="946.5" r="3.4" fill="#b3b3b3"/>
<circle cx="561.4" cy="949.2" r="3.4" fill="#b3b3b3"/>
<circle cx="558.0" cy="947.6" r="3.4" fill="#b3b3b3"/>
<circle cx="564.1" cy="951.5" r="3.4" fill="#b3b3b3"/>
<circle cx="573.3" cy="946.5" r="3.4" fill="#b3b3b3"/>
<circle cx="556.3" cy="957.0" r="3.4" fill="#b3b3b3"/>
<circle cx="559.7" cy="954.2" r="3.4" fill="#b3b3b3"/>
<circle cx="554.3" cy="972.4" r="3.4" fill="#b3b3b3"/>
<circle cx="558.3" cy="976.3" r="3.4" fill="#b3b3b3"/>
<circle cx="562.4" cy="974.8" r="3.4" fill="#b3b3b3"/>
<circle cx="568.2" cy="968.6" r="3.4" fill="#b3b3b3"/>
<circle cx="576.7" cy="960.8" r="3.4" fill="#b3b3b3"/>
<polyline fill="none" stroke="#555" stroke-width="1.7" stroke-dasharray="1.7 1.7" points="552.9,962.0 556.3,960.1 559.7,958.2 563.1,956.3 566.5,954.4 569.9,952.4 573.3,950.5 576.7,948.5 580.1,946.5 583.5,944.4 586.9,942.4 590.2,940.3 593.6,938.3 597.0,936.2 600.4,934.1 603.8,932.0 607.2,929.9 610.6,927.7 614.0,925.6 617.4,923.5 620.8,921.4 624.2,919.2 627.6,917.1 631.0,914.9 634.4,912.8 637.8,910.7 641.2,908.5 644.6,906.4 648.0,904.2 651.4,902.1 654.8,899.9 658.1,897.8 661.5,895.6 664.9,893.5 668.3,891.3 671.7,889.2 675.1,887.0 678.5,884.8 681.9,882.7 685.3,880.5 688.7,878.4 692.1,876.2 695.5,874.1 698.9,871.9 702.3,869.8 705.7,867.6 709.1,865.4 712.1,863.5"/>
<polyline fill="none" stroke="#555" stroke-width="1.7" stroke-dasharray="1.7 1.7" points="552.9,965.9 556.3,963.8 559.7,961.7 563.1,959.7 566.5,957.7 569.9,955.7 573.3,953.7 576.7,951.7 580.1,949.8 583.5,947.8 586.9,945.9 590.2,944.0 593.6,942.2 597.0,940.3 600.4,938.4 603.8,936.6 607.2,934.8 610.6,932.9 614.0,931.1 617.4,929.3 620.8,927.4 624.2,925.6 627.6,923.8 631.0,922.0 634.4,920.2 637.8,918.4 641.2,916.6 644.6,914.8 648.0,913.0 651.4,911.2 654.8,909.4 658.1,907.6 661.5,905.8 664.9,904.0 668.3,902.2 671.7,900.4 675.1,898.6 678.5,896.8 681.9,895.0 685.3,893.2 688.7,891.4 692.1,889.6 695.5,887.8 698.9,886.0 702.3,884.2 705.7,882.4 709.1,880.6 712.1,879.0"/>
<line x1="552.9" y1="963.9" x2="712.1" y2="871.2" stroke="#000" stroke-width="2.3"/>
<line x1="567.8" y1="954.7" x2="721.1" y2="954.7" stroke="#666" stroke-width="2" stroke-dasharray="8.4 7.7"/>
<polygon points="569.6,949.4 570.9,952.8 574.5,953.0 571.7,955.3 572.7,958.8 569.6,956.8 566.5,958.8 567.5,955.3 564.7,953.0 568.3,952.8" fill="#8c0014"/>
<text x="568.9" y="865.9" font-size="12.7" fill="#111" xml:space="preserve">Y = 0.051X  + 0.075</text>
<text x="568.4" y="880.1" font-size="12.7" fill="#111">R<tspan font-size="8.5" dy="-4.6">2</tspan><tspan dy="4.6"> = 0.78</tspan></text>
</svg></body></html>
